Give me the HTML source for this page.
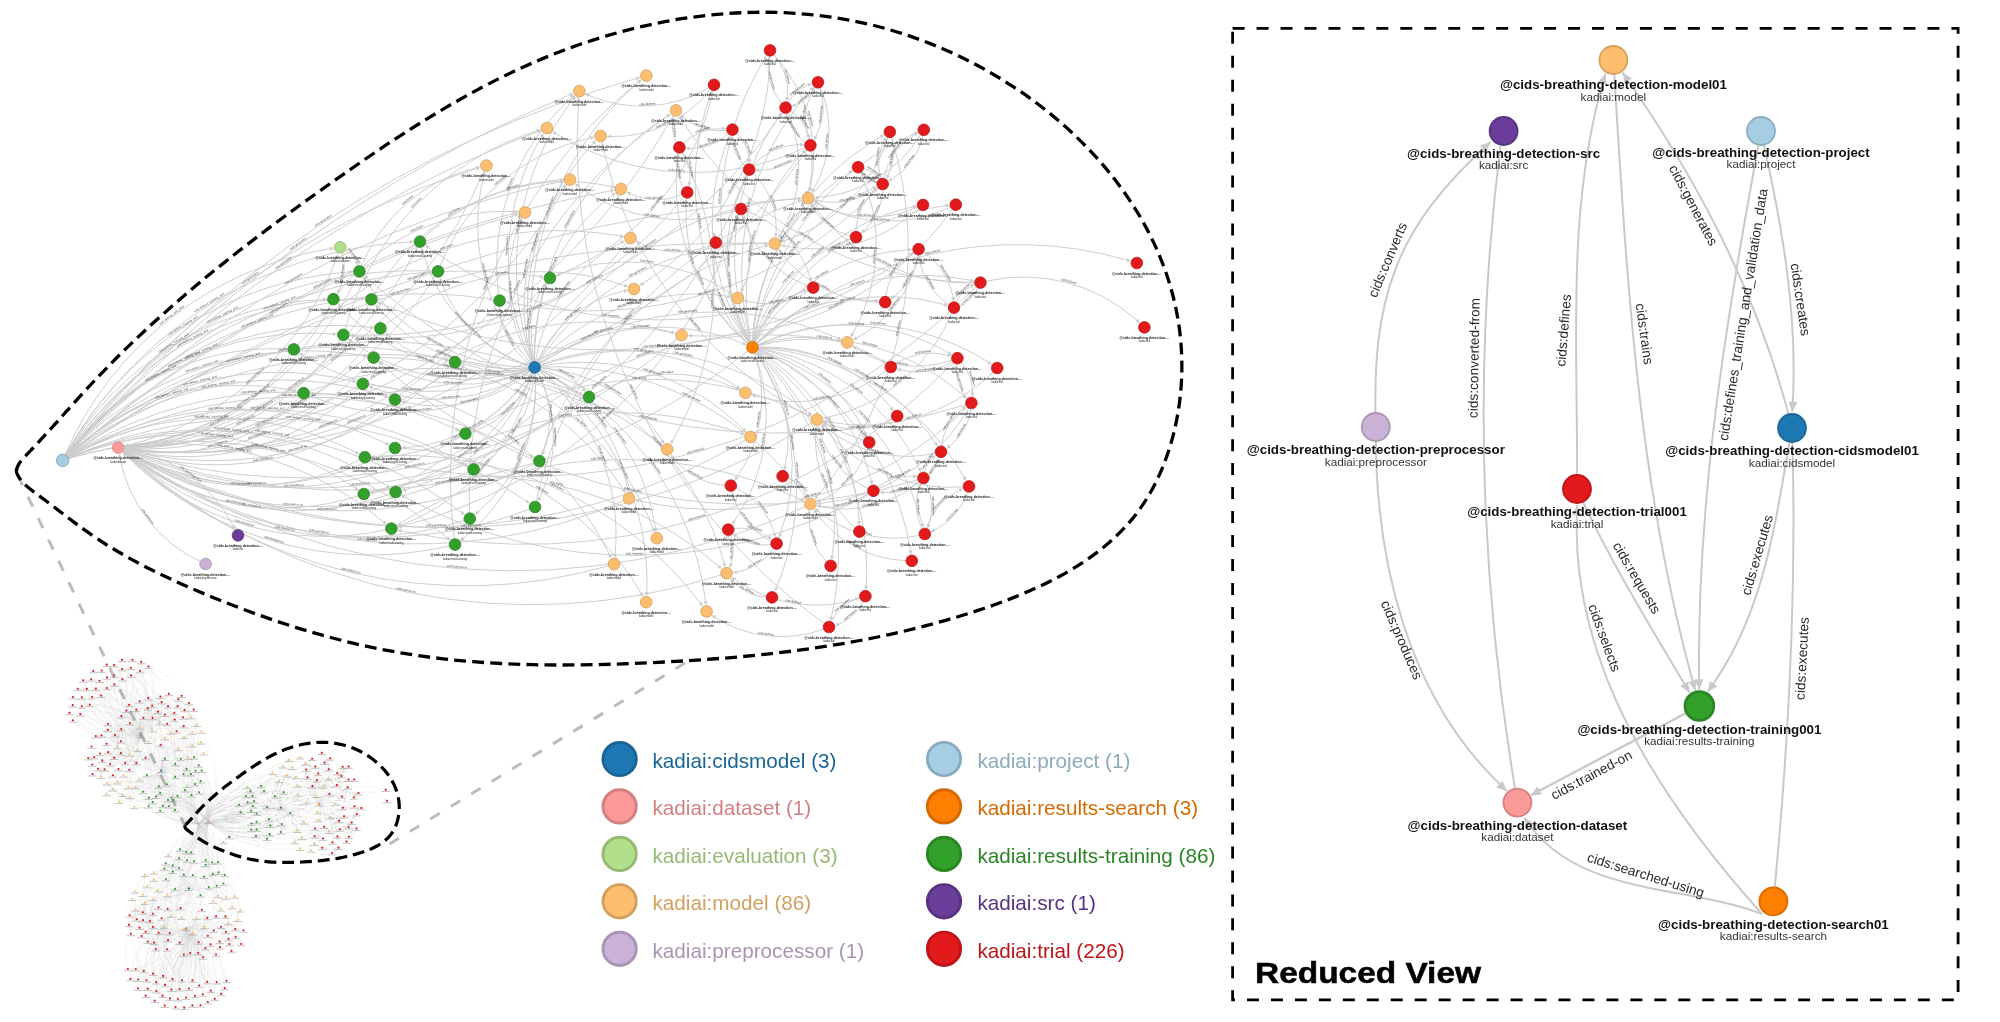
<!DOCTYPE html><html><head><meta charset="utf-8"><title>Graph</title><style>html,body{margin:0;padding:0;background:#fff;overflow:hidden}svg{display:block;will-change:transform}text{font-family:"Liberation Sans",sans-serif}</style></head><body>
<svg width="2000" height="1022" viewBox="0 0 2000 1022">
<rect width="2000" height="1022" fill="#fff"/>
<defs>
<g id="nJ"><circle r="6.2" fill="#a6cee3" stroke="#84a4b5" stroke-width="0.9"/></g>
<g id="nC"><circle r="5.85" fill="#1f78b4" stroke="#186090" stroke-width="0.7"/><text y="11.7" font-size="3.6" font-weight="bold" fill="#1a1a1a">@cids-breathing-detection-...</text><text y="15.1" font-size="2.55" fill="#222">kadiai:cidsmodel</text></g>
<g id="nD"><circle r="5.85" fill="#fb9a99" stroke="#c87b7a" stroke-width="0.7"/><text y="11.7" font-size="3.6" font-weight="bold" fill="#1a1a1a">@cids-breathing-detection-...</text><text y="15.1" font-size="2.55" fill="#222">kadiai:dataset</text></g>
<g id="nE"><circle r="5.85" fill="#b2df8a" stroke="#8eb26e" stroke-width="0.7"/><text y="11.7" font-size="3.6" font-weight="bold" fill="#1a1a1a">@cids-breathing-detection-...</text><text y="15.1" font-size="2.55" fill="#222">kadiai:evaluation</text></g>
<g id="nM"><circle r="5.85" fill="#fdbf6f" stroke="#ca9858" stroke-width="0.7"/><text y="11.7" font-size="3.6" font-weight="bold" fill="#1a1a1a">@cids-breathing-detection-...</text><text y="15.1" font-size="2.55" fill="#222">kadiai:model</text></g>
<g id="nP"><circle r="5.85" fill="#cab2d6" stroke="#a18eab" stroke-width="0.7"/><text y="11.7" font-size="3.6" font-weight="bold" fill="#1a1a1a">@cids-breathing-detection-...</text><text y="15.1" font-size="2.55" fill="#222">kadiai:preprocessor</text></g>
<g id="nS"><circle r="5.85" fill="#ff7f00" stroke="#cc6500" stroke-width="0.7"/><text y="11.7" font-size="3.6" font-weight="bold" fill="#1a1a1a">@cids-breathing-detection-...</text><text y="15.1" font-size="2.55" fill="#222">kadiai:results-search</text></g>
<g id="nT"><circle r="5.85" fill="#33a02c" stroke="#288023" stroke-width="0.7"/><text y="11.7" font-size="3.6" font-weight="bold" fill="#1a1a1a">@cids-breathing-detection-...</text><text y="15.1" font-size="2.55" fill="#222">kadiai:results-training</text></g>
<g id="nR"><circle r="5.85" fill="#6a3d9a" stroke="#54307b" stroke-width="0.7"/><text y="11.7" font-size="3.6" font-weight="bold" fill="#1a1a1a">@cids-breathing-detection-...</text><text y="15.1" font-size="2.55" fill="#222">kadiai:src</text></g>
<g id="nL"><circle r="5.85" fill="#e31a1c" stroke="#b51416" stroke-width="0.7"/><text y="11.7" font-size="3.6" font-weight="bold" fill="#1a1a1a">@cids-breathing-detection-...</text><text y="15.1" font-size="2.55" fill="#222">kadiai:trial</text></g>
</defs>
<g id="bg" font-family='"Liberation Sans", sans-serif' text-anchor="middle">
<path d="M65.1 455.6A351.9 351.9 0 0 1 349 272M357.2 276.3A298.7 298.7 0 0 1 128.5 446.3M529.2 367.4A199.8 199.8 0 0 1 365 280.1M65.3 455.7A315.1 315.1 0 0 1 323 299.5M331 304.1A261.4 261.4 0 0 1 128.5 446.6M529.3 368.4A212.4 212.4 0 0 1 340.4 306.8M65.5 455.9A348.3 348.3 0 0 1 361 299.1M368.7 304.1A293.4 293.4 0 0 1 128.6 447.4M529.2 368A176.8 176.8 0 0 1 378 307.5M65.9 456.1A344.1 344.1 0 0 1 370.1 327.2M377.2 332.8A288 288 0 0 1 128.6 448.4M529.4 368.8A159.1 159.1 0 0 1 388.1 335.4M65.8 456.1A307.6 307.6 0 0 1 333 333.9M340.4 339.3A251.9 251.9 0 0 1 128.6 448M529.5 369.2A194 194 0 0 1 351.6 341.2M65.7 456A256.5 256.5 0 0 1 283.4 348.8M291 354A201.2 201.2 0 0 1 128.6 447.5M529.7 369.7A241.5 241.5 0 0 1 302.5 355.1M66.2 456.4A327.5 327.5 0 0 1 363.4 355.7M370 361.7A270.8 270.8 0 0 1 128.5 449.3M529.7 369.7A161.3 161.3 0 0 1 382.5 363.1M66.5 456.7A309.8 309.8 0 0 1 352.7 381.2M358.9 387.6A252.8 252.8 0 0 1 128.3 450.2M530.2 370.5A172.6 172.6 0 0 1 372.4 387.8M66.4 456.6A250.2 250.2 0 0 1 293.5 390.8M299.8 397.1A193.2 193.2 0 0 1 128.4 449.8M530.2 370.6A232.4 232.4 0 0 1 313.2 397.2M66.7 456.9A337.9 337.9 0 0 1 385.2 396.3M390.8 403A280.9 280.9 0 0 1 128 451M530.6 371A143.3 143.3 0 0 1 405 402.3M65.2 455.7A419.1 419.1 0 0 1 409.6 242M417.6 246.4A365.4 365.4 0 0 1 128.6 446.7M529.5 365.7A170.2 170.2 0 0 1 422.5 251.7M65.6 455.9A420.3 420.3 0 0 1 427.6 270.9M435.2 276A365.1 365.1 0 0 1 128.6 447.7M529.4 365.9A136.2 136.2 0 0 1 441.1 281.3M66.1 456.3A520.4 520.4 0 0 1 539.7 276.4M546.6 282.2A463.9 463.9 0 0 1 128.5 449M532.9 362.3A90.7 90.7 0 0 1 543.8 286.4M66.1 456.3A465.3 465.3 0 0 1 489.3 298.9M496.2 304.8A408.7 408.7 0 0 1 128.5 449.1M530.1 364.3A75.4 75.4 0 0 1 499.9 311M66.5 456.7A404.5 404.5 0 0 1 445 359.5M451.1 365.9A347.5 347.5 0 0 1 128.2 450.3M529.7 369.6A79.8 79.8 0 0 1 464 367.4M66.9 457.2A530.2 530.2 0 0 1 579.4 393M584.6 400.2A473.5 473.5 0 0 1 127.8 451.7M540 367.5A61.9 61.9 0 0 1 582.9 388.6M67.2 457.6A332.6 332.6 0 0 1 385.7 443.3M390.3 450.6A276.8 276.8 0 0 1 127.3 452.6M531.8 372A161.2 161.2 0 0 1 405.4 447.7M67.3 457.7A302.2 302.2 0 0 1 355.7 452.3M360 459.7A246.8 246.8 0 0 1 127.1 453M531.7 371.9A192.1 192.1 0 0 1 375.2 457.3M67.6 458.3A303.1 303.1 0 0 1 355.3 488M358.7 495.7A249.9 249.9 0 0 1 126.2 454.2M532.4 372.3A212.6 212.6 0 0 1 374.1 492.6M67.5 458.2A334.5 334.5 0 0 1 387 486.1M390.5 493.9A280.9 280.9 0 0 1 126.4 454M532.8 372.5A186.7 186.7 0 0 1 405.7 489.6M67.7 458.7A335.8 335.8 0 0 1 383.5 521.8M386.1 529.8A285 285 0 0 1 125.5 455M533.4 372.7A215.6 215.6 0 0 1 401.2 525.1M67.1 457.4A403.7 403.7 0 0 1 456 429.1M460.8 436.5A347.5 347.5 0 0 1 127.5 452.3M532.9 372.5A95.8 95.8 0 0 1 475.3 430.6M67.3 457.7A476.8 476.8 0 0 1 530.3 455.9M534.6 463.5A421.4 421.4 0 0 1 127.1 453M537.4 372A93.7 93.7 0 0 1 543.6 451.5M67.4 457.8A411.1 411.1 0 0 1 464.6 464.1M468.7 471.8A356.1 356.1 0 0 1 127 453.2M534.4 372.8A118.8 118.8 0 0 1 482.5 463.9M67.5 458.2A474.7 474.7 0 0 1 526.5 501M530 509A421 421 0 0 1 126.5 453.9M537.2 372.1A139.6 139.6 0 0 1 539.8 497.8M67.6 458.4A411.3 411.3 0 0 1 461.5 512.3M464.7 520.3A358.7 358.7 0 0 1 126.1 454.4M535.2 372.8A164.5 164.5 0 0 1 477.9 512.1M67.7 458.8A401.3 401.3 0 0 1 447.2 537.7M449.7 545.9A350.5 350.5 0 0 1 125.5 455M535.1 372.8A194.3 194.3 0 0 1 463.3 538.3M64.7 455.4A350 350 0 0 1 329.9 248.7M338.5 252.3A299.1 299.1 0 0 1 128.3 445.2M345 249.6A30.9 30.9 0 0 1 356.2 261.6M342 252.3A52.4 52.4 0 0 1 338.9 290.4M66.7 456.9A481.1 481.1 0 0 1 524.7 364.1M539 364.3A218.7 218.7 0 0 1 742.9 343.3M748.2 350.8A642.1 642.1 0 0 1 127.9 451.3M532.7 362.3A280 280 0 0 1 573 99.2M66.1 456.3A1363.8 1363.8 0 0 1 569.8 94.9M533.8 362.1A312.5 312.5 0 0 1 638.4 82.3M66 456.2A1139.2 1139.2 0 0 1 636.4 78.4M534.5 362A293.3 293.3 0 0 1 667.2 115.9M673.4 115.1A651.8 651.8 0 0 1 128.6 447.3M532.2 362.6A239.7 239.7 0 0 1 541.5 136.8M66.2 456.4A1214.2 1214.2 0 0 1 537.3 131.7M533.3 362.1A240.6 240.6 0 0 1 593.3 143.4M530.9 363.4A207.5 207.5 0 0 1 483.7 175.6M65.9 456.1A831.3 831.3 0 0 1 476.5 168.7M484.3 170.6A463.8 463.8 0 0 1 128.5 446.1M532.9 362.3A191.1 191.1 0 0 1 563.4 187.7M66.3 456.5A947.1 947.1 0 0 1 559.8 181.7M567.3 184.3A525.3 525.3 0 0 1 128.6 447.4M534.3 362A198.2 198.2 0 0 1 612.6 195.1M66.6 456.8A1122.7 1122.7 0 0 1 610.8 190.8M537.2 362.7A321.7 321.7 0 0 1 797.7 198.5M67 457.3A1462 1462 0 0 1 797.7 198.7M531.7 362.8A155.3 155.3 0 0 1 520.7 221.9M66.7 456.8A1153.5 1153.5 0 0 1 515 215.1M535.3 362A161 161 0 0 1 621 242.4M627.1 242.3A553.4 553.4 0 0 1 128.5 448.9M537.6 362.9A270.2 270.2 0 0 1 764.4 243.3M67 457.3A1153.3 1153.3 0 0 1 764.4 243.3M536.7 362.4A126.6 126.6 0 0 1 623.8 290.9M538.2 363.4A214.5 214.5 0 0 1 727.4 296.2M538.7 363.8A150.5 150.5 0 0 1 671.6 332.4M677.5 338.7A574.5 574.5 0 0 1 128.1 450.8M539.6 365.3A212.3 212.3 0 0 1 736.9 386.8M539.1 364.4A313.6 313.6 0 0 1 837.7 338.1M539.9 366.3A226.9 226.9 0 0 1 743.4 429.5M746 439.8A632.5 632.5 0 0 1 127.3 452.6M540 367.7A155.9 155.9 0 0 1 662 440.4M539.5 369.7A161.5 161.5 0 0 1 627.6 488.1M624.1 500.6A513.3 513.3 0 0 1 126.7 453.6M539.5 369.7A210 210 0 0 1 655.5 527.9M538.8 370.8A212.2 212.2 0 0 1 615.2 553.9M608.8 565.7A509.3 509.3 0 0 1 125.8 454.6M539.7 369A281.5 281.5 0 0 1 724.1 563.1M721.5 574.9A621.2 621.2 0 0 1 126 454.4M539 370.5A260 260 0 0 1 646.8 591.8M539.5 369.7A298.6 298.6 0 0 1 705.5 601.2M539.7 365.6A287.2 287.2 0 0 1 809 413M812.4 422.5A699.4 699.4 0 0 1 127.4 452.4M540 367.1A307.8 307.8 0 0 1 804.5 495.4M805.5 506.3A694.5 694.5 0 0 1 126.8 453.4M361.3 266.4A165.3 165.3 0 0 1 476.2 167.7M336.6 294.9A210.3 210.3 0 0 1 514.6 211.6M374.1 294.7A231.9 231.9 0 0 1 559.6 180M384.6 325.1A256.6 256.6 0 0 1 624.2 285.4M344.8 329.6A290.2 290.2 0 0 1 537 130.9M297.4 345.4A354.6 354.6 0 0 1 620.2 236M379 357.5A291.6 291.6 0 0 1 623.5 489.6M368.2 384.4A309.3 309.3 0 0 1 609.6 554.8M308.6 391.3A367.9 367.9 0 0 1 659 443M399 396A293.7 293.7 0 0 1 671.6 332.3M423.9 237.9A207.8 207.8 0 0 1 610.9 186.5M439.9 266.4A211.6 211.6 0 0 1 590.4 138M555 275.9A188.7 188.7 0 0 1 729 292.1M498.8 295.3A224.3 224.3 0 0 1 571.5 97.8M460.3 363.3A267.8 267.8 0 0 1 653.2 528.4M593.7 394.3A156.5 156.5 0 0 1 736.1 388.2M400.4 448.2A294.8 294.8 0 0 1 641.1 593.1M370.2 456.7A375 375 0 0 1 700.4 603.1M369 492.4A371.3 371.3 0 0 1 718.8 566.3M399.8 488.6A359.2 359.2 0 0 1 740.9 433.4M395.9 525.7A419.7 419.7 0 0 1 801 499.5M470 430.8A351.9 351.9 0 0 1 807.7 414.9M541 455.9A320.4 320.4 0 0 1 764.7 246.1M477.2 465.4A394.6 394.6 0 0 1 837 340.5M536.1 501.7A412.4 412.4 0 0 1 798.3 201.4M469.5 513.2A457.3 457.3 0 0 1 667.4 116.2M454.3 539.2A506.6 506.6 0 0 1 638.2 82.1M750 342.6A297.5 297.5 0 0 1 764.4 59.2M773.7 54.3A152.4 152.4 0 0 1 810.5 187.9M770 55.8A274.6 274.6 0 0 1 642.9 283.6M773.7 54.4A59.3 59.3 0 0 1 787.4 97.4M781.9 103.6A59.3 59.3 0 0 1 768.2 60.6M749.1 343.1A265.4 265.4 0 0 1 710.3 94.5M710.8 89.1A124.4 124.4 0 0 1 611 136.6M709.4 87.6A134.7 134.7 0 0 1 588.8 95.4M713 90.1A253.4 253.4 0 0 1 559.7 274.3M750.4 342.4A242.1 242.1 0 0 1 779.4 115.9M787.8 112.5A136.4 136.4 0 0 1 780.4 234.8M782.6 112.1A497.2 497.2 0 0 1 353.8 335.2M790.3 110.3A45.1 45.1 0 0 1 808.6 135.1M805.7 142.6A45.1 45.1 0 0 1 787.4 117.8M749.3 343A218.7 218.7 0 0 1 728.3 139.1M727.1 130.4A59.6 59.6 0 0 1 683.5 117.6M736.5 133.1A43.4 43.4 0 0 1 749.3 159.2M745.1 166.1A43.4 43.4 0 0 1 732.3 140M748.3 343.9A212.9 212.9 0 0 1 677.9 157.7M676.6 142.8A37.2 37.2 0 0 1 673 120.3M681.9 152.2A302.2 302.2 0 0 1 672.6 440.5M683.2 143.5A55.9 55.9 0 0 1 722.1 128.5M728.6 133.5A55.9 55.9 0 0 1 689.7 148.5M749.7 342.7A177.8 177.8 0 0 1 744.4 178.8M753.2 173.3A78.3 78.3 0 0 1 776.1 233.3M747.3 174.7A503.8 503.8 0 0 1 374 492.1M752.7 165.5A65.8 65.8 0 0 1 800 144.6M806.9 149.4A65.8 65.8 0 0 1 759.6 170.3M748.2 344.1A168.2 168.2 0 0 1 686.2 202.8M682.3 194.7A66.3 66.3 0 0 1 630.1 193.9M683.9 196.7A372.1 372.1 0 0 1 353.7 336M684 188.1A45.7 45.7 0 0 1 677 157.5M682.6 151.7A45.7 45.7 0 0 1 689.6 182.3M749.4 342.9A138.9 138.9 0 0 1 736.9 218.6M743.4 213.8A89.1 89.1 0 0 1 742.6 288.9M735.9 210.8A173.5 173.5 0 0 1 578.2 186M739.3 214.1A473.7 473.7 0 0 1 401.5 526.2M751 342.2A273.1 273.1 0 0 1 810.9 89.9M820.2 87.2A116.1 116.1 0 0 1 813.7 189.2M815.7 87.2A41.1 41.1 0 0 1 795.6 104.9M787.9 102.7A41.1 41.1 0 0 1 808 85M751.2 342.1A210.3 210.3 0 0 1 803.1 152.7M811.2 150.6A104.5 104.5 0 0 1 782.4 236.5M805.5 147.6A264 264 0 0 1 555.8 133.6M807.4 149.8A564.2 564.2 0 0 1 314 393.8M808.5 140.2A63.5 63.5 0 0 1 812.5 91.1M819.9 87.4A63.5 63.5 0 0 1 815.9 136.5M752.7 342A255.6 255.6 0 0 1 880.7 136.9M888.2 137.1A160.3 160.3 0 0 1 784.8 240.7M891.4 137A380.5 380.5 0 0 1 817.3 496.2M891.6 137A52.6 52.6 0 0 1 888.2 175.2M880.9 178.9A52.6 52.6 0 0 1 884.3 140.7M753.2 342.1A277 277 0 0 1 914.2 133.8M921 134.4A134.3 134.3 0 0 1 818.5 197.5M922.9 135.1A68 68 0 0 1 891.9 179.2M883.6 178.7A68 68 0 0 1 914.6 134.6M752.5 342A208.9 208.9 0 0 1 849.2 172.6M860.4 172.1A175.5 175.5 0 0 1 852.7 333.6M863.4 168.1A29.8 29.8 0 0 1 876.7 175.6M877.4 183.1A29.8 29.8 0 0 1 864.1 175.6M753.3 342.1A209 209 0 0 1 873.1 188M878.5 187.4A75.9 75.9 0 0 1 818.1 200.8M879 187.9A400.5 400.5 0 0 1 509.8 302.8M754.3 342.4A222.3 222.3 0 0 1 912.8 206.9M918.1 207.2A115.1 115.1 0 0 1 817 203.3M919.1 208.6A153.2 153.2 0 0 1 784.9 246M754.7 342.5A248.5 248.5 0 0 1 945.5 205.8M951 207.1A147.9 147.9 0 0 1 817.1 203.3M952.7 209.1A303.7 303.7 0 0 1 692 335.8M748.4 343.8A111 111 0 0 1 714.3 252.9M710.9 244.9A85.5 85.5 0 0 1 639.4 243.1M753.7 342.2A151.4 151.4 0 0 1 846.2 240.3M850.7 235.9A61.8 61.8 0 0 1 812.6 207.4M855.9 231.6A59.3 59.3 0 0 1 874.5 190.4M882.8 189.4A59.3 59.3 0 0 1 864.2 230.6M755.1 342.7A193 193 0 0 1 908.2 249.6M917.8 254.5A117.4 117.4 0 0 1 856.6 338M914.2 252.3A549.5 549.5 0 0 1 380.9 303.7M756.2 343.6A237 237 0 0 1 970.3 280.3M975 282.9A191.9 191.9 0 0 1 814.1 206.5M975 282.6A349.7 349.7 0 0 1 681.4 119.3M976.6 286.5A639.9 639.9 0 0 1 374.9 459.7M978.5 287.6A36.4 36.4 0 0 1 963.6 303.8M955.9 302.6A36.4 36.4 0 0 1 970.8 286.4M754 342.2A85.3 85.3 0 0 1 803.3 290.8M808.8 290.8A76.3 76.3 0 0 1 747.5 301.3M808.2 289.7A395.9 395.9 0 0 1 428.4 247.7M808.1 285.9A106.7 106.7 0 0 1 743.8 219M746.1 210.7A106.7 106.7 0 0 1 810.4 277.6M756 343.4A140.3 140.3 0 0 1 874.9 300.6M879.8 302.3A125 125 0 0 1 780.7 252.2M885.6 296.8A62.6 62.6 0 0 1 909.8 254.8M918.2 254.6A62.6 62.6 0 0 1 894 296.6M756.5 343.9A205.5 205.5 0 0 1 944.1 304.5M952 312.6A177 177 0 0 1 827.2 417.6M949.4 304.8A68.3 68.3 0 0 1 919.6 259.5M923.2 252A68.3 68.3 0 0 1 953 297.3M757.2 345A205.3 205.3 0 0 1 948.5 352.8M952.3 360.1A111.3 111.3 0 0 1 855.7 348.4M953.7 362.1A591.1 591.1 0 0 1 401.5 530.9M961.2 362.1A46.9 46.9 0 0 1 972.5 392.7M967.6 399.1A46.9 46.9 0 0 1 956.3 368.5M757.3 345.2A245.7 245.7 0 0 1 988.5 362.2M993.4 371.8A187.4 187.4 0 0 1 827.2 421.8M757.4 345.5A139.8 139.8 0 0 1 882.4 360.9M886.6 370.4A147.7 147.7 0 0 1 755.3 396M895.2 363.9A67.2 67.2 0 0 1 947.5 355M953 361.3A67.2 67.2 0 0 1 900.7 370.2M757.6 346A225.9 225.9 0 0 1 963.8 395.9M968.8 407.7A190.1 190.1 0 0 1 820.8 503.3M967.6 406.8A355.4 355.4 0 0 1 639.1 500.8M966.3 404.6A626 626 0 0 1 367.2 278.3M971 408.4A57.5 57.5 0 0 1 949.7 446.1M941.4 446.4A57.5 57.5 0 0 1 962.7 408.7M756 351.4A132.3 132.3 0 0 1 785.2 466.1M787.7 478A39.3 39.3 0 0 1 806.4 494.4M754.2 352.5A139.9 139.9 0 0 1 737 477.3M725.4 485.4A73.2 73.2 0 0 1 673.1 458M735.7 487.8A73.9 73.9 0 0 1 774.4 533.4M771.7 541.4A73.9 73.9 0 0 1 733 495.8M754.4 352.4A183.8 183.8 0 0 1 734.3 521.2M730.4 534.5A43.6 43.6 0 0 1 731 563.8M733.5 528.6A50.4 50.4 0 0 1 768.7 536.9M771.3 544.6A50.4 50.4 0 0 1 736.1 536.3M755.6 351.8A197.7 197.7 0 0 1 780.4 533.9M773.7 548.2A58.1 58.1 0 0 1 736.9 572.2M755.4 351.9A250.8 250.8 0 0 1 776.3 587.9M766.6 597.3A51.4 51.4 0 0 1 733 581.4M757.8 347.1A160.2 160.2 0 0 1 891 407.6M892.6 418.8A80.3 80.3 0 0 1 826.5 423.8M757.7 348.4A150.6 150.6 0 0 1 865.2 432.8M867.8 447.6A85.2 85.2 0 0 1 820.2 500.5M864.1 440.6A407.5 407.5 0 0 1 602.8 146.2M757.8 347.4A215.6 215.6 0 0 1 935.4 443M935.8 453.1A128.1 128.1 0 0 1 824.7 426.6M940.2 457.1A31.6 31.6 0 0 1 931.8 472M924.2 472.7A31.6 31.6 0 0 1 932.6 457.8M757.7 348.2A215.2 215.2 0 0 1 919.2 468.5M919.4 481.6A116 116 0 0 1 820.5 506.6M918.2 479.6A562.8 562.8 0 0 1 381.4 364.5M757.8 347.7A257.4 257.4 0 0 1 964 477.3M963.6 486.9A166 166 0 0 1 823.4 427.8M967.6 491.6A65 65 0 0 1 934.5 530.2M926.2 528.8A65 65 0 0 1 959.3 490.2M757.5 349.3A187.6 187.6 0 0 1 871.3 480.6M868.4 488.7A90.8 90.8 0 0 1 819.1 429.8M869.2 494.2A64.4 64.4 0 0 1 820.5 506.4M868.7 493.5A477.8 477.8 0 0 1 404.7 497.1M877.5 487.2A51.6 51.6 0 0 1 913.2 476.2M919.3 481.6A51.6 51.6 0 0 1 883.6 492.6M757 350.1A213 213 0 0 1 859.1 521.2M855.3 528.1A119.8 119.8 0 0 1 815.8 429.9M757.5 349.1A254 254 0 0 1 922.3 523.9M919.6 535.3A118.3 118.3 0 0 1 818.1 511M922.2 529.3A56 56 0 0 1 919.3 487.5M926 482.7A56 56 0 0 1 928.9 524.5M757.3 349.6A266.4 266.4 0 0 1 910.4 550.5M906.4 560.7A116.2 116.2 0 0 1 816.1 512.7M756.5 350.9A232 232 0 0 1 832.2 555.5M826.7 562A65 65 0 0 1 809.1 514.3M756.8 350.6A273.3 273.3 0 0 1 866.2 585.8M860.3 598A140.7 140.7 0 0 1 734.9 579.5M863.3 601.2A47.7 47.7 0 0 1 839 624.1M831.1 622A47.7 47.7 0 0 1 855.4 599.1M756.2 351.2A289.9 289.9 0 0 1 831.5 616.9M824 629A123.4 123.4 0 0 1 715.1 617.4M824.6 623.9A591.3 591.3 0 0 1 578.6 101.4M756.4 343.8A393.6 393.6 0 0 1 1126.8 260M985.6 281.3A170 170 0 0 1 1136.9 320.2M123.6 448.3A148.5 148.5 0 0 1 233.5 526M200.7 561.8A145.6 145.6 0 0 1 119.8 457.9" fill="none" stroke="#cbcbcb" stroke-width="0.95"/>
<path d="M353.2 271.7L349.2 274L348.9 270ZM124.4 446.9L128.2 444.3L128.8 448.3ZM362.7 276.6L366.7 279L363.4 281.3ZM327.2 299.3L323.1 301.5L322.9 297.5ZM124.4 447L128.3 444.6L128.8 448.5ZM337.6 303.8L341.9 305.5L339 308.2ZM365.2 299.2L361 301.1L361 297.1ZM124.4 447.5L128.5 445.4L128.7 449.4ZM375.2 304.3L379.5 306.2L376.4 308.8ZM374.2 327.7L369.9 329.2L370.3 325.2ZM124.4 448.1L128.7 446.4L128.4 450.4ZM384.9 332.6L389.4 333.9L386.8 336.9ZM337.2 334.2L332.9 335.9L333.2 331.9ZM124.4 447.9L128.6 446L128.5 450ZM348.2 338.7L352.8 339.6L350.4 342.8ZM287.6 349L283.3 350.8L283.5 346.8ZM124.4 447.6L128.5 445.5L128.7 449.5ZM299 352.8L303.6 353.4L301.4 356.8ZM367.5 356.4L363 357.6L363.7 353.7ZM124.3 448.7L128.8 447.3L128.2 451.3ZM378.8 360.9L383.5 361.3L381.4 364.8ZM356.8 382.2L352.3 383.1L353.2 379.2ZM124.2 449.2L128.7 448.2L127.8 452.1ZM368.5 386.3L373.1 386L371.6 389.7ZM297.6 391.7L293 392.8L293.9 388.9ZM124.2 449L128.8 447.8L128 451.7ZM309.3 395.6L314 395.3L312.5 399ZM389.1 397.6L384.5 398.2L385.8 394.4ZM124 449.7L128.7 449.1L127.4 452.9ZM401 401.3L405.5 400.3L404.6 404.2ZM413.8 241.8L409.7 244L409.5 240ZM124.4 447.1L128.4 444.7L128.8 448.7ZM421.4 247.6L424.5 251.2L420.6 252.2ZM431.8 271.1L427.5 272.9L427.7 268.9ZM124.4 447.7L128.6 445.7L128.6 449.7ZM439.8 277.3L443 280.7L439.2 282ZM543.9 277L539.4 278.4L540 274.4ZM124.3 448.5L128.8 447L128.2 451ZM546.2 282.9L545.5 287.5L542.2 285.2ZM493.5 299.6L489 300.9L489.6 296.9ZM124.3 448.5L128.8 447.1L128.2 451.1ZM499.6 306.8L501.9 310.8L497.9 311.1ZM449 360.5L444.5 361.4L445.5 357.5ZM124.2 449.2L128.7 448.3L127.8 452.2ZM460.3 365.4L464.9 365.6L463.1 369.2ZM583.3 394.6L578.6 394.9L580.2 391.2ZM123.9 450.1L128.5 449.9L127 453.5ZM585.5 391.9L581.3 389.9L584.4 387.4ZM389.5 445.2L384.8 445.1L386.6 441.5ZM123.6 450.6L128.2 450.9L126.3 454.4ZM401.2 447.9L405.3 445.7L405.5 449.7ZM359.4 454.2L354.7 454L356.6 450.5ZM123.5 450.8L128.1 451.2L126.1 454.7ZM371 457.3L375.2 455.3L375.2 459.3ZM358.8 490.4L354.2 489.6L356.5 486.3ZM123 451.6L127.5 452.7L125 455.8ZM369.9 493.2L373.8 490.6L374.4 494.5ZM390.5 488.5L385.9 487.8L388.2 484.4ZM123.1 451.5L127.6 452.4L125.2 455.6ZM401.6 490.6L405.2 487.6L406.2 491.5ZM386.7 524.5L382.2 523.3L384.8 520.3ZM122.5 452.1L126.9 453.6L124.1 456.4ZM397.3 526.6L400.5 523.2L401.9 527ZM459.8 430.9L455.2 430.9L456.9 427.3ZM123.7 450.4L128.4 450.5L126.6 454.1ZM471.4 431.9L474.7 428.7L476 432.5ZM534 457.9L529.4 457.6L531.3 454.1ZM123.5 450.8L128.1 451.3L126.1 454.7ZM542 455.4L541.8 450.7L545.5 452.2ZM468.3 466.2L463.6 465.8L465.6 462.4ZM123.4 451L128 451.5L125.9 454.9ZM478.9 466.2L481.4 462.3L483.5 465.6ZM529.9 503.4L525.3 502.7L527.6 499.4ZM123.1 451.4L127.7 452.3L125.3 455.5ZM538 501.6L538 496.9L541.6 498.7ZM464.9 514.8L460.3 513.9L462.7 510.7ZM122.9 451.7L127.4 452.8L124.8 455.9ZM474.7 514.8L476.6 510.6L479.2 513.6ZM450.4 540.5L445.9 539.2L448.5 536.2ZM122.5 452L126.9 453.6L124.1 456.4ZM460 540.9L462 536.7L464.5 539.9ZM334.1 248.1L330.2 250.7L329.6 246.7ZM124.2 446.2L127.9 443.3L128.8 447.2ZM357.9 265.4L354.4 262.4L358 260.8ZM336.9 294.1L337.1 289.4L340.6 291.3ZM528.7 365.4L524.1 366L525.3 362.2ZM746.7 344.9L742.1 345.1L743.6 341.4ZM124 449.8L128.6 449.4L127.2 453.1ZM575.5 95.8L574.6 100.4L571.4 98ZM573.7 93.3L570.5 96.8L569 93.1ZM641.6 79.6L639.7 83.8L637.1 80.8ZM640.4 77.3L636.9 80.4L635.8 76.5ZM670.7 113.7L668.3 117.6L666.1 114.3ZM124.4 447.4L128.5 445.3L128.7 449.3ZM543.7 133.2L543.2 137.9L539.8 135.8ZM541.2 130.2L538 133.5L536.6 129.8ZM596.2 140.4L594.7 144.8L591.8 142ZM484.7 171.6L485.6 176.1L481.7 175.1ZM480.5 167.4L477.1 170.6L475.9 166.7ZM124.3 446.8L128.2 444.2L128.8 448.1ZM566 184.4L565 188.9L561.9 186.4ZM563.9 180.8L560.2 183.6L559.4 179.7ZM124.4 447.5L128.5 445.4L128.7 449.4ZM615.9 192.6L613.7 196.7L611.4 193.5ZM614.9 190.1L611.1 192.8L610.4 188.9ZM801.9 198.3L797.8 200.5L797.6 196.5ZM801.9 198.4L797.9 200.7L797.6 196.7ZM522.3 218L522.5 222.7L518.8 221.1ZM519 214L515.5 217.1L514.4 213.2ZM624.8 240.6L621.9 244.2L620.1 240.7ZM124.3 448.4L128.8 446.9L128.3 450.9ZM768.6 243.4L764.4 245.3L764.4 241.3ZM768.6 243.4L764.4 245.3L764.5 241.3ZM627.9 290L624.2 292.9L623.4 289ZM731.5 296.9L727 298.2L727.7 294.3ZM675.7 333.4L671.1 334.3L672.1 330.5ZM124.1 449.6L128.7 448.9L127.5 452.8ZM740.4 389.2L735.8 388.4L738.1 385.1ZM841.6 339.8L836.9 339.9L838.5 336.3ZM746.4 432.5L742 430.8L744.9 428.1ZM123.6 450.6L128.3 450.8L126.4 454.3ZM664.2 444L660.3 441.5L663.7 439.4ZM628.3 492.2L625.6 488.4L629.6 487.8ZM123.3 451.2L127.8 451.9L125.6 455.2ZM656.1 532L653.6 528.2L657.5 527.6ZM614.8 558L613.2 553.7L617.2 554.1ZM122.7 451.8L127.2 453.2L124.5 456.1ZM725.1 567.2L722.1 563.6L726 562.6ZM122.9 451.7L127.3 452.9L124.7 456ZM646.6 596L644.8 591.7L648.8 591.9ZM706 605.3L703.5 601.4L707.5 600.9ZM812.2 415.6L807.7 414.6L810.2 411.4ZM123.7 450.5L128.4 450.6L126.5 454.1ZM806.9 498.9L802.9 496.6L806.1 494.3ZM123.3 451.1L127.9 451.8L125.7 455.1ZM480.3 166.8L476.7 169.6L475.8 165.7ZM518.8 211.9L514.5 213.6L514.7 209.6ZM563.8 179.8L559.7 182L559.5 178ZM628.2 286.8L623.6 287.3L624.9 283.6ZM541 129.7L537.6 132.9L536.4 129ZM624.3 236.8L619.8 238L620.5 234.1ZM625.7 493.1L621.8 490.7L625.1 488.5ZM611.4 558.6L607.8 555.7L611.4 553.9ZM662.3 445.6L657.8 444.6L660.2 441.4ZM675.7 333.4L671.1 334.2L672.2 330.4ZM615 187.4L610.5 188.5L611.4 184.6ZM594.5 137.1L590.8 140L590 136.1ZM732.5 294.4L727.9 293.8L730.1 290.4ZM574.6 95L572.8 99.3L570.2 96.2ZM654.7 532.4L651.4 529.1L655.1 527.7ZM739.9 390L735.2 390L737 386.3ZM643.2 596.8L639.4 594.1L642.8 592.1ZM702.9 606.5L698.8 604.3L702 601.9ZM722 569.1L717.5 567.8L720.1 564.8ZM744.8 434.8L740.2 435.3L741.5 431.5ZM804.8 501.3L800.2 501.3L801.9 497.6ZM811.5 416.8L806.8 416.7L808.6 413.1ZM768.8 245L765.2 248L764.2 244.1ZM841.1 341.2L836.6 342.5L837.3 338.5ZM802.2 200L799 203.3L797.6 199.5ZM670.8 113.8L668.5 117.8L666.2 114.5ZM641.5 79.4L639.5 83.6L637 80.5ZM766.6 55.6L766.1 60.2L762.7 58.1ZM809.6 192L808.6 187.5L812.5 188.3ZM639.3 285.8L641.8 281.9L643.9 285.3ZM786.9 101.5L785.4 97.1L789.3 97.6ZM768.7 56.5L770.2 60.9L766.3 60.4ZM711.8 90.6L712.2 95.2L708.5 93.9ZM606.8 136.5L611 134.6L610.9 138.6ZM585 93.7L589.6 93.6L588 97.2ZM555.8 275.8L559 272.4L560.5 276.2ZM781.9 112.5L781 117.1L777.8 114.8ZM778.2 238.4L778.7 233.8L782.1 235.8ZM349.6 335.1L353.9 333.2L353.7 337.2ZM809.6 139.2L806.7 135.6L810.6 134.6ZM786.4 113.7L789.3 117.3L785.4 118.3ZM729.9 135.3L730.1 139.9L726.4 138.4ZM680.3 114.8L684.8 116.1L682.2 119.1ZM749.5 163.4L747.3 159.4L751.3 159.1ZM732.1 135.8L734.3 139.8L730.3 140.1ZM678.4 153.5L679.8 158L675.9 157.4ZM673.9 116.2L675 120.7L671.1 119.9ZM670.5 444.1L670.9 439.5L674.3 441.5ZM726.3 128.7L722 130.5L722.2 126.5ZM685.5 148.3L689.8 146.5L689.6 150.5ZM746.3 175.1L746.2 179.7L742.6 178ZM775.7 237.5L774.1 233.1L778.1 233.5ZM369.9 492.9L373.6 490.1L374.4 494ZM804.2 144.7L800 146.6L800.1 142.6ZM755.4 170.2L759.6 168.3L759.5 172.3ZM686.5 198.6L688.2 202.9L684.2 202.6ZM626.4 192.1L631 192.1L629.3 195.7ZM349.6 335.6L353.9 334L353.5 338ZM677.7 153.3L678.9 157.8L675 157.1ZM688.9 186.5L687.7 182L691.6 182.7ZM738.5 214.7L738.8 219.3L735.1 217.8ZM740.7 292.6L740.8 288L744.4 289.8ZM574.8 183.5L579.4 184.4L577 187.6ZM397.4 527.2L401.1 524.3L402 528.2ZM813.8 86.8L812.4 91.3L809.5 88.6ZM811.5 192.8L811.9 188.2L815.4 190.2ZM791.7 106.3L794.9 103L796.3 106.8ZM811.9 83.6L808.7 86.9L807.3 83.1ZM806 149.7L804.5 154.1L801.7 151.3ZM779.4 239.5L781 235.1L783.8 237.9ZM552.2 131.4L556.8 131.9L554.7 135.3ZM309.8 393.6L314.1 391.8L313.9 395.8ZM814.5 87.4L814.2 92.1L810.7 90.1ZM813.9 140.2L814.2 135.5L817.7 137.5ZM884.3 134.8L881.7 138.6L879.7 135.1ZM780.8 242L784.2 238.8L785.4 242.6ZM814.5 499.4L815.7 494.9L818.8 497.5ZM886.2 178.9L886.5 174.2L890 176.2ZM886.3 137L886 141.7L882.5 139.7ZM918.1 132.2L915 135.7L913.4 132ZM814.3 197.8L818.3 195.5L818.6 199.5ZM888.3 181.3L890.9 177.5L892.9 181ZM918.2 132.5L915.6 136.3L913.6 132.8ZM852.8 170.3L850.2 174.3L848.1 170.9ZM850.5 337.2L851 332.5L854.4 334.6ZM879.5 178.7L875.2 176.9L878.2 174.3ZM861.3 172.5L865.6 174.3L862.6 176.9ZM877 186.4L873.9 189.9L872.3 186.2ZM814 199.8L818.6 198.8L817.7 202.7ZM505.6 302L510.2 300.9L509.3 304.8ZM916.9 206L913.2 208.9L912.4 205ZM813.4 201.3L818 201.6L816 205.1ZM780.8 245.1L785.3 244.1L784.5 248ZM949.6 205.3L945.7 207.8L945.2 203.8ZM813.4 201.2L818 201.5L816.1 205ZM687.8 335.6L692.1 333.8L691.9 337.8ZM714.8 248.7L716.3 253.1L712.4 252.7ZM635.7 241.2L640.4 241.4L638.5 244.9ZM850.1 238.9L846.8 242.2L845.5 238.5ZM810.6 203.7L814.4 206.4L810.8 208.3ZM877.7 187.7L875.9 191.9L873.2 188.9ZM861 233.3L862.8 229.1L865.5 232.1ZM912.4 249.4L908.3 251.6L908.1 247.6ZM852.9 339.9L855.7 336.2L857.5 339.8ZM377 302L381.7 301.8L380.1 305.5ZM974.4 281.2L969.8 282.2L970.7 278.3ZM811.6 203.1L815.7 205.3L812.5 207.7ZM679.2 115.7L683.1 118.2L679.7 120.3ZM370.8 458.7L375.4 457.7L374.4 461.6ZM959.9 305.7L962.7 302L964.5 305.6ZM974.5 284.5L971.7 288.2L969.9 284.6ZM807.3 289.4L804 292.7L802.6 288.9ZM743.4 300.1L748 299.3L746.9 303.2ZM425 245.3L429.6 246.1L427.3 249.3ZM742.5 215L745.7 218.4L741.8 219.6ZM811.7 281.6L808.5 278.2L812.4 277ZM879.1 301.1L874.7 302.5L875.2 298.6ZM778.2 248.8L782.3 251L779.1 253.3ZM913.3 252.4L911 256.4L908.7 253.2ZM890.5 299L892.8 295L895.1 298.2ZM948.1 305.7L943.5 306.4L944.6 302.6ZM823.1 418.5L826.8 415.7L827.6 419.6ZM919 255.4L921.6 259.3L917.6 259.8ZM953.6 301.4L951 297.5L955 297ZM952.2 354.9L947.5 354.5L949.6 351ZM852.2 346.1L856.8 346.8L854.6 350.1ZM397.4 530L402 528.9L401.1 532.8ZM972.4 396.9L970.5 392.6L974.5 392.8ZM956.4 364.3L958.3 368.6L954.3 368.4ZM992.1 364.5L987.5 363.9L989.6 360.6ZM823 421L827.6 419.9L826.8 423.8ZM885.8 363.3L881.2 362.5L883.5 359.3ZM751.3 394.8L755.9 394.1L754.7 397.9ZM951.6 356.1L947 356.9L948.1 353.1ZM896.6 369.1L901.2 368.3L900.1 372.1ZM966.9 398.7L962.4 397.4L965.1 394.4ZM816.6 503.7L820.6 501.3L820.9 505.3ZM635 499.9L639.6 498.9L638.7 502.8ZM364 275.5L368.5 276.8L365.8 279.8ZM946.3 448.6L948.5 444.5L950.9 447.7ZM966.1 406.2L963.9 410.3L961.5 407.1ZM784.3 470.2L783.3 465.7L787.2 466.6ZM808.3 498.2L804.6 495.3L808.2 493.5ZM734.6 480.7L735.4 476.1L738.7 478.4ZM670.6 454.6L674.7 456.8L671.5 459.2ZM775.4 537.5L772.4 534L776.3 532.9ZM732 491.7L735 495.2L731.1 496.3ZM731.9 524.6L732.7 520L735.9 522.3ZM729.5 567.7L729.2 563.1L732.9 564.5ZM772 539.4L767.5 538.5L769.9 535.3ZM732.8 533.8L737.3 534.7L734.9 537.9ZM778.9 537.9L778.5 533.2L782.3 534.6ZM732.8 572.8L736.6 570.2L737.2 574.1ZM774.6 591.8L774.5 587.1L778.1 588.7ZM730.2 578.3L734.5 580.1L731.4 582.7ZM893.6 411L889.4 408.9L892.6 406.4ZM822.6 422.2L827.2 421.9L825.8 425.6ZM866.9 436.7L863.3 433.6L867 432ZM816.3 502L819.4 498.6L820.9 502.3ZM601.9 142.1L604.7 145.7L600.8 146.6ZM937.7 446.5L933.8 444.1L937.1 441.9ZM821.5 423.8L826 425.1L823.4 428.1ZM928.7 474.7L930.5 470.5L933.1 473.5ZM935.7 455.1L933.9 459.3L931.3 456.3ZM920.9 472.3L917.4 469.3L921 467.7ZM816.4 505.7L820.9 504.6L820 508.5ZM378.2 361.8L382.7 363L380 366ZM966.1 480.9L962.3 478.2L965.8 476.3ZM820.8 424.5L825 426.5L821.9 429ZM930.6 531.9L933.6 528.3L935.3 532ZM963.2 488.5L960.2 492.1L958.5 488.4ZM872.2 484.7L869.3 481.1L873.2 480.2ZM818.1 425.7L821 429.3L817.2 430.3ZM816.4 505.6L820.9 504.5L820.1 508.4ZM401 495.1L405.6 495.3L403.7 498.8ZM917.3 476.7L912.9 478.2L913.4 474.2ZM879.5 492.1L883.9 490.6L883.4 494.6ZM859.3 525.4L857.1 521.3L861.1 521.1ZM816.2 425.7L817.8 430.1L813.8 429.7ZM923.4 528L920.4 524.4L924.2 523.4ZM814.9 508.2L819.4 509.5L816.8 512.5ZM920.7 483.6L921.2 488.2L917.4 486.9ZM927.5 528.4L927 523.8L930.8 525.1ZM911 554.7L908.4 550.8L912.4 550.2ZM813.7 509.2L817.8 511.5L814.5 513.8ZM831.6 559.7L830.3 555.2L834.2 555.8ZM809.4 510.1L811.1 514.5L807.1 514.1ZM865.9 590L864.2 585.7L868.2 586ZM731.5 577L736 577.9L733.7 581.1ZM835 625.5L838.3 622.2L839.6 625.9ZM859.4 597.7L856.1 601L854.8 597.3ZM830.5 621L829.5 616.4L833.4 617.3ZM711.6 615.1L716.2 615.8L714 619.1ZM578.9 97.2L580.6 101.5L576.6 101.2ZM1130.9 261.2L1126.3 261.9L1127.4 258.1ZM1140 323.1L1135.5 321.7L1138.2 318.8ZM235.4 529.8L231.7 526.9L235.3 525.1ZM119.1 453.7L121.8 457.5L117.8 458.2Z" fill="#cbcbcb"/>
<g font-size="3.05" fill="#444"><text transform="translate(185.7 326.1) rotate(-32.5)" y="-0.9">cids:defines_training_and_...</text><text transform="translate(262.4 391.8) rotate(-36.1)" y="-0.9">cids:trained-on</text><text transform="translate(434.1 342.9) rotate(28.7)" y="-0.9">cids:executes</text><text transform="translate(176.4 343.5) rotate(-30.8)" y="-0.9">cids:defines_training_and_...</text><text transform="translate(245.7 402.2) rotate(-34.6)" y="-0.9">cids:trained-on</text><text transform="translate(424.9 360.3) rotate(18.7)" y="-0.9">cids:executes</text><text transform="translate(195.4 338.5) rotate(-27.5)" y="-0.9">cids:defines_training_and_...</text><text transform="translate(264.7 407.4) rotate(-30.3)" y="-0.9">cids:trained-on</text><text transform="translate(443.9 355.3) rotate(22.6)" y="-0.9">cids:executes</text><text transform="translate(203.8 351.8) rotate(-22.6)" y="-0.9">cids:defines_training_and_...</text><text transform="translate(265.3 423.1) rotate(-24.4)" y="-0.9">cids:trained-on</text><text transform="translate(452.3 368.6) rotate(14.2)" y="-0.9">cids:executes</text><text transform="translate(186.2 360) rotate(-24.1)" y="-0.9">cids:defines_training_and_...</text><text transform="translate(245.9 421.4) rotate(-26.6)" y="-0.9">cids:trained-on</text><text transform="translate(434.6 376.7) rotate(9.7)" y="-0.9">cids:executes</text><text transform="translate(163.3 373.9) rotate(-25.6)" y="-0.9">cids:defines_training_and_...</text><text transform="translate(219.2 422) rotate(-29.2)" y="-0.9">cids:trained-on</text><text transform="translate(411.8 390.7) rotate(4.3)" y="-0.9">cids:executes</text><text transform="translate(204.3 367.3) rotate(-18.3)" y="-0.9">cids:defines_training_and_...</text><text transform="translate(258 436.8) rotate(-19.4)" y="-0.9">cids:trained-on</text><text transform="translate(452.8 384.1) rotate(3.5)" y="-0.9">cids:executes</text><text transform="translate(202.4 381.9) rotate(-14.3)" y="-0.9">cids:defines_training_and_...</text><text transform="translate(249 448.5) rotate(-14.6)" y="-0.9">cids:trained-on</text><text transform="translate(450.9 398.6) rotate(-5.5)" y="-0.9">cids:executes</text><text transform="translate(174.1 394.5) rotate(-15.6)" y="-0.9">cids:defines_training_and_...</text><text transform="translate(218.2 445.2) rotate(-16.4)" y="-0.9">cids:trained-on</text><text transform="translate(422.6 411.2) rotate(-6.4)" y="-0.9">cids:executes</text><text transform="translate(220.7 385.5) rotate(-10.4)" y="-0.9">cids:defines_training_and_...</text><text transform="translate(263 460.7) rotate(-9.8)" y="-0.9">cids:trained-on</text><text transform="translate(469.1 402.2) rotate(-13)" y="-0.9">cids:executes</text><text transform="translate(212 303.1) rotate(-31.5)" y="-0.9">cids:defines_training_and_...</text><text transform="translate(296.7 385) rotate(-34.3)" y="-0.9">cids:trained-on</text><text transform="translate(460.4 319.9) rotate(47.7)" y="-0.9">cids:executes</text><text transform="translate(225 315.6) rotate(-26.7)" y="-0.9">cids:defines_training_and_...</text><text transform="translate(301.7 402.3) rotate(-28.9)" y="-0.9">cids:trained-on</text><text transform="translate(473.4 332.3) rotate(44.8)" y="-0.9">cids:executes</text><text transform="translate(281.9 303.9) rotate(-20.5)" y="-0.9">cids:defines_training_and_...</text><text transform="translate(356.8 420.7) rotate(-21.4)" y="-0.9">cids:trained-on</text><text transform="translate(530.3 320.6) rotate(-80.2)" y="-0.9">cids:executes</text><text transform="translate(259.7 322) rotate(-20.1)" y="-0.9">cids:defines_training_and_...</text><text transform="translate(328.6 425.2) rotate(-21.1)" y="-0.9">cids:trained-on</text><text transform="translate(508.2 338.7) rotate(62.3)" y="-0.9">cids:executes</text><text transform="translate(245.6 358.7) rotate(-14)" y="-0.9">cids:defines_training_and_...</text><text transform="translate(298 450) rotate(-14.2)" y="-0.9">cids:trained-on</text><text transform="translate(494.1 375.5) rotate(3.7)" y="-0.9">cids:executes</text><text transform="translate(317.3 358.2) rotate(-6.9)" y="-0.9">cids:defines_training_and_...</text><text transform="translate(360.4 485.4) rotate(-6.1)" y="-0.9">cids:trained-on</text><text transform="translate(565.8 374.9) rotate(28.6)" y="-0.9">cids:executes</text><text transform="translate(227.1 409.7) rotate(-2.1)" y="-0.9">cids:defines_training_and_...</text><text transform="translate(256.5 484.9) rotate(0.1)" y="-0.9">cids:trained-on</text><text transform="translate(475.6 426.4) rotate(-30)" y="-0.9">cids:executes</text><text transform="translate(213.3 418.3) rotate(-0.6)" y="-0.9">cids:defines_training_and_...</text><text transform="translate(240.2 485.4) rotate(2.2)" y="-0.9">cids:trained-on</text><text transform="translate(461.7 435) rotate(-27.9)" y="-0.9">cids:executes</text><text transform="translate(217.7 436.8) rotate(6.4)" y="-0.9">cids:defines_training_and_...</text><text transform="translate(234.8 503.7) rotate(10.7)" y="-0.9">cids:trained-on</text><text transform="translate(466.2 453.6) rotate(-36.5)" y="-0.9">cids:executes</text><text transform="translate(233.3 431.6) rotate(5.4)" y="-0.9">cids:defines_training_and_...</text><text transform="translate(251 507) rotate(9.1)" y="-0.9">cids:trained-on</text><text transform="translate(481.8 448.3) rotate(-41.9)" y="-0.9">cids:executes</text><text transform="translate(236.1 450.4) rotate(11.7)" y="-0.9">cids:defines_training_and_...</text><text transform="translate(243.9 524.7) rotate(16.5)" y="-0.9">cids:trained-on</text><text transform="translate(484.6 467.2) rotate(-48.4)" y="-0.9">cids:executes</text><text transform="translate(260.4 393) rotate(-3.8)" y="-0.9">cids:defines_training_and_...</text><text transform="translate(293.7 487.1) rotate(-2.3)" y="-0.9">cids:trained-on</text><text transform="translate(508.9 409.8) rotate(-43.7)" y="-0.9">cids:executes</text><text transform="translate(301.1 396.8) rotate(0.1)" y="-0.9">cids:defines_training_and_...</text><text transform="translate(327 510.7) rotate(1.8)" y="-0.9">cids:trained-on</text><text transform="translate(549.5 413.6) rotate(87.1)" y="-0.9">cids:executes</text><text transform="translate(269.3 409.8) rotate(1.3)" y="-0.9">cids:defines_training_and_...</text><text transform="translate(293 506.1) rotate(3.5)" y="-0.9">cids:trained-on</text><text transform="translate(517.8 426.6) rotate(-59.1)" y="-0.9">cids:executes</text><text transform="translate(305 420.4) rotate(5.6)" y="-0.9">cids:defines_training_and_...</text><text transform="translate(318.6 533.1) rotate(8.1)" y="-0.9">cids:trained-on</text><text transform="translate(553.5 437.1) rotate(89.8)" y="-0.9">cids:executes</text><text transform="translate(274 434.9) rotate(8.1)" y="-0.9">cids:defines_training_and_...</text><text transform="translate(284.5 530.2) rotate(11.4)" y="-0.9">cids:trained-on</text><text transform="translate(522.5 451.7) rotate(-66.8)" y="-0.9">cids:executes</text><text transform="translate(270.1 449.9) rotate(12.1)" y="-0.9">cids:defines_training_and_...</text><text transform="translate(273.6 541.2) rotate(16.1)" y="-0.9">cids:trained-on</text><text transform="translate(518.5 466.7) rotate(-65.8)" y="-0.9">cids:executes</text><text transform="translate(172.8 316.6) rotate(-37.5)" y="-0.9">cids:defines_test_data</text><text transform="translate(256 377.1) rotate(-42.1)" y="-0.9">cids:evaluated-on</text><text transform="translate(353 256.7) rotate(51.6)" y="-0.9">cids:evaluates</text><text transform="translate(343.8 274.1) rotate(-82.5)" y="-0.9">cids:evaluates</text><text transform="translate(286.1 350.7) rotate(-11.1)" y="-0.9">cids:creates</text><text transform="translate(640.8 328.2) rotate(-5.2)" y="-0.9">cids:executes</text><text transform="translate(448.7 482.5) rotate(-9)" y="-0.9">cids:searched-using</text><text transform="translate(520 223.2) rotate(-80.8)" y="-0.9">cids:generates</text><text transform="translate(299.2 245.2) rotate(-35.6)" y="-0.9">cids:generates</text><text transform="translate(551.4 206.5) rotate(-69)" y="-0.9">cids:generates</text><text transform="translate(324.2 222.1) rotate(-33.4)" y="-0.9">cids:generates</text><text transform="translate(570.9 220) rotate(-61.2)" y="-0.9">cids:generates</text><text transform="translate(442.3 353.7) rotate(-31.2)" y="-0.9">cids:trained-on</text><text transform="translate(508.7 246) rotate(-87)" y="-0.9">cids:generates</text><text transform="translate(284.4 264.5) rotate(-34.5)" y="-0.9">cids:generates</text><text transform="translate(536.6 242.9) rotate(-74.1)" y="-0.9">cids:generates</text><text transform="translate(483.5 273) rotate(76.6)" y="-0.9">cids:generates</text><text transform="translate(251 279.3) rotate(-34.8)" y="-0.9">cids:generates</text><text transform="translate(340.1 355.9) rotate(-37.4)" y="-0.9">cids:trained-on</text><text transform="translate(527.1 268.8) rotate(-79.3)" y="-0.9">cids:generates</text><text transform="translate(294.3 280.2) rotate(-29)" y="-0.9">cids:generates</text><text transform="translate(380 374.1) rotate(-30.7)" y="-0.9">cids:trained-on</text><text transform="translate(553.9 266.6) rotate(-64.2)" y="-0.9">cids:generates</text><text transform="translate(322.7 285.3) rotate(-25.9)" y="-0.9">cids:generates</text><text transform="translate(648.7 246.1) rotate(-31.8)" y="-0.9">cids:generates</text><text transform="translate(417.3 277.9) rotate(-19.4)" y="-0.9">cids:generates</text><text transform="translate(509 291.2) rotate(86.5)" y="-0.9">cids:generates</text><text transform="translate(279.5 309.8) rotate(-28.2)" y="-0.9">cids:generates</text><text transform="translate(565.2 289.9) rotate(-53.5)" y="-0.9">cids:generates</text><text transform="translate(402.4 411.4) rotate(-22.3)" y="-0.9">cids:trained-on</text><text transform="translate(638.1 273.3) rotate(-27.3)" y="-0.9">cids:generates</text><text transform="translate(400.7 293) rotate(-16.9)" y="-0.9">cids:generates</text><text transform="translate(573.8 314.9) rotate(-38.3)" y="-0.9">cids:generates</text><text transform="translate(626.8 305.5) rotate(-18.9)" y="-0.9">cids:generates</text><text transform="translate(603.8 331.6) rotate(-12.4)" y="-0.9">cids:generates</text><text transform="translate(415 466.9) rotate(-11.3)" y="-0.9">cids:trained-on</text><text transform="translate(643.4 351.9) rotate(6.9)" y="-0.9">cids:generates</text><text transform="translate(687.6 313) rotate(-4.6)" y="-0.9">cids:generates</text><text transform="translate(651.9 373.3) rotate(17.9)" y="-0.9">cids:generates</text><text transform="translate(435.8 527) rotate(-1)" y="-0.9">cids:trained-on</text><text transform="translate(611.9 390.6) rotate(31.7)" y="-0.9">cids:generates</text><text transform="translate(599.4 420.3) rotate(54.2)" y="-0.9">cids:generates</text><text transform="translate(366.8 541.4) rotate(5.7)" y="-0.9">cids:trained-on</text><text transform="translate(618.6 436.4) rotate(54.4)" y="-0.9">cids:generates</text><text transform="translate(600.7 455.2) rotate(68)" y="-0.9">cids:generates</text><text transform="translate(350.5 572.3) rotate(13.2)" y="-0.9">cids:trained-on</text><text transform="translate(658.2 444.6) rotate(47)" y="-0.9">cids:generates</text><text transform="translate(405.6 591.9) rotate(11.7)" y="-0.9">cids:trained-on</text><text transform="translate(621.9 469.8) rotate(64.6)" y="-0.9">cids:generates</text><text transform="translate(653.3 466.4) rotate(54.8)" y="-0.9">cids:generates</text><text transform="translate(682.8 355.7) rotate(10.5)" y="-0.9">cids:generates</text><text transform="translate(471.4 527.2) rotate(-2.3)" y="-0.9">cids:trained-on</text><text transform="translate(690.8 398.7) rotate(26.3)" y="-0.9">cids:generates</text><text transform="translate(456.7 568.5) rotate(4.7)" y="-0.9">cids:trained-on</text><text transform="translate(408.7 201.5) rotate(-39.8)" y="-0.9">cids:trains</text><text transform="translate(417.6 230.1) rotate(-24.4)" y="-0.9">cids:trains</text><text transform="translate(454.6 212.9) rotate(-31.1)" y="-0.9">cids:trains</text><text transform="translate(501.9 274.7) rotate(-8.8)" y="-0.9">cids:trains</text><text transform="translate(417.5 204.1) rotate(-45.4)" y="-0.9">cids:trains</text><text transform="translate(447.2 248.6) rotate(-18.3)" y="-0.9">cids:trains</text><text transform="translate(520.2 393.8) rotate(28.9)" y="-0.9">cids:trains</text><text transform="translate(512.6 440.3) rotate(35.7)" y="-0.9">cids:trains</text><text transform="translate(492.9 372.6) rotate(8.8)" y="-0.9">cids:trains</text><text transform="translate(529.7 329) rotate(-12.7)" y="-0.9">cids:trains</text><text transform="translate(513.5 188.4) rotate(-14.7)" y="-0.9">cids:trains</text><text transform="translate(501.2 181.9) rotate(-39.8)" y="-0.9">cids:trains</text><text transform="translate(646.5 262.9) rotate(6.1)" y="-0.9">cids:trains</text><text transform="translate(511.4 185.1) rotate(-69.2)" y="-0.9">cids:trains</text><text transform="translate(579.5 423.2) rotate(41.1)" y="-0.9">cids:trains</text><text transform="translate(666.6 373.9) rotate(-1.5)" y="-0.9">cids:trains</text><text transform="translate(541.3 491.4) rotate(31.5)" y="-0.9">cids:trains</text><text transform="translate(556.4 488.6) rotate(24.3)" y="-0.9">cids:trains</text><text transform="translate(555.8 485) rotate(12.3)" y="-0.9">cids:trains</text><text transform="translate(565.7 416.9) rotate(-8.8)" y="-0.9">cids:trains</text><text transform="translate(597.6 460.2) rotate(-3.4)" y="-0.9">cids:trains</text><text transform="translate(639.3 379.5) rotate(-2.3)" y="-0.9">cids:trains</text><text transform="translate(628 320.8) rotate(-42.7)" y="-0.9">cids:trains</text><text transform="translate(643.4 355.8) rotate(-18.8)" y="-0.9">cids:trains</text><text transform="translate(630.2 315.9) rotate(-48.5)" y="-0.9">cids:trains</text><text transform="translate(518.2 286.9) rotate(-63.2)" y="-0.9">cids:trains</text><text transform="translate(487.9 284.5) rotate(-67.8)" y="-0.9">cids:trains</text><text transform="translate(721.4 196.5) rotate(-86.6)" y="-0.9">cids:selects</text><text transform="translate(808.8 119.1) rotate(75.5)" y="-0.9">cids:defines</text><text transform="translate(734 187.9) rotate(-60.3)" y="-0.9">cids:defines</text><text transform="translate(785.5 76.9) rotate(74.7)" y="-0.9">cids:follows</text><text transform="translate(770.1 81.1) rotate(74.7)" y="-0.9">cids:precedes</text><text transform="translate(698 221.2) rotate(81.7)" y="-0.9">cids:selects</text><text transform="translate(664.2 125.6) rotate(-24.3)" y="-0.9">cids:defines</text><text transform="translate(647.5 105.9) rotate(-2.6)" y="-0.9">cids:defines</text><text transform="translate(657.9 203.4) rotate(-49.7)" y="-0.9">cids:requests</text><text transform="translate(736.9 223.1) rotate(-82.1)" y="-0.9">cids:selects</text><text transform="translate(798.4 177) rotate(-85.5)" y="-0.9">cids:defines</text><text transform="translate(594.9 280.4) rotate(-27.2)" y="-0.9">cids:requests</text><text transform="translate(803.1 123.1) rotate(56.7)" y="-0.9">cids:follows</text><text transform="translate(792.9 129.8) rotate(56.7)" y="-0.9">cids:precedes</text><text transform="translate(713.2 241.2) rotate(84.8)" y="-0.9">cids:selects</text><text transform="translate(701.6 127.6) rotate(18.8)" y="-0.9">cids:defines</text><text transform="translate(746.2 147.3) rotate(67.2)" y="-0.9">cids:follows</text><text transform="translate(735.4 151.9) rotate(67.2)" y="-0.9">cids:precedes</text><text transform="translate(689.1 257.2) rotate(69.9)" y="-0.9">cids:selects</text><text transform="translate(672.7 129.4) rotate(84.7)" y="-0.9">cids:defines</text><text transform="translate(713.8 300) rotate(-87.7)" y="-0.9">cids:defines</text><text transform="translate(703.5 131.4) rotate(-18.6)" y="-0.9">cids:follows</text><text transform="translate(708.3 145.6) rotate(-18.6)" y="-0.9">cids:precedes</text><text transform="translate(727 258.9) rotate(89)" y="-0.9">cids:selects</text><text transform="translate(771.9 203.2) rotate(70.9)" y="-0.9">cids:defines</text><text transform="translate(600 383.4) rotate(-40.1)" y="-0.9">cids:requests</text><text transform="translate(776.5 149.3) rotate(-21.7)" y="-0.9">cids:follows</text><text transform="translate(783.1 165.6) rotate(-21.7)" y="-0.9">cids:precedes</text><text transform="translate(699 278.6) rotate(67.2)" y="-0.9">cids:selects</text><text transform="translate(653.6 199.6) rotate(2.9)" y="-0.9">cids:defines</text><text transform="translate(534.4 309.7) rotate(-22.5)" y="-0.9">cids:requests</text><text transform="translate(677.3 170.9) rotate(80.2)" y="-0.9">cids:follows</text><text transform="translate(689.3 168.9) rotate(80.2)" y="-0.9">cids:precedes</text><text transform="translate(728.2 279.7) rotate(85.3)" y="-0.9">cids:selects</text><text transform="translate(751.2 254) rotate(-87.8)" y="-0.9">cids:defines</text><text transform="translate(651.6 217.2) rotate(9.8)" y="-0.9">cids:defines</text><text transform="translate(609 415.6) rotate(-42.4)" y="-0.9">cids:requests</text><text transform="translate(749.7 206.1) rotate(-76.1)" y="-0.9">cids:selects</text><text transform="translate(828.6 141.5) rotate(-85.1)" y="-0.9">cids:defines</text><text transform="translate(805.2 99.3) rotate(-38)" y="-0.9">cids:follows</text><text transform="translate(798.4 90.6) rotate(-38)" y="-0.9">cids:precedes</text><text transform="translate(754.3 238.6) rotate(-74)" y="-0.9">cids:selects</text><text transform="translate(805.8 199.2) rotate(-70.1)" y="-0.9">cids:defines</text><text transform="translate(676.4 171.9) rotate(3.8)" y="-0.9">cids:defines</text><text transform="translate(590.2 337.1) rotate(-26.1)" y="-0.9">cids:requests</text><text transform="translate(805.8 112.8) rotate(-83.1)" y="-0.9">cids:follows</text><text transform="translate(822.6 114.8) rotate(-83.1)" y="-0.9">cids:precedes</text><text transform="translate(792.2 221.2) rotate(-57.5)" y="-0.9">cids:selects</text><text transform="translate(847.3 203.2) rotate(-44.2)" y="-0.9">cids:defines</text><text transform="translate(900 328.6) rotate(-78)" y="-0.9">cids:defines</text><text transform="translate(893.2 158.9) rotate(-82.2)" y="-0.9">cids:follows</text><text transform="translate(879.3 157) rotate(-82.2)" y="-0.9">cids:precedes</text><text transform="translate(808.9 215.6) rotate(-51.8)" y="-0.9">cids:selects</text><text transform="translate(875.1 179.4) rotate(-30.5)" y="-0.9">cids:defines</text><text transform="translate(910.5 162.4) rotate(-52.8)" y="-0.9">cids:follows</text><text transform="translate(896 151.4) rotate(-52.8)" y="-0.9">cids:precedes</text><text transform="translate(781.1 243.1) rotate(-59.6)" y="-0.9">cids:selects</text><text transform="translate(876.1 256.3) rotate(-86.4)" y="-0.9">cids:defines</text><text transform="translate(872.7 172.3) rotate(34.3)" y="-0.9">cids:follows</text><text transform="translate(868.1 178.9) rotate(34.3)" y="-0.9">cids:precedes</text><text transform="translate(795.7 248.2) rotate(-51.4)" y="-0.9">cids:selects</text><text transform="translate(847.3 201) rotate(-10.6)" y="-0.9">cids:defines</text><text transform="translate(706.8 293.6) rotate(-16.9)" y="-0.9">cids:requests</text><text transform="translate(818.6 253.3) rotate(-39.9)" y="-0.9">cids:selects</text><text transform="translate(864.6 216.8) rotate(3.4)" y="-0.9">cids:defines</text><text transform="translate(854.1 244.1) rotate(-14.6)" y="-0.9">cids:defines</text><text transform="translate(835 248.8) rotate(-35.1)" y="-0.9">cids:selects</text><text transform="translate(881.1 221.1) rotate(2.6)" y="-0.9">cids:defines</text><text transform="translate(836.2 306.7) rotate(-25.5)" y="-0.9">cids:defines</text><text transform="translate(720.1 299.9) rotate(70.7)" y="-0.9">cids:selects</text><text transform="translate(672.5 251.7) rotate(3.1)" y="-0.9">cids:defines</text><text transform="translate(789.4 278.3) rotate(-46.8)" y="-0.9">cids:selects</text><text transform="translate(826.8 223.9) rotate(39.2)" y="-0.9">cids:defines</text><text transform="translate(862.2 206.9) rotate(-63.3)" y="-0.9">cids:follows</text><text transform="translate(876.5 214.1) rotate(-63.3)" y="-0.9">cids:precedes</text><text transform="translate(822.3 276) rotate(-30.6)" y="-0.9">cids:selects</text><text transform="translate(895.4 305.4) rotate(-52.5)" y="-0.9">cids:defines</text><text transform="translate(651.7 347.6) rotate(-5.2)" y="-0.9">cids:requests</text><text transform="translate(857.7 284.5) rotate(-15.9)" y="-0.9">cids:selects</text><text transform="translate(882.9 263.4) rotate(26.2)" y="-0.9">cids:defines</text><text transform="translate(805.1 237.3) rotate(29.5)" y="-0.9">cids:defines</text><text transform="translate(696 452.4) rotate(-15.8)" y="-0.9">cids:requests</text><text transform="translate(970.5 298.6) rotate(-43.4)" y="-0.9">cids:follows</text><text transform="translate(963.9 291.6) rotate(-43.4)" y="-0.9">cids:precedes</text><text transform="translate(774.8 309.4) rotate(-44.5)" y="-0.9">cids:selects</text><text transform="translate(776.8 302.9) rotate(-7.8)" y="-0.9">cids:defines</text><text transform="translate(610.4 317.3) rotate(6.7)" y="-0.9">cids:requests</text><text transform="translate(766.6 258) rotate(47.4)" y="-0.9">cids:follows</text><text transform="translate(787.6 238.6) rotate(47.4)" y="-0.9">cids:precedes</text><text transform="translate(812.7 307) rotate(-18.8)" y="-0.9">cids:selects</text><text transform="translate(822.1 287.7) rotate(28)" y="-0.9">cids:defines</text><text transform="translate(894.8 271.2) rotate(-57.8)" y="-0.9">cids:follows</text><text transform="translate(909 280.2) rotate(-57.8)" y="-0.9">cids:precedes</text><text transform="translate(847.9 300.5) rotate(-11.2)" y="-0.9">cids:selects</text><text transform="translate(900.5 382) rotate(-39.3)" y="-0.9">cids:defines</text><text transform="translate(928.5 283.1) rotate(58.8)" y="-0.9">cids:follows</text><text transform="translate(944.1 273.7) rotate(58.8)" y="-0.9">cids:precedes</text><text transform="translate(856.3 325.3) rotate(3)" y="-0.9">cids:selects</text><text transform="translate(900.2 365.1) rotate(8.2)" y="-0.9">cids:defines</text><text transform="translate(697.2 519.2) rotate(-16.8)" y="-0.9">cids:requests</text><text transform="translate(970.4 378.7) rotate(72.6)" y="-0.9">cids:follows</text><text transform="translate(958.4 382.5) rotate(72.6)" y="-0.9">cids:precedes</text><text transform="translate(877.6 324.9) rotate(4.8)" y="-0.9">cids:selects</text><text transform="translate(914 417.9) rotate(-16)" y="-0.9">cids:defines</text><text transform="translate(824.2 338.7) rotate(8.1)" y="-0.9">cids:selects</text><text transform="translate(821.6 399.4) rotate(-10.1)" y="-0.9">cids:defines</text><text transform="translate(922.9 353.7) rotate(-7.5)" y="-0.9">cids:follows</text><text transform="translate(925.3 371.5) rotate(-7.5)" y="-0.9">cids:precedes</text><text transform="translate(869.3 345.9) rotate(14.2)" y="-0.9">cids:selects</text><text transform="translate(904.4 475.1) rotate(-32.1)" y="-0.9">cids:defines</text><text transform="translate(813 496.6) rotate(-15.6)" y="-0.9">cids:defines</text><text transform="translate(647.8 419.2) rotate(12.1)" y="-0.9">cids:requests</text><text transform="translate(962.7 431.5) rotate(-58.1)" y="-0.9">cids:follows</text><text transform="translate(949.7 423.3) rotate(-58.1)" y="-0.9">cids:precedes</text><text transform="translate(784.8 407.8) rotate(76.8)" y="-0.9">cids:selects</text><text transform="translate(800.2 486.4) rotate(45)" y="-0.9">cids:defines</text><text transform="translate(760.1 419.4) rotate(-81.1)" y="-0.9">cids:selects</text><text transform="translate(694.2 476) rotate(29.6)" y="-0.9">cids:defines</text><text transform="translate(761.5 508.5) rotate(51.7)" y="-0.9">cids:follows</text><text transform="translate(745.9 520.7) rotate(51.7)" y="-0.9">cids:precedes</text><text transform="translate(764.7 441.7) rotate(-82.4)" y="-0.9">cids:selects</text><text transform="translate(733.2 551.6) rotate(-87.9)" y="-0.9">cids:defines</text><text transform="translate(754.3 530.1) rotate(16.1)" y="-0.9">cids:follows</text><text transform="translate(750.5 543.1) rotate(16.1)" y="-0.9">cids:precedes</text><text transform="translate(790.8 442.3) rotate(83)" y="-0.9">cids:selects</text><text transform="translate(755.6 565.1) rotate(-30.6)" y="-0.9">cids:defines</text><text transform="translate(795.7 469.8) rotate(85.5)" y="-0.9">cids:selects</text><text transform="translate(746.1 591.4) rotate(28.1)" y="-0.9">cids:defines</text><text transform="translate(834 362.3) rotate(25.3)" y="-0.9">cids:selects</text><text transform="translate(857.6 428.5) rotate(-2.6)" y="-0.9">cids:defines</text><text transform="translate(823.5 379.3) rotate(39.1)" y="-0.9">cids:selects</text><text transform="translate(848.1 481.1) rotate(-46.3)" y="-0.9">cids:defines</text><text transform="translate(693.9 325.2) rotate(48.8)" y="-0.9">cids:defines</text><text transform="translate(860.7 374.3) rotate(29)" y="-0.9">cids:selects</text><text transform="translate(874.7 452.3) rotate(14.6)" y="-0.9">cids:defines</text><text transform="translate(935.7 467.3) rotate(-56.1)" y="-0.9">cids:follows</text><text transform="translate(928.7 462.5) rotate(-56.1)" y="-0.9">cids:precedes</text><text transform="translate(855.4 389.8) rotate(37.4)" y="-0.9">cids:selects</text><text transform="translate(870.4 506.1) rotate(-13)" y="-0.9">cids:defines</text><text transform="translate(632.4 491.5) rotate(12.4)" y="-0.9">cids:requests</text><text transform="translate(879.3 387.9) rotate(32.7)" y="-0.9">cids:selects</text><text transform="translate(884.1 473.4) rotate(23.7)" y="-0.9">cids:defines</text><text transform="translate(953.3 516.1) rotate(-47.1)" y="-0.9">cids:follows</text><text transform="translate(940.5 504.3) rotate(-47.1)" y="-0.9">cids:precedes</text><text transform="translate(832.1 402.9) rotate(49.8)" y="-0.9">cids:selects</text><text transform="translate(835.7 462.8) rotate(51.6)" y="-0.9">cids:defines</text><text transform="translate(843.7 505.8) rotate(-11.8)" y="-0.9">cids:defines</text><text transform="translate(634.7 555.4) rotate(-0.1)" y="-0.9">cids:requests</text><text transform="translate(896.7 477.7) rotate(-14.4)" y="-0.9">cids:follows</text><text transform="translate(900.1 491.1) rotate(-14.4)" y="-0.9">cids:precedes</text><text transform="translate(830.6 425.2) rotate(59.8)" y="-0.9">cids:selects</text><text transform="translate(823.2 481.3) rotate(69.3)" y="-0.9">cids:defines</text><text transform="translate(863.6 417.6) rotate(47.3)" y="-0.9">cids:selects</text><text transform="translate(863.6 534.3) rotate(14.7)" y="-0.9">cids:defines</text><text transform="translate(916.6 506.2) rotate(88.6)" y="-0.9">cids:follows</text><text transform="translate(931.6 505.8) rotate(88.6)" y="-0.9">cids:precedes</text><text transform="translate(860.7 432.7) rotate(53.2)" y="-0.9">cids:selects</text><text transform="translate(853.5 546) rotate(29.3)" y="-0.9">cids:defines</text><text transform="translate(820.8 446.1) rotate(70.3)" y="-0.9">cids:selects</text><text transform="translate(812.2 537.6) rotate(71.9)" y="-0.9">cids:defines</text><text transform="translate(842.2 456.7) rotate(65.6)" y="-0.9">cids:selects</text><text transform="translate(792.9 603.3) rotate(9.4)" y="-0.9">cids:defines</text><text transform="translate(851.3 616.5) rotate(-40.2)" y="-0.9">cids:follows</text><text transform="translate(843.1 606.7) rotate(-40.2)" y="-0.9">cids:precedes</text><text transform="translate(828.2 476.9) rotate(74.7)" y="-0.9">cids:selects</text><text transform="translate(765.7 635.6) rotate(7.2)" y="-0.9">cids:defines</text><text transform="translate(632.4 392.4) rotate(65)" y="-0.9">cids:defines</text><text transform="translate(933.3 253.7) rotate(-12.4)" y="-0.9">cids:selects</text><text transform="translate(1068.4 283) rotate(15.3)" y="-0.9">cids:follows</text><text transform="translate(189.9 475.4) rotate(36.2)" y="-0.9">cids:converted-from</text><text transform="translate(146.3 517.5) rotate(53.1)" y="-0.9">cids:produces</text></g>
<use href="#nJ" x="62.6" y="460.4"/>
<use href="#nD" x="118.2" y="447.6"/>
<use href="#nC" x="534.6" y="367.4"/>
<use href="#nS" x="752.4" y="347.4"/>
<use href="#nT" x="359.4" y="271.4"/>
<use href="#nT" x="333.4" y="299.2"/>
<use href="#nT" x="371.4" y="299.4"/>
<use href="#nT" x="380.4" y="328.4"/>
<use href="#nT" x="343.4" y="334.8"/>
<use href="#nT" x="293.8" y="349.4"/>
<use href="#nT" x="373.6" y="357.6"/>
<use href="#nT" x="362.8" y="383.8"/>
<use href="#nT" x="303.6" y="393.2"/>
<use href="#nT" x="395" y="399.6"/>
<use href="#nT" x="420" y="241.6"/>
<use href="#nT" x="438" y="271.4"/>
<use href="#nT" x="550" y="278"/>
<use href="#nT" x="499.6" y="300.6"/>
<use href="#nT" x="455" y="362.2"/>
<use href="#nT" x="589" y="397"/>
<use href="#nT" x="395" y="448"/>
<use href="#nT" x="364.8" y="457.2"/>
<use href="#nT" x="363.8" y="494"/>
<use href="#nT" x="395.6" y="492"/>
<use href="#nT" x="391.4" y="528.6"/>
<use href="#nT" x="465.4" y="433.6"/>
<use href="#nT" x="539.4" y="461"/>
<use href="#nT" x="473.6" y="469.4"/>
<use href="#nT" x="535" y="507"/>
<use href="#nT" x="469.8" y="518.6"/>
<use href="#nT" x="455" y="544.6"/>
<use href="#nE" x="340.2" y="247.2"/>
<use href="#nM" x="579.4" y="91"/>
<use href="#nM" x="646.4" y="75.6"/>
<use href="#nM" x="676" y="110.4"/>
<use href="#nM" x="547" y="128"/>
<use href="#nM" x="600.6" y="136"/>
<use href="#nM" x="486.4" y="165.6"/>
<use href="#nM" x="570" y="179.6"/>
<use href="#nM" x="621" y="189"/>
<use href="#nM" x="808.1" y="198"/>
<use href="#nM" x="525" y="212.4"/>
<use href="#nM" x="630.4" y="238"/>
<use href="#nM" x="774.8" y="243.6"/>
<use href="#nM" x="634" y="289"/>
<use href="#nM" x="737.6" y="298"/>
<use href="#nM" x="681.6" y="335.2"/>
<use href="#nM" x="745.4" y="392.8"/>
<use href="#nM" x="847.2" y="342.4"/>
<use href="#nM" x="750.6" y="437"/>
<use href="#nM" x="667.2" y="449.4"/>
<use href="#nM" x="629" y="498.4"/>
<use href="#nM" x="656.8" y="538.2"/>
<use href="#nM" x="614" y="564.2"/>
<use href="#nM" x="726.6" y="573.2"/>
<use href="#nM" x="646.2" y="602.2"/>
<use href="#nM" x="706.6" y="611.5"/>
<use href="#nM" x="817" y="419.6"/>
<use href="#nM" x="810.4" y="504"/>
<use href="#nL" x="770" y="50.4"/>
<use href="#nL" x="714" y="84.8"/>
<use href="#nL" x="785.6" y="107.6"/>
<use href="#nL" x="732.4" y="129.6"/>
<use href="#nL" x="679.4" y="147.4"/>
<use href="#nL" x="749.2" y="169.6"/>
<use href="#nL" x="687.2" y="192.4"/>
<use href="#nL" x="741" y="209"/>
<use href="#nL" x="818" y="82.3"/>
<use href="#nL" x="810.4" y="145.3"/>
<use href="#nL" x="889.8" y="131.9"/>
<use href="#nL" x="923.8" y="129.8"/>
<use href="#nL" x="858.1" y="167.2"/>
<use href="#nL" x="882.7" y="184"/>
<use href="#nL" x="923" y="204.9"/>
<use href="#nL" x="955.8" y="204.7"/>
<use href="#nL" x="715.8" y="242.6"/>
<use href="#nL" x="856" y="237"/>
<use href="#nL" x="918.6" y="249.2"/>
<use href="#nL" x="1136.8" y="263"/>
<use href="#nL" x="980.4" y="282.6"/>
<use href="#nL" x="813.2" y="287.6"/>
<use href="#nL" x="885.2" y="302.2"/>
<use href="#nL" x="954" y="307.6"/>
<use href="#nL" x="1144.4" y="327.4"/>
<use href="#nL" x="957.4" y="358.2"/>
<use href="#nL" x="997.2" y="368"/>
<use href="#nL" x="890.8" y="367"/>
<use href="#nL" x="971.4" y="403"/>
<use href="#nL" x="782.6" y="476.2"/>
<use href="#nL" x="730.8" y="485.6"/>
<use href="#nL" x="728.2" y="529.6"/>
<use href="#nL" x="776.6" y="543.6"/>
<use href="#nL" x="772" y="597.4"/>
<use href="#nL" x="897.2" y="416"/>
<use href="#nL" x="869.2" y="442.4"/>
<use href="#nL" x="941" y="451.8"/>
<use href="#nL" x="923.4" y="478"/>
<use href="#nL" x="969" y="486.4"/>
<use href="#nL" x="873.4" y="490.8"/>
<use href="#nL" x="859.4" y="531.6"/>
<use href="#nL" x="924.8" y="534"/>
<use href="#nL" x="911.8" y="560.8"/>
<use href="#nL" x="830.6" y="565.8"/>
<use href="#nL" x="865.4" y="596.2"/>
<use href="#nL" x="829" y="627"/>
<use href="#nR" x="238" y="535.4"/>
<use href="#nP" x="205.6" y="564"/>
</g>
<g transform="translate(187.9 743.9) scale(0.174)">
<path d="M62.6 460.4A423.1 423.1 0 0 1 -132.1 84.7M-132.1 84.7A440.8 440.8 0 0 1 118.2 447.6M-153.5 153.3A71.9 71.9 0 0 1 -132.1 84.7M62.6 460.4A388.6 388.6 0 0 1 -40.9 85.8M-40.9 85.8A395.2 395.2 0 0 1 118.2 447.6M-153.5 153.3A131.2 131.2 0 0 1 -40.9 85.8M62.6 460.4A384.5 384.5 0 0 1 35.6 76.8M35.6 76.8A379.9 379.9 0 0 1 118.2 447.6M-153.5 153.3A203.9 203.9 0 0 1 35.6 76.8M62.6 460.4A370.8 370.8 0 0 1 -72.5 115.1M-72.5 115.1A383.3 383.3 0 0 1 118.2 447.6M-153.5 153.3A89.6 89.6 0 0 1 -72.5 115.1M62.6 460.4A337.4 337.4 0 0 1 61.4 123M61.4 123A329.6 329.6 0 0 1 118.2 447.6M-153.5 153.3A217 217 0 0 1 61.4 123M62.6 460.4A324.8 324.8 0 0 1 -7.2 143.2M-7.2 143.2A329.2 329.2 0 0 1 118.2 447.6M-153.5 153.3A146.6 146.6 0 0 1 -7.2 143.2M62.6 460.4A306.5 306.5 0 0 1 44.6 154.5M44.6 154.5A302.3 302.3 0 0 1 118.2 447.6M-153.5 153.3A198 198 0 0 1 44.6 154.5M62.6 460.4A307.5 307.5 0 0 1 79.4 153.3M79.4 153.3A296.8 296.8 0 0 1 118.2 447.6M-153.5 153.3A232.9 232.9 0 0 1 79.4 153.3M62.6 460.4A300 300 0 0 1 -25.2 173.6M-25.2 173.6A309.3 309.3 0 0 1 118.2 447.6M-153.5 153.3A129.9 129.9 0 0 1 -25.2 173.6M62.6 460.4A290.3 290.3 0 0 1 17.6 173.6M17.6 173.6A291.9 291.9 0 0 1 118.2 447.6M-153.5 153.3A172.2 172.2 0 0 1 17.6 173.6M62.6 460.4A409.9 409.9 0 0 1 -235.6 179.2M-235.6 179.2A444.1 444.1 0 0 1 118.2 447.6M-153.5 153.3A86.1 86.1 0 0 1 -235.6 179.2M62.6 460.4A303.3 303.3 0 0 1 -73.6 189.3M-73.6 189.3A321.7 321.7 0 0 1 118.2 447.6M-153.5 153.3A87.6 87.6 0 0 1 -73.6 189.3M62.6 460.4A246.6 246.6 0 0 1 73.8 214.1M73.8 214.1A237.7 237.7 0 0 1 118.2 447.6M-153.5 153.3A235.3 235.3 0 0 1 73.8 214.1M62.6 460.4A230.4 230.4 0 0 1 41.2 231M41.2 231A229.9 229.9 0 0 1 118.2 447.6M-153.5 153.3A209.6 209.6 0 0 1 41.2 231M62.6 460.4A292.9 292.9 0 0 1 -120.8 232.1M-120.8 232.1A321.8 321.8 0 0 1 118.2 447.6M-153.5 153.3A85.2 85.2 0 0 1 -120.8 232.1M62.6 460.4A315.9 315.9 0 0 1 -167 243.3M-167 243.3A350.8 350.8 0 0 1 118.2 447.6M-153.5 153.3A91 91 0 0 1 -167 243.3M62.6 460.4A209.9 209.9 0 0 1 -16.2 265.8M-16.2 265.8A226 226 0 0 1 118.2 447.6M-153.5 153.3A177.5 177.5 0 0 1 -16.2 265.8M62.6 460.4A370.5 370.5 0 0 1 -258.1 274.8M-258.1 274.8A414.1 414.1 0 0 1 118.2 447.6M-153.5 153.3A160.4 160.4 0 0 1 -258.1 274.8M62.6 460.4A284.1 284.1 0 0 1 -159.1 282.7M-159.1 282.7A322.6 322.6 0 0 1 118.2 447.6M-153.5 153.3A129.5 129.5 0 0 1 -159.1 282.7M62.6 460.4A182.2 182.2 0 0 1 63.7 278.2M63.7 278.2A177.9 177.9 0 0 1 118.2 447.6M-153.5 153.3A250.5 250.5 0 0 1 63.7 278.2M62.6 460.4A171.6 171.6 0 0 1 20.9 294M20.9 294A181.8 181.8 0 0 1 118.2 447.6M-153.5 153.3A224 224 0 0 1 20.9 294M62.6 460.4A203.1 203.1 0 0 1 -60.1 298.5M-60.1 298.5A232.4 232.4 0 0 1 118.2 447.6M-153.5 153.3A172.6 172.6 0 0 1 -60.1 298.5M62.6 460.4A292.4 292.4 0 0 1 -183.8 303M-183.8 303A334.9 334.9 0 0 1 118.2 447.6M-153.5 153.3A152.7 152.7 0 0 1 -183.8 303M62.6 460.4A324.6 324.6 0 0 1 -224.3 308.6M-224.3 308.6A369.7 369.7 0 0 1 118.2 447.6M-153.5 153.3A170.7 170.7 0 0 1 -224.3 308.6M62.6 460.4A224.4 224.4 0 0 1 -114.1 322.1M-114.1 322.1A264 264 0 0 1 118.2 447.6M-153.5 153.3A173.3 173.3 0 0 1 -114.1 322.1M62.6 460.4A199.7 199.7 0 0 1 -82.6 323.2M-82.6 323.2A236.2 236.2 0 0 1 118.2 447.6M-153.5 153.3A184.1 184.1 0 0 1 -82.6 323.2M62.6 460.4A292.9 292.9 0 0 1 -201.8 334.5M-201.8 334.5A339.4 339.4 0 0 1 118.2 447.6M-153.5 153.3A187.5 187.5 0 0 1 -201.8 334.5M62.6 460.4A231 231 0 0 1 -143.3 355.9M-143.3 355.9A277.2 277.2 0 0 1 118.2 447.6M-153.5 153.3A202.8 202.8 0 0 1 -143.3 355.9M62.6 460.4A200.3 200.3 0 0 1 -109.6 358.1M-109.6 358.1A244.7 244.7 0 0 1 118.2 447.6M-153.5 153.3A209.4 209.4 0 0 1 -109.6 358.1M62.6 460.4A306.1 306.1 0 0 1 -225.5 357M-225.5 357A355.4 355.4 0 0 1 118.2 447.6M-153.5 153.3A216 216 0 0 1 -225.5 357M62.6 460.4A159.4 159.4 0 0 1 -74.7 379.5M-74.7 379.5A204.6 204.6 0 0 1 118.2 447.6M-153.5 153.3A239.5 239.5 0 0 1 -74.7 379.5M62.6 460.4A234.5 234.5 0 0 1 -159.1 384M-159.1 384A284.5 284.5 0 0 1 118.2 447.6M-153.5 153.3A230.7 230.7 0 0 1 -159.1 384M62.6 460.4A230.6 230.6 0 0 1 -4.9 240M-4.9 240A241.4 241.4 0 0 1 118.2 447.6M-4.9 240A28.2 28.2 0 0 1 -16.2 265.8M-4.9 240A47 47 0 0 1 41.2 231M62.6 460.4A375.5 375.5 0 0 1 -153.5 153.3M-153.5 153.3A232.1 232.1 0 0 1 -272.7 -45.8M-272.7 -45.8A629.5 629.5 0 0 1 118.2 447.6M-153.5 153.3A273.6 273.6 0 0 1 -162.5 -120.1M-153.5 153.3A352.5 352.5 0 0 1 17.6 -155M62.6 460.4A1108.5 1108.5 0 0 1 17.6 -155M-153.5 153.3A335.8 335.8 0 0 1 53.6 -111.1M62.6 460.4A1035.2 1035.2 0 0 1 53.6 -111.1M53.6 -111.1A562.4 562.4 0 0 1 118.2 447.6M-153.5 153.3A277.8 277.8 0 0 1 -277.2 -95.3M62.6 460.4A1016.2 1016.2 0 0 1 -277.2 -95.3M-153.5 153.3A238.8 238.8 0 0 1 -206.3 -79.6M62.6 460.4A1214.9 1214.9 0 0 1 -206.3 -79.6M-206.3 -79.6A619.1 619.1 0 0 1 118.2 447.6M-153.5 153.3A323.8 323.8 0 0 1 79.4 -71.7M-153.5 153.3A225.9 225.9 0 0 1 -99.5 -66.1M62.6 460.4A1200.6 1200.6 0 0 1 -99.5 -66.1M-99.5 -66.1A557.9 557.9 0 0 1 118.2 447.6M-153.5 153.3A283.1 283.1 0 0 1 25.4 -66.1M62.6 460.4A1003 1003 0 0 1 25.4 -66.1M-153.5 153.3A235 235 0 0 1 -21.8 -41.3M62.6 460.4A932 932 0 0 1 -21.8 -41.3M-153.5 153.3A189 189 0 0 1 -133.2 -34.6M62.6 460.4A1037.8 1037.8 0 0 1 -133.2 -34.6M-133.2 -34.6A543.8 543.8 0 0 1 118.2 447.6M-153.5 153.3A182.8 182.8 0 0 1 -228.8 -13.2M62.6 460.4A1151.7 1151.7 0 0 1 -228.8 -13.2M-228.8 -13.2A576.9 576.9 0 0 1 118.2 447.6M-153.5 153.3A280.7 280.7 0 0 1 74.9 -9.8M62.6 460.4A718.4 718.4 0 0 1 74.9 -9.8M74.9 -9.8A459.5 459.5 0 0 1 118.2 447.6M-153.5 153.3A231.1 231.1 0 0 1 25.4 7.1M-153.5 153.3A287.4 287.4 0 0 1 -406.6 17.2M62.6 460.4A1098.5 1098.5 0 0 1 -406.6 17.2M-406.6 17.2A678.7 678.7 0 0 1 118.2 447.6M-153.5 153.3A158.7 158.7 0 0 1 -55.6 28.4M-153.5 153.3A180.9 180.9 0 0 1 -288.5 32.9M62.6 460.4A1133.2 1133.2 0 0 1 -288.5 32.9M-153.5 153.3A204.8 204.8 0 0 1 -335.7 59.9M62.6 460.4A1062.9 1062.9 0 0 1 -335.7 59.9M-153.5 153.3A263.9 263.9 0 0 1 90.7 53.2M-153.5 153.3A172.6 172.6 0 0 1 1.8 77.9M62.6 460.4A387.3 387.3 0 0 1 1.8 77.9M-153.5 153.3A218.8 218.8 0 0 1 -370.6 180.3M62.6 460.4A782.2 782.2 0 0 1 -370.6 180.3M-153.5 153.3A348.3 348.3 0 0 1 -500 188.2M-153.5 153.3A134.3 134.3 0 0 1 -278.3 202.8M-153.5 153.3A261.7 261.7 0 0 1 -406.6 219.7M-406.6 219.7A572.2 572.2 0 0 1 118.2 447.6M-153.5 153.3A319.9 319.9 0 0 1 -465.1 225.3M62.6 460.4A944.7 944.7 0 0 1 -465.1 225.3M-465.1 225.3A624.2 624.2 0 0 1 118.2 447.6M-153.5 153.3A211.3 211.3 0 0 1 -342.5 247.8M-342.5 247.8A502.1 502.1 0 0 1 118.2 447.6M-153.5 153.3A176 176 0 0 1 -302 247.8M-153.5 153.3A298.8 298.8 0 0 1 -432.5 260.2M62.6 460.4A998.8 998.8 0 0 1 -432.5 260.2M-432.5 260.2A581.7 581.7 0 0 1 118.2 447.6M-153.5 153.3A341.7 341.7 0 0 1 -467.4 288.3M-153.5 153.3A262.3 262.3 0 0 1 -376.2 291.7M-153.5 153.3A234.8 234.8 0 0 1 -333.5 304.1M-153.5 153.3A300.9 300.9 0 0 1 -395.4 332.2M-153.5 153.3A259.7 259.7 0 0 1 -308.7 361.5M-132.1 84.7A95 95 0 0 1 -55.6 28.4M-40.9 85.8A43.5 43.5 0 0 1 1.8 77.9M35.6 76.8A60 60 0 0 1 90.7 53.2M-72.5 115.1A145.8 145.8 0 0 1 25.4 7.1M61.4 123A133.4 133.4 0 0 1 74.9 -9.8M-7.2 143.2A185.1 185.1 0 0 1 -21.8 -41.3M44.6 154.5A221.4 221.4 0 0 1 25.4 -66.1M79.4 153.3A225 225 0 0 1 79.4 -71.7M-25.2 173.6A234.5 234.5 0 0 1 -133.2 -34.6M17.6 173.6A266.7 266.7 0 0 1 -99.5 -66.1M-235.6 179.2A48.8 48.8 0 0 1 -278.3 202.8M-73.6 189.3A235.8 235.8 0 0 1 -302 247.8M73.8 214.1A325.8 325.8 0 0 1 53.6 -111.1M41.2 231A364 364 0 0 1 -228.8 -13.2M-120.8 232.1A222.2 222.2 0 0 1 -342.5 247.8M-167 243.3A177.3 177.3 0 0 1 -333.5 304.1M-16.2 265.8A307.8 307.8 0 0 1 -308.7 361.5M-258.1 274.8A119.3 119.3 0 0 1 -376.2 291.7M-159.1 282.7A235 235 0 0 1 -370.6 180.3M63.7 278.2A429.2 429.2 0 0 1 -288.5 32.9M20.9 294A418 418 0 0 1 -395.4 332.2M-60.1 298.5A355.4 355.4 0 0 1 -406.6 219.7M-183.8 303A252.3 252.3 0 0 1 -432.5 260.2M-224.3 308.6A243.9 243.9 0 0 1 -467.4 288.3M-114.1 322.1A343.3 343.3 0 0 1 -335.7 59.9M-82.6 323.2A394.9 394.9 0 0 1 -465.1 225.3M-201.8 334.5A332.1 332.1 0 0 1 -500 188.2M-143.3 355.9A429 429 0 0 1 -406.6 17.2M-109.6 358.1A448.2 448.2 0 0 1 -206.3 -79.6M-225.5 357A455.3 455.3 0 0 1 -277.2 -95.3M-74.7 379.5A507.2 507.2 0 0 1 -162.5 -120.1M-159.1 384A567.1 567.1 0 0 1 17.6 -155M-272.7 -45.8A450.3 450.3 0 0 1 -378.5 -483.5M-378.5 -483.5A439.1 439.1 0 0 1 -206.3 -79.6M-378.5 -483.5A757 757 0 0 1 -167 243.3M-378.5 -483.5A54.3 54.3 0 0 1 -423.5 -453.1M-423.5 -453.1A54.3 54.3 0 0 1 -378.5 -483.5M-272.7 -45.8A440.1 440.1 0 0 1 -318.9 -483.5M-318.9 -483.5A395.6 395.6 0 0 1 -162.5 -120.1M-318.9 -483.5A390.4 390.4 0 0 1 -277.2 -95.3M-318.9 -483.5A59.6 59.6 0 0 1 -378.5 -483.5M-378.5 -483.5A59.6 59.6 0 0 1 -318.9 -483.5M-272.7 -45.8A425.3 425.3 0 0 1 -268.2 -471.1M-268.2 -471.1A366.6 366.6 0 0 1 -162.5 -120.1M-268.2 -471.1A785.1 785.1 0 0 1 -467.4 288.3M-268.2 -471.1A667.5 667.5 0 0 1 -7.2 143.2M-268.2 -471.1A52.2 52.2 0 0 1 -275 -419.4M-275 -419.4A52.2 52.2 0 0 1 -268.2 -471.1M-272.7 -45.8A453 453 0 0 1 -466.2 -455.4M-466.2 -455.4A456.9 456.9 0 0 1 -206.3 -79.6M-466.2 -455.4A790.8 790.8 0 0 1 -395.4 332.2M-272.7 -45.8A434.3 434.3 0 0 1 -423.5 -453.1M-423.5 -453.1A423.1 423.1 0 0 1 -162.5 -120.1M-423.5 -453.1A705.6 705.6 0 0 1 -342.5 247.8M-423.5 -453.1A766.3 766.3 0 0 1 17.6 173.6M-272.7 -45.8A402.1 402.1 0 0 1 -226.6 -445.2M-226.6 -445.2A353.6 353.6 0 0 1 -277.2 -95.3M-226.6 -445.2A379.3 379.3 0 0 1 17.6 -155M-226.6 -445.2A811.8 811.8 0 0 1 -109.6 358.1M-272.7 -45.8A399.1 399.1 0 0 1 -378.5 -430.6M-378.5 -430.6A350.2 350.2 0 0 1 -277.2 -95.3M-378.5 -430.6A690.9 690.9 0 0 1 -73.6 189.3M-378.5 -430.6A51.1 51.1 0 0 1 -327.9 -437.4M-327.9 -437.4A51.1 51.1 0 0 1 -378.5 -430.6M-272.7 -45.8A395.4 395.4 0 0 1 -327.9 -437.4M-327.9 -437.4A357.8 357.8 0 0 1 -162.5 -120.1M-327.9 -437.4A608.6 608.6 0 0 1 -72.5 115.1M-272.7 -45.8A373.5 373.5 0 0 1 -275 -419.4M-275 -419.4A324 324 0 0 1 -277.2 -95.3M-275 -419.4A394.3 394.3 0 0 1 17.6 -155M-272.7 -45.8A461.6 461.6 0 0 1 -543.9 -419.4M-543.9 -419.4A457.6 457.6 0 0 1 -406.6 17.2M-272.7 -45.8A436.9 436.9 0 0 1 -495.5 -421.6M-495.5 -421.6A447.7 447.7 0 0 1 -406.6 17.2M-495.5 -421.6A48.4 48.4 0 0 1 -543.9 -419.4M-543.9 -419.4A48.4 48.4 0 0 1 -495.5 -421.6M-272.7 -45.8A380 380 0 0 1 -423.5 -394.6M-423.5 -394.6A382.6 382.6 0 0 1 -206.3 -79.6M-423.5 -394.6A52.3 52.3 0 0 1 -376.2 -372.1M-376.2 -372.1A52.3 52.3 0 0 1 -423.5 -394.6M-272.7 -45.8A351.8 351.8 0 0 1 -326.7 -393.5M-326.7 -393.5A336.2 336.2 0 0 1 -206.3 -79.6M-326.7 -393.5A418.4 418.4 0 0 1 -406.6 17.2M-272.7 -45.8A387.5 387.5 0 0 1 -465.1 -382.2M-465.1 -382.2A343 343 0 0 1 -277.2 -95.3M-465.1 -382.2A777.1 777.1 0 0 1 -225.5 357M-272.7 -45.8A342.3 342.3 0 0 1 -376.2 -372.1M-376.2 -372.1A330.5 330.5 0 0 1 -162.5 -120.1M-272.7 -45.8A459.1 459.1 0 0 1 -602.4 -365.4M-602.4 -365.4A429.7 429.7 0 0 1 -406.6 17.2M-602.4 -365.4A912.8 912.8 0 0 1 -74.7 379.5M-602.4 -365.4A46.5 46.5 0 0 1 -556.3 -371M-556.3 -371A46.5 46.5 0 0 1 -602.4 -365.4M-272.7 -45.8A431.4 431.4 0 0 1 -556.3 -371M-556.3 -371A416 416 0 0 1 -406.6 17.2M-556.3 -371A540.5 540.5 0 0 1 -133.2 -34.6M-272.7 -45.8A394.9 394.9 0 0 1 -507.9 -363.1M-507.9 -363.1A353.4 353.4 0 0 1 -277.2 -95.3M-272.7 -45.8A331.6 331.6 0 0 1 -422.4 -341.7M-422.4 -341.7A339.7 339.7 0 0 1 -206.3 -79.6M-272.7 -45.8A450.7 450.7 0 0 1 -632.8 -317M-632.8 -317A479.9 479.9 0 0 1 -335.7 59.9M-632.8 -317A704.4 704.4 0 0 1 25.4 -66.1M-632.8 -317A51.8 51.8 0 0 1 -581 -315.8M-581 -315.8A51.8 51.8 0 0 1 -632.8 -317M-272.7 -45.8A409.8 409.8 0 0 1 -581 -315.8M-581 -315.8A375.4 375.4 0 0 1 -277.2 -95.3M-581 -315.8A732.3 732.3 0 0 1 -159.1 282.7M-581 -315.8A53.9 53.9 0 0 1 -602.4 -365.4M-602.4 -365.4A53.9 53.9 0 0 1 -581 -315.8M-272.7 -45.8A374.1 374.1 0 0 1 -529.3 -318.1M-529.3 -318.1A357 357 0 0 1 -406.6 17.2M-272.7 -45.8A336.8 336.8 0 0 1 -466.2 -321.5M-466.2 -321.5A355.1 355.1 0 0 1 -206.3 -79.6M-466.2 -321.5A588.9 588.9 0 0 1 -40.9 85.8M-466.2 -321.5A48.3 48.3 0 0 1 -422.4 -341.7M-422.4 -341.7A48.3 48.3 0 0 1 -466.2 -321.5M-272.7 -45.8A448.1 448.1 0 0 1 -660.9 -269.7M-660.9 -269.7A383.4 383.4 0 0 1 -406.6 17.2M-660.9 -269.7A811.9 811.9 0 0 1 -143.3 355.9M-272.7 -45.8A402.9 402.9 0 0 1 -609.1 -267.5M-609.1 -267.5A426.6 426.6 0 0 1 -335.7 59.9M-609.1 -267.5A573.6 573.6 0 0 1 -467.4 288.3M-609.1 -267.5A51.8 51.8 0 0 1 -610.3 -215.7M-610.3 -215.7A51.8 51.8 0 0 1 -609.1 -267.5M-272.7 -45.8A356.9 356.9 0 0 1 -550.6 -269.7M-550.6 -269.7A393.3 393.3 0 0 1 -206.3 -79.6M-550.6 -269.7A52.9 52.9 0 0 1 -529.3 -318.1M-529.3 -318.1A52.9 52.9 0 0 1 -550.6 -269.7M-272.7 -45.8A323.8 323.8 0 0 1 -498.9 -277.6M-498.9 -277.6A353.3 353.3 0 0 1 -206.3 -79.6M-498.9 -277.6A548.2 548.2 0 0 1 -342.5 247.8M-498.9 -277.6A50.6 50.6 0 0 1 -529.3 -318.1M-529.3 -318.1A50.6 50.6 0 0 1 -498.9 -277.6M-272.7 -45.8A427.5 427.5 0 0 1 -662 -222.5M-662 -222.5A405.3 405.3 0 0 1 -277.2 -95.3M-662 -222.5A350.2 350.2 0 0 1 -406.6 17.2M-662 -222.5A47.3 47.3 0 0 1 -660.9 -269.7M-660.9 -269.7A47.3 47.3 0 0 1 -662 -222.5M-272.7 -45.8A377.9 377.9 0 0 1 -610.3 -215.7M-610.3 -215.7A354.1 354.1 0 0 1 -277.2 -95.3M-610.3 -215.7A811.3 811.3 0 0 1 20.9 294M-272.7 -45.8A342.5 342.5 0 0 1 -564.1 -225.8M-564.1 -225.8A315.2 315.2 0 0 1 -277.2 -95.3M-564.1 -225.8A45.9 45.9 0 0 1 -550.6 -269.7M-550.6 -269.7A45.9 45.9 0 0 1 -564.1 -225.8M-272.7 -45.8A429.5 429.5 0 0 1 -681.1 -178.6M-681.1 -178.6A409.1 409.1 0 0 1 -500 188.2M-681.1 -178.6A729.5 729.5 0 0 1 1.8 77.9M-681.1 -178.6A47.9 47.9 0 0 1 -662 -222.5M-662 -222.5A47.9 47.9 0 0 1 -681.1 -178.6M-272.7 -45.8A367.3 367.3 0 0 1 -618.1 -170.7M-618.1 -170.7A364.6 364.6 0 0 1 -335.7 59.9M-618.1 -170.7A709 709 0 0 1 -143.3 355.9M-272.7 -45.8A398.5 398.5 0 0 1 -660.9 -135.8M-660.9 -135.8A296.8 296.8 0 0 1 -406.6 17.2M-272.7 -45.8A291.8 291.8 0 0 1 -109.6 -287.7M-109.6 -287.7A183.8 183.8 0 0 1 17.6 -155M-109.6 -287.7A63 63 0 0 1 -151.2 -240.5M-151.2 -240.5A63 63 0 0 1 -109.6 -287.7M-272.7 -45.8A253.6 253.6 0 0 1 -158 -272M-158 -272A198.4 198.4 0 0 1 -206.3 -79.6M-158 -272A265.8 265.8 0 0 1 53.6 -111.1M-158 -272A70.1 70.1 0 0 1 -205.2 -220.2M-205.2 -220.2A70.1 70.1 0 0 1 -158 -272M-272.7 -45.8A331 331 0 0 1 -35.3 -276.5M-35.3 -276.5A201.6 201.6 0 0 1 -162.5 -120.1M-35.3 -276.5A28.6 28.6 0 0 1 -55.6 -256.2M-55.6 -256.2A28.6 28.6 0 0 1 -35.3 -276.5M-272.7 -45.8A222.9 222.9 0 0 1 -227.7 -264.1M-227.7 -264.1A158.1 158.1 0 0 1 -162.5 -120.1M-227.7 -264.1A621.1 621.1 0 0 1 -225.5 357M-227.7 -264.1A49.3 49.3 0 0 1 -205.2 -220.2M-205.2 -220.2A49.3 49.3 0 0 1 -227.7 -264.1M-272.7 -45.8A302.4 302.4 0 0 1 -55.6 -256.2M-55.6 -256.2A124.9 124.9 0 0 1 17.6 -155M-272.7 -45.8A199.2 199.2 0 0 1 -277.2 -245M-277.2 -245A169.6 169.6 0 0 1 -162.5 -120.1M-277.2 -245A308.2 308.2 0 0 1 17.6 -155M-272.7 -45.8A229.5 229.5 0 0 1 -151.2 -240.5M-151.2 -240.5A181.9 181.9 0 0 1 -99.5 -66.1M-272.7 -45.8A337 337 0 0 1 6.3 -234.8M6.3 -234.8A132.5 132.5 0 0 1 53.6 -111.1M6.3 -234.8A312.8 312.8 0 0 1 1.8 77.9M-272.7 -45.8A190.4 190.4 0 0 1 -338 -224.7M-338 -224.7A204.3 204.3 0 0 1 -162.5 -120.1M-338 -224.7A362.3 362.3 0 0 1 17.6 -155M-338 -224.7A533.9 533.9 0 0 1 17.6 173.6M-338 -224.7A37.2 37.2 0 0 1 -353.7 -191M-353.7 -191A37.2 37.2 0 0 1 -338 -224.7M-272.7 -45.8A187 187 0 0 1 -205.2 -220.2M-205.2 -220.2A144.2 144.2 0 0 1 -277.2 -95.3M-205.2 -220.2A48.5 48.5 0 0 1 -171.5 -185.3M-171.5 -185.3A48.5 48.5 0 0 1 -205.2 -220.2M-272.7 -45.8A233.3 233.3 0 0 1 -114.1 -216.8M-114.1 -216.8A108.2 108.2 0 0 1 -162.5 -120.1M-272.7 -45.8A273.8 273.8 0 0 1 -58.9 -216.8M-58.9 -216.8A98.4 98.4 0 0 1 17.6 -155M-272.7 -45.8A165.1 165.1 0 0 1 -231.1 -205.6M-231.1 -205.6A128.4 128.4 0 0 1 -206.3 -79.6M-231.1 -205.6A507.5 507.5 0 0 1 -432.5 260.2M-272.7 -45.8A152.6 152.6 0 0 1 -296.3 -196.6M-296.3 -196.6A103.1 103.1 0 0 1 -277.2 -95.3M-272.7 -45.8A294.1 294.1 0 0 1 -19.6 -195.5M-19.6 -195.5A137 137 0 0 1 25.4 -66.1M-19.6 -195.5A430.7 430.7 0 0 1 41.2 231M-19.6 -195.5A47.1 47.1 0 0 1 6.3 -234.8M6.3 -234.8A47.1 47.1 0 0 1 -19.6 -195.5M-272.7 -45.8A341.7 341.7 0 0 1 33.3 -197.7M33.3 -197.7A131.9 131.9 0 0 1 25.4 -66.1M33.3 -197.7A327.3 327.3 0 0 1 -132.1 84.7M-272.7 -45.8A166.2 166.2 0 0 1 -353.7 -191M-353.7 -191A184.7 184.7 0 0 1 -206.3 -79.6M-272.7 -45.8A172.4 172.4 0 0 1 -171.5 -185.3M-171.5 -185.3A65.9 65.9 0 0 1 -162.5 -120.1M-171.5 -185.3A272.9 272.9 0 0 1 -132.1 84.7M-272.7 -45.8A235 235 0 0 1 -78.1 -177.5M-78.1 -177.5A113.4 113.4 0 0 1 -99.5 -66.1M-78.1 -177.5A43.8 43.8 0 0 1 -58.9 -216.8M-58.9 -216.8A43.8 43.8 0 0 1 -78.1 -177.5M-272.7 -45.8A186.6 186.6 0 0 1 -132.1 -168.5M-132.1 -168.5A57.1 57.1 0 0 1 -162.5 -120.1M-132.1 -168.5A297.1 297.1 0 0 1 35.6 76.8M-272.7 -45.8A157.6 157.6 0 0 1 -381.9 -159.5M-381.9 -159.5A122.7 122.7 0 0 1 -277.2 -95.3M-381.9 -159.5A417.9 417.9 0 0 1 25.4 -66.1M-381.9 -159.5A488 488 0 0 1 -25.2 173.6M-272.7 -45.8A106 106 0 0 1 -255.8 -150.5M-255.8 -150.5A98.2 98.2 0 0 1 -162.5 -120.1M-255.8 -150.5A61.4 61.4 0 0 1 -296.3 -196.6M-296.3 -196.6A61.4 61.4 0 0 1 -255.8 -150.5M-272.7 -45.8A124.8 124.8 0 0 1 -203 -149.3M-203 -149.3A50 50 0 0 1 -162.5 -120.1M-203 -149.3A62.9 62.9 0 0 1 -231.1 -205.6M-231.1 -205.6A62.9 62.9 0 0 1 -203 -149.3M-272.7 -45.8A267.6 267.6 0 0 1 -27.4 -152.7M-27.4 -152.7A101.5 101.5 0 0 1 25.4 -66.1M-272.7 -45.8A218.4 218.4 0 0 1 -75.8 -140.3M-75.8 -140.3A89 89 0 0 1 -162.5 -120.1M-75.8 -140.3A318 318 0 0 1 -25.2 173.6M-75.8 -140.3A49.9 49.9 0 0 1 -27.4 -152.7M-27.4 -152.7A49.9 49.9 0 0 1 -75.8 -140.3M-272.7 -45.8A95.9 95.9 0 0 1 -333.5 -120.1M-333.5 -120.1A133.4 133.4 0 0 1 -206.3 -79.6M-333.5 -120.1A368 368 0 0 1 -342.5 247.8M-272.7 -45.8A168.2 168.2 0 0 1 -119.7 -115.6M-119.7 -115.6A43 43 0 0 1 -162.5 -120.1M-119.7 -115.6A472 472 0 0 1 -143.3 355.9M-119.7 -115.6A50.4 50.4 0 0 1 -75.8 -140.3M-75.8 -140.3A50.4 50.4 0 0 1 -119.7 -115.6M-272.7 -45.8A254.9 254.9 0 0 1 -24.1 -102.1M-24.1 -102.1A67.3 67.3 0 0 1 17.6 -155M-24.1 -102.1A188.6 188.6 0 0 1 35.6 76.8M-272.7 -45.8A209.9 209.9 0 0 1 -64.6 -72.8M-64.6 -72.8A35.5 35.5 0 0 1 -99.5 -66.1M-64.6 -72.8A69.8 69.8 0 0 1 -119.7 -115.6M-119.7 -115.6A69.8 69.8 0 0 1 -64.6 -72.8M-272.7 -45.8A126.9 126.9 0 0 1 -156.8 5.9M-156.8 5.9A74.5 74.5 0 0 1 -228.8 -13.2M-156.8 5.9A114.1 114.1 0 0 1 -243.5 80.2M-243.5 80.2A114.1 114.1 0 0 1 -156.8 5.9M-272.7 -45.8A199.4 199.4 0 0 1 -459.5 -115.6M-459.5 -115.6A142.9 142.9 0 0 1 -406.6 17.2M-459.5 -115.6A608.9 608.9 0 0 1 41.2 231M-459.5 -115.6A76.8 76.8 0 0 1 -419 -50.3M-419 -50.3A76.8 76.8 0 0 1 -459.5 -115.6M-272.7 -45.8A191.1 191.1 0 0 1 -460.6 -80.7M-460.6 -80.7A184 184 0 0 1 -277.2 -95.3M-460.6 -80.7A369.1 369.1 0 0 1 -467.4 288.3M-272.7 -45.8A117.1 117.1 0 0 1 -383 -85.2M-383 -85.2A105.1 105.1 0 0 1 -406.6 17.2M-383 -85.2A69.8 69.8 0 0 1 -385.2 -15.4M-385.2 -15.4A69.8 69.8 0 0 1 -383 -85.2M-272.7 -45.8A256.5 256.5 0 0 1 -529.3 -44.7M-529.3 -44.7A137.4 137.4 0 0 1 -406.6 17.2M-529.3 -44.7A324.8 324.8 0 0 1 -206.3 -79.6M-529.3 -44.7A581.3 581.3 0 0 1 -60.1 298.5M-272.7 -45.8A223.9 223.9 0 0 1 -496.6 -49.2M-496.6 -49.2A111.8 111.8 0 0 1 -406.6 17.2M-272.7 -45.8A146.3 146.3 0 0 1 -419 -50.3M-419 -50.3A138.2 138.2 0 0 1 -335.7 59.9M-272.7 -45.8A116.5 116.5 0 0 1 -385.2 -15.4M-385.2 -15.4A39 39 0 0 1 -406.6 17.2M-385.2 -15.4A316.9 316.9 0 0 1 -258.1 274.8M-272.7 -45.8A199.8 199.8 0 0 1 -467.4 -0.8M-467.4 -0.8A182.1 182.1 0 0 1 -288.5 32.9M-272.7 -45.8A287.8 287.8 0 0 1 -554 14.9M-554 14.9A222.9 222.9 0 0 1 -335.7 59.9M-272.7 -45.8A207.8 207.8 0 0 1 -458.4 47.6M-458.4 47.6A123.3 123.3 0 0 1 -335.7 59.9M-272.7 -45.8A252.9 252.9 0 0 1 -504.5 55.4M-504.5 55.4A132.8 132.8 0 0 1 -500 188.2M-272.7 -45.8A149.9 149.9 0 0 1 -385.2 53.2M-385.2 53.2A50 50 0 0 1 -335.7 59.9M-385.2 53.2A183.6 183.6 0 0 1 -277.2 -95.3M-272.7 -45.8A326.2 326.2 0 0 1 -573.1 81.3M-573.1 81.3A129.5 129.5 0 0 1 -500 188.2M-573.1 81.3A616.4 616.4 0 0 1 25.4 -66.1M-573.1 81.3A476.8 476.8 0 0 1 -120.8 232.1M-272.7 -45.8A292 292 0 0 1 -538.3 75.7M-538.3 75.7A144.1 144.1 0 0 1 -406.6 17.2M-538.3 75.7A35.3 35.3 0 0 1 -573.1 81.3M-573.1 81.3A35.3 35.3 0 0 1 -538.3 75.7M-272.7 -45.8A260.6 260.6 0 0 1 -492.1 94.8M-492.1 94.8A133.3 133.3 0 0 1 -465.1 225.3M-492.1 94.8A578.4 578.4 0 0 1 73.8 214.1M-272.7 -45.8A195.8 195.8 0 0 1 -423.5 79.1M-423.5 79.1A114.2 114.2 0 0 1 -370.6 180.3M-423.5 79.1A311.7 311.7 0 0 1 -133.2 -34.6M-423.5 79.1A47 47 0 0 1 -458.4 47.6M-458.4 47.6A47 47 0 0 1 -423.5 79.1M-272.7 -45.8A129.4 129.4 0 0 1 -243.5 80.2M-243.5 80.2A94.5 94.5 0 0 1 -335.7 59.9M-243.5 80.2A194.9 194.9 0 0 1 -55.6 28.4M-272.7 -45.8A321.9 321.9 0 0 1 -549.5 118.5M-549.5 118.5A85.5 85.5 0 0 1 -500 188.2M-272.7 -45.8A238 238 0 0 1 -447.1 116.2M-447.1 116.2A107 107 0 0 1 -406.6 17.2M-447.1 116.2A271.3 271.3 0 0 1 -277.2 -95.3M-447.1 116.2A380.6 380.6 0 0 1 -73.6 189.3M-447.1 116.2A44 44 0 0 1 -423.5 79.1M-423.5 79.1A44 44 0 0 1 -447.1 116.2M-272.7 -45.8A178.4 178.4 0 0 1 -360.5 109.5M-360.5 109.5A71.6 71.6 0 0 1 -370.6 180.3M-360.5 109.5A61.5 61.5 0 0 1 -385.2 53.2M-385.2 53.2A61.5 61.5 0 0 1 -360.5 109.5M-272.7 -45.8A157.1 157.1 0 0 1 -296.3 109.5M-296.3 109.5A76.9 76.9 0 0 1 -288.5 32.9M-296.3 109.5A198.2 198.2 0 0 1 -333.5 304.1M-272.7 -45.8A307.9 307.9 0 0 1 -515.7 143.2M-515.7 143.2A47.7 47.7 0 0 1 -500 188.2M-272.7 -45.8A281.8 281.8 0 0 1 -478.6 146.6M-478.6 146.6A102.6 102.6 0 0 1 -406.6 219.7M-478.6 146.6A53.5 53.5 0 0 1 -492.1 94.8M-492.1 94.8A53.5 53.5 0 0 1 -478.6 146.6M-272.7 -45.8A228.1 228.1 0 0 1 -398.7 144.3M-398.7 144.3A45.7 45.7 0 0 1 -370.6 180.3M-272.7 -45.8A204.9 204.9 0 0 1 -336.9 148.8M-336.9 148.8A88.9 88.9 0 0 1 -335.7 59.9M-336.9 148.8A469 469 0 0 1 53.6 -111.1M-336.9 148.8A214.6 214.6 0 0 1 -132.1 84.7M-272.7 -45.8A352.3 352.3 0 0 1 -548.4 173.6M-548.4 173.6A140.5 140.5 0 0 1 -467.4 288.3M-548.4 173.6A565.9 565.9 0 0 1 17.6 173.6M-272.7 -45.8A276.2 276.2 0 0 1 -431.4 180.3M-431.4 180.3A46.5 46.5 0 0 1 -406.6 219.7M-431.4 180.3A506.3 506.3 0 0 1 73.8 214.1M-431.4 180.3A58.1 58.1 0 0 1 -478.6 146.6M-478.6 146.6A58.1 58.1 0 0 1 -431.4 180.3" fill="none" stroke="#c8c8c8" stroke-width="0.85"/>
<path d="M-177.5 164h48M-296.7 -35.1h48M-156.1 95.4h48M-64.9 96.5h48M11.6 87.5h48M-96.5 125.8h48M37.4 133.7h48M-31.2 153.9h48M20.6 165.2h48M55.4 164h48M-49.2 184.3h48M-6.4 184.3h48M-259.6 189.9h48M-97.6 200h48M49.8 224.8h48M17.2 241.7h48M-144.8 242.8h48M-191 254h48M-40.2 276.5h48M-282.1 285.5h48M-183.1 293.4h48M39.7 288.9h48M-3.1 304.7h48M-84.1 309.2h48M-207.8 313.7h48M-248.3 319.3h48M-138.1 332.8h48M-106.6 333.9h48M-225.8 345.2h48M-167.3 366.6h48M-133.6 368.8h48M-249.5 367.7h48M-98.7 390.2h48M-183.1 394.7h48M-28.9 250.7h48M-186.5 -109.4h48M-6.4 -144.3h48M29.6 -100.4h48M-301.2 -84.6h48M-230.3 -68.9h48M55.4 -61h48M-123.5 -55.4h48M1.4 -55.4h48M-45.8 -30.6h48M-157.2 -23.9h48M-252.8 -2.5h48M50.9 0.9h48M1.4 17.8h48M-430.6 27.9h48M-79.6 39.1h48M-312.5 43.6h48M-359.7 70.6h48M66.7 63.9h48M-22.2 88.6h48M-394.6 191h48M-524 198.9h48M-302.3 213.5h48M-430.6 230.4h48M-489.1 236h48M-366.5 258.5h48M-326 258.5h48M-456.5 270.9h48M-491.4 299h48M-400.2 302.4h48M-357.5 314.8h48M-419.4 342.9h48M-332.7 372.2h48M-402.5 -472.8h48M-342.9 -472.8h48M-292.2 -460.4h48M-490.2 -444.7h48M-447.5 -442.4h48M-250.6 -434.5h48M-402.5 -419.9h48M-351.9 -426.7h48M-299 -408.7h48M-567.9 -408.7h48M-519.5 -410.9h48M-447.5 -383.9h48M-350.7 -382.8h48M-489.1 -371.5h48M-400.2 -361.4h48M-626.4 -354.7h48M-580.3 -360.3h48M-531.9 -352.4h48M-446.4 -331h48M-656.8 -306.3h48M-605 -305.1h48M-553.3 -307.4h48M-490.2 -310.8h48M-684.9 -259h48M-633.1 -256.8h48M-574.6 -259h48M-522.9 -266.9h48M-686 -211.8h48M-634.3 -205h48M-588.1 -215.1h48M-705.1 -167.9h48M-642.1 -160h48M-684.9 -125.1h48M-133.6 -277h48M-182 -261.3h48M-59.3 -265.8h48M-251.7 -253.4h48M-79.6 -245.5h48M-301.2 -234.3h48M-175.2 -229.8h48M-17.7 -224.1h48M-362 -214h48M-229.2 -209.5h48M-138.1 -206.1h48M-82.9 -206.1h48M-255.1 -194.9h48M-320.3 -185.9h48M-43.6 -184.8h48M9.3 -187h48M-377.7 -180.3h48M-195.5 -174.6h48M-102.1 -166.8h48M-156.1 -157.8h48M-405.9 -148.8h48M-279.8 -139.8h48M-227 -138.6h48M-51.4 -142h48M-99.8 -129.6h48M-357.5 -109.4h48M-143.7 -104.9h48M-48.1 -91.4h48M-88.6 -62.1h48M-180.8 16.6h48M-483.5 -104.9h48M-484.6 -70h48M-407 -74.5h48M-553.3 -34h48M-520.6 -38.5h48M-443 -39.6h48M-409.2 -4.7h48M-491.4 9.9h48M-578 25.6h48M-482.4 58.3h48M-528.5 66.1h48M-409.2 63.9h48M-597.1 92h48M-562.3 86.4h48M-516.1 105.5h48M-447.5 89.8h48M-267.5 90.9h48M-573.5 129.2h48M-471.1 126.9h48M-384.5 120.2h48M-320.3 120.2h48M-539.7 153.9h48M-502.6 157.3h48M-422.7 155h48M-360.9 159.5h48M-572.4 184.3h48M-455.4 191h48" stroke="#8e8e8e" stroke-width="3" fill="none"/>
<path d="M-153.5 153.3h0" stroke="#1f78b4" stroke-width="12.4" stroke-linecap="round" fill="none"/>
<path d="M-272.7 -45.8h0" stroke="#ff7f00" stroke-width="12.4" stroke-linecap="round" fill="none"/>
<path d="M-132.1 84.7h0M-40.9 85.8h0M35.6 76.8h0M-72.5 115.1h0M61.4 123h0M-7.2 143.2h0M44.6 154.5h0M79.4 153.3h0M-25.2 173.6h0M17.6 173.6h0M-235.6 179.2h0M-73.6 189.3h0M73.8 214.1h0M41.2 231h0M-120.8 232.1h0M-167 243.3h0M-16.2 265.8h0M-258.1 274.8h0M-159.1 282.7h0M63.7 278.2h0M20.9 294h0M-60.1 298.5h0M-183.8 303h0M-224.3 308.6h0M-114.1 322.1h0M-82.6 323.2h0M-201.8 334.5h0M-143.3 355.9h0M-109.6 358.1h0M-225.5 357h0M-74.7 379.5h0M-159.1 384h0" stroke="#33a02c" stroke-width="12.4" stroke-linecap="round" fill="none"/>
<path d="M-4.9 240h0" stroke="#b2df8a" stroke-width="12.4" stroke-linecap="round" fill="none"/>
<path d="M-162.5 -120.1h0M17.6 -155h0M53.6 -111.1h0M-277.2 -95.3h0M-206.3 -79.6h0M79.4 -71.7h0M-99.5 -66.1h0M25.4 -66.1h0M-21.8 -41.3h0M-133.2 -34.6h0M-228.8 -13.2h0M74.9 -9.8h0M25.4 7.1h0M-406.6 17.2h0M-55.6 28.4h0M-288.5 32.9h0M-335.7 59.9h0M90.7 53.2h0M1.8 77.9h0M-370.6 180.3h0M-500 188.2h0M-278.3 202.8h0M-406.6 219.7h0M-465.1 225.3h0M-342.5 247.8h0M-302 247.8h0M-432.5 260.2h0M-467.4 288.3h0M-376.2 291.7h0M-333.5 304.1h0M-395.4 332.2h0M-308.7 361.5h0" stroke="#fdbf6f" stroke-width="12.4" stroke-linecap="round" fill="none"/>
<path d="M-378.5 -483.5h0M-318.9 -483.5h0M-268.2 -471.1h0M-466.2 -455.4h0M-423.5 -453.1h0M-226.6 -445.2h0M-378.5 -430.6h0M-327.9 -437.4h0M-275 -419.4h0M-543.9 -419.4h0M-495.5 -421.6h0M-423.5 -394.6h0M-326.7 -393.5h0M-465.1 -382.2h0M-376.2 -372.1h0M-602.4 -365.4h0M-556.3 -371h0M-507.9 -363.1h0M-422.4 -341.7h0M-632.8 -317h0M-581 -315.8h0M-529.3 -318.1h0M-466.2 -321.5h0M-660.9 -269.7h0M-609.1 -267.5h0M-550.6 -269.7h0M-498.9 -277.6h0M-662 -222.5h0M-610.3 -215.7h0M-564.1 -225.8h0M-681.1 -178.6h0M-618.1 -170.7h0M-660.9 -135.8h0M-109.6 -287.7h0M-158 -272h0M-35.3 -276.5h0M-227.7 -264.1h0M-55.6 -256.2h0M-277.2 -245h0M-151.2 -240.5h0M6.3 -234.8h0M-338 -224.7h0M-205.2 -220.2h0M-114.1 -216.8h0M-58.9 -216.8h0M-231.1 -205.6h0M-296.3 -196.6h0M-19.6 -195.5h0M33.3 -197.7h0M-353.7 -191h0M-171.5 -185.3h0M-78.1 -177.5h0M-132.1 -168.5h0M-381.9 -159.5h0M-255.8 -150.5h0M-203 -149.3h0M-27.4 -152.7h0M-75.8 -140.3h0M-333.5 -120.1h0M-119.7 -115.6h0M-24.1 -102.1h0M-64.6 -72.8h0M-156.8 5.9h0M-459.5 -115.6h0M-460.6 -80.7h0M-383 -85.2h0M-529.3 -44.7h0M-496.6 -49.2h0M-419 -50.3h0M-385.2 -15.4h0M-467.4 -0.8h0M-554 14.9h0M-458.4 47.6h0M-504.5 55.4h0M-385.2 53.2h0M-573.1 81.3h0M-538.3 75.7h0M-492.1 94.8h0M-423.5 79.1h0M-243.5 80.2h0M-549.5 118.5h0M-447.1 116.2h0M-360.5 109.5h0M-296.3 109.5h0M-515.7 143.2h0M-478.6 146.6h0M-398.7 144.3h0M-336.9 148.8h0M-548.4 173.6h0M-431.4 180.3h0" stroke="#e31a1c" stroke-width="12.4" stroke-linecap="round" fill="none"/>
<path d="M62.6 460.4A181.1 181.1 0 0 1 -45.1 606M-45.1 606A227.5 227.5 0 0 1 118.2 447.6M5.6 831.6A231.2 231.2 0 0 1 -45.1 606M62.6 460.4A175.6 175.6 0 0 1 -10.6 620M-10.6 620A215.2 215.2 0 0 1 118.2 447.6M5.6 831.6A212.2 212.2 0 0 1 -10.6 620M62.6 460.4A168.7 168.7 0 0 1 18.5 623.3M18.5 623.3A202 202 0 0 1 118.2 447.6M5.6 831.6A208.7 208.7 0 0 1 18.5 623.3M62.6 460.4A225.6 225.6 0 0 1 -50.5 655.6M-50.5 655.6A267.9 267.9 0 0 1 118.2 447.6M5.6 831.6A184.7 184.7 0 0 1 -50.5 655.6M62.6 460.4A219 219 0 0 1 -5.2 668.6M-5.2 668.6A253.1 253.1 0 0 1 118.2 447.6M5.6 831.6A163.3 163.3 0 0 1 -5.2 668.6M62.6 460.4A216.5 216.5 0 0 1 34.7 675.1M34.7 675.1A242.3 242.3 0 0 1 118.2 447.6M5.6 831.6A159.2 159.2 0 0 1 34.7 675.1M62.6 460.4A211 211 0 0 1 102.7 667.5M102.7 667.5A220.5 220.5 0 0 1 118.2 447.6M5.6 831.6A190.6 190.6 0 0 1 102.7 667.5M62.6 460.4A233.1 233.1 0 0 1 139.4 680.5M139.4 680.5A233.8 233.8 0 0 1 118.2 447.6M5.6 831.6A201.8 201.8 0 0 1 139.4 680.5M62.6 460.4A245.2 245.2 0 0 1 172.9 679.4M172.9 679.4A238.1 238.1 0 0 1 118.2 447.6M5.6 831.6A226.1 226.1 0 0 1 172.9 679.4M62.6 460.4A294.7 294.7 0 0 1 -127.2 685.9M-127.2 685.9A342 342 0 0 1 118.2 447.6M5.6 831.6A197.1 197.1 0 0 1 -127.2 685.9M62.6 460.4A280.7 280.7 0 0 1 -87.2 697.7M-87.2 697.7A323.7 323.7 0 0 1 118.2 447.6M5.6 831.6A162.9 162.9 0 0 1 -87.2 697.7M62.6 460.4A237.3 237.3 0 0 1 101.6 694.5M101.6 694.5A247.4 247.4 0 0 1 118.2 447.6M5.6 831.6A167.4 167.4 0 0 1 101.6 694.5M62.6 460.4A323 323 0 0 1 -134.7 716.1M-134.7 716.1A368.8 368.8 0 0 1 118.2 447.6M5.6 831.6A181.7 181.7 0 0 1 -134.7 716.1M62.6 460.4A277.6 277.6 0 0 1 -50.5 713.9M-50.5 713.9A315.3 315.3 0 0 1 118.2 447.6M5.6 831.6A130.3 130.3 0 0 1 -50.5 713.9M62.6 460.4A312.3 312.3 0 0 1 -87.2 734.4M-87.2 734.4A352.8 352.8 0 0 1 118.2 447.6M5.6 831.6A134.4 134.4 0 0 1 -87.2 734.4M62.6 460.4A303.8 303.8 0 0 1 -23.5 751.7M-23.5 751.7A335.5 335.5 0 0 1 118.2 447.6M5.6 831.6A85 85 0 0 1 -23.5 751.7M62.6 460.4A295.5 295.5 0 0 1 28.3 753.9M28.3 753.9A319.2 319.2 0 0 1 118.2 447.6M5.6 831.6A80.9 80.9 0 0 1 28.3 753.9M62.6 460.4A304.7 304.7 0 0 1 93 763.6M93 763.6A317 317 0 0 1 118.2 447.6M5.6 831.6A110.8 110.8 0 0 1 93 763.6M62.6 460.4A297.9 297.9 0 0 1 142.7 747.4M142.7 747.4A300.8 300.8 0 0 1 118.2 447.6M5.6 831.6A160.9 160.9 0 0 1 142.7 747.4M62.6 460.4A300.6 300.6 0 0 1 176.1 738.7M176.1 738.7A296.8 296.8 0 0 1 118.2 447.6M5.6 831.6A194.1 194.1 0 0 1 176.1 738.7M62.6 460.4A328.2 328.2 0 0 1 211.7 752.8M211.7 752.8A319.2 319.2 0 0 1 118.2 447.6M5.6 831.6A220.7 220.7 0 0 1 211.7 752.8M62.6 460.4A368.1 368.1 0 0 1 -126.1 776.5M-126.1 776.5A409.7 409.7 0 0 1 118.2 447.6M5.6 831.6A142.7 142.7 0 0 1 -126.1 776.5M62.6 460.4A370.2 370.2 0 0 1 204.2 802.4M204.2 802.4A365.1 365.1 0 0 1 118.2 447.6M5.6 831.6A200.7 200.7 0 0 1 204.2 802.4M62.6 460.4A369.8 369.8 0 0 1 166.4 815.4M166.4 815.4A370.9 370.9 0 0 1 118.2 447.6M5.6 831.6A161.6 161.6 0 0 1 166.4 815.4M62.6 460.4A367.2 367.2 0 0 1 121.1 822.9M121.1 822.9A375.3 375.3 0 0 1 118.2 447.6M5.6 831.6A115.8 115.8 0 0 1 121.1 822.9M62.6 460.4A397.6 397.6 0 0 1 -74.3 833.7M-74.3 833.7A431.4 431.4 0 0 1 118.2 447.6M5.6 831.6A79.9 79.9 0 0 1 -74.3 833.7M62.6 460.4A409.1 409.1 0 0 1 72.5 869.3M72.5 869.3A424.2 424.2 0 0 1 118.2 447.6M5.6 831.6A76.8 76.8 0 0 1 72.5 869.3M62.6 460.4A250.1 250.1 0 0 1 -113.1 638.4M-113.1 638.4A299.8 299.8 0 0 1 118.2 447.6M-113.1 638.4A49.5 49.5 0 0 1 -127.2 685.9M-113.1 638.4A64.8 64.8 0 0 1 -87.2 697.7M62.6 460.4A375.5 375.5 0 0 1 5.6 831.6M5.6 831.6A229.5 229.5 0 0 1 -11.7 1060.4M-11.7 1060.4A626.4 626.4 0 0 1 118.2 447.6M5.6 831.6A265.9 265.9 0 0 1 -248 751.7M5.6 831.6A222.6 222.6 0 0 1 -196.2 737.7M62.6 460.4A379.3 379.3 0 0 1 -196.2 737.7M5.6 831.6A209.7 209.7 0 0 1 -197.3 778.7M62.6 460.4A410.9 410.9 0 0 1 -197.3 778.7M5.6 831.6A240.1 240.1 0 0 1 -234 816.5M62.6 460.4A463.4 463.4 0 0 1 -234 816.5M5.6 831.6A312.3 312.3 0 0 1 -306.3 846.7M5.6 831.6A179.4 179.4 0 0 1 -173.6 840.2M5.6 831.6A268.8 268.8 0 0 1 -261 866.1M5.6 831.6A130.5 130.5 0 0 1 -119.6 868.3M-119.6 868.3A483.2 483.2 0 0 1 118.2 447.6M5.6 831.6A332.2 332.2 0 0 1 -321.4 889.8M5.6 831.6A214.2 214.2 0 0 1 -200.5 889.8M5.6 831.6A264.9 264.9 0 0 1 -247 911.4M5.6 831.6A328.7 328.7 0 0 1 -300.9 950.3M5.6 831.6A184.7 184.7 0 0 1 -95.9 985.9M-95.9 985.9A579.3 579.3 0 0 1 118.2 447.6M5.6 831.6A170.9 170.9 0 0 1 -34.3 997.8M-34.3 997.8A570.9 570.9 0 0 1 118.2 447.6M5.6 831.6A172.8 172.8 0 0 1 48.8 998.8M48.8 998.8A555.6 555.6 0 0 1 118.2 447.6M5.6 831.6A259.5 259.5 0 0 1 -136.9 1048.5M5.6 831.6A237.7 237.7 0 0 1 95.2 1051.7M5.6 831.6A256.8 256.8 0 0 1 28.3 1087.3M28.3 1087.3A646 646 0 0 1 118.2 447.6M5.6 831.6A156 156 0 0 1 142.7 906M5.6 831.6A171.5 171.5 0 0 1 171.8 873.7M5.6 831.6A220.7 220.7 0 0 1 220.4 882.3M220.4 882.3A446.5 446.5 0 0 1 118.2 447.6M5.6 831.6A266 266 0 0 1 267.9 875.8M5.6 831.6A270.8 270.8 0 0 1 254.9 937.3M5.6 831.6A219.4 219.4 0 0 1 190.1 950.3M190.1 950.3A507.8 507.8 0 0 1 118.2 447.6M5.6 831.6A320.7 320.7 0 0 1 301.3 955.7M5.6 831.6A335.7 335.7 0 0 1 289.4 1010.7M289.4 1010.7A588.6 588.6 0 0 1 118.2 447.6M5.6 831.6A301.4 301.4 0 0 1 233.3 1029.1M-45.1 606A200.4 200.4 0 0 1 -196.2 737.7M-10.6 620A245 245 0 0 1 -197.3 778.7M18.5 623.3A281.3 281.3 0 0 1 -119.6 868.3M-50.5 655.6A219.6 219.6 0 0 1 -248 751.7M-5.2 668.6A240.4 240.4 0 0 1 -173.6 840.2M34.7 675.1A241.3 241.3 0 0 1 171.8 873.7M102.7 667.5A241.8 241.8 0 0 1 142.7 906M139.4 680.5A217.5 217.5 0 0 1 220.4 882.3M172.9 679.4A218.2 218.2 0 0 1 267.9 875.8M-127.2 685.9A168.7 168.7 0 0 1 -234 816.5M-87.2 697.7A223 223 0 0 1 -200.5 889.8M101.6 694.5A270.7 270.7 0 0 1 190.1 950.3M-134.7 716.1A196.1 196.1 0 0 1 -261 866.1M-50.5 713.9A275.7 275.7 0 0 1 -95.9 985.9M-87.2 734.4A238.4 238.4 0 0 1 -247 911.4M-23.5 751.7A246.3 246.3 0 0 1 -34.3 997.8M28.3 753.9A245.9 245.9 0 0 1 48.8 998.8M93 763.6A237.5 237.5 0 0 1 254.9 937.3M142.7 747.4A261.8 261.8 0 0 1 301.3 955.7M176.1 738.7A294.6 294.6 0 0 1 289.4 1010.7M211.7 752.8A277.1 277.1 0 0 1 233.3 1029.1M-126.1 776.5A193.4 193.4 0 0 1 -306.3 846.7M204.2 802.4A272.1 272.1 0 0 1 95.2 1051.7M166.4 815.4A305.1 305.1 0 0 1 28.3 1087.3M121.1 822.9A342.7 342.7 0 0 1 -136.9 1048.5M-74.3 833.7A253.4 253.4 0 0 1 -321.4 889.8M72.5 869.3A382.1 382.1 0 0 1 -300.9 950.3M-11.7 1060.4A198.6 198.6 0 0 1 -169.2 939.5M-169.2 939.5A58.7 58.7 0 0 1 -200.5 889.8M-169.2 939.5A424.3 424.3 0 0 1 211.7 752.8M-169.2 939.5A53.6 53.6 0 0 1 -116.4 948.1M-116.4 948.1A53.6 53.6 0 0 1 -169.2 939.5M-11.7 1060.4A153.5 153.5 0 0 1 -116.4 948.1M-116.4 948.1A95.9 95.9 0 0 1 -34.3 997.8M-116.4 948.1A356 356 0 0 1 102.7 667.5M-11.7 1060.4A120.4 120.4 0 0 1 -41.9 943.8M-41.9 943.8A68.4 68.4 0 0 1 -95.9 985.9M-41.9 943.8A259.1 259.1 0 0 1 -300.9 950.3M-41.9 943.8A74.6 74.6 0 0 1 -116.4 948.1M-116.4 948.1A74.6 74.6 0 0 1 -41.9 943.8M-11.7 1060.4A140.8 140.8 0 0 1 80.1 953.5M80.1 953.5A99.4 99.4 0 0 1 95.2 1051.7M-11.7 1060.4A264 264 0 0 1 -258.8 967.5M-258.8 967.5A45.5 45.5 0 0 1 -300.9 950.3M-258.8 967.5A289.5 289.5 0 0 1 -87.2 734.4M-11.7 1060.4A207.8 207.8 0 0 1 -201.6 976.2M-201.6 976.2A86.3 86.3 0 0 1 -200.5 889.8M-201.6 976.2A48.9 48.9 0 0 1 -169.2 939.5M-169.2 939.5A48.9 48.9 0 0 1 -201.6 976.2M-11.7 1060.4A332.5 332.5 0 0 1 -335.5 984.8M-335.5 984.8A115 115 0 0 1 -247 911.4M-335.5 984.8A78.5 78.5 0 0 1 -258.8 967.5M-258.8 967.5A78.5 78.5 0 0 1 -335.5 984.8M-11.7 1060.4A286.6 286.6 0 0 1 -293.4 1007.5M-293.4 1007.5A106.7 106.7 0 0 1 -247 911.4M-293.4 1007.5A47.8 47.8 0 0 1 -335.5 984.8M-335.5 984.8A47.8 47.8 0 0 1 -293.4 1007.5M-11.7 1060.4A250.6 250.6 0 0 1 -257.7 1012.9M-257.7 1012.9A102 102 0 0 1 -247 911.4M-257.7 1012.9A452.3 452.3 0 0 1 190.1 950.3M-11.7 1060.4A211.7 211.7 0 0 1 -218.9 1017.2M-218.9 1017.2A109.4 109.4 0 0 1 -247 911.4M-11.7 1060.4A150.9 150.9 0 0 1 -150.9 1002.1M-150.9 1002.1A48.5 48.5 0 0 1 -136.9 1048.5M-11.7 1060.4A137.1 137.1 0 0 1 111.4 999.9M111.4 999.9A62.6 62.6 0 0 1 48.8 998.8M111.4 999.9A207.7 207.7 0 0 1 -95.9 985.9M111.4 999.9A81.6 81.6 0 0 1 149.1 1072.2M149.1 1072.2A81.6 81.6 0 0 1 111.4 999.9M-11.7 1060.4A187 187 0 0 1 162.1 991.3M162.1 991.3A49.7 49.7 0 0 1 190.1 950.3M162.1 991.3A475 475 0 0 1 -248 751.7M-11.7 1060.4A238 238 0 0 1 216.1 991.3M216.1 991.3A41.5 41.5 0 0 1 233.3 1029.1M216.1 991.3A88.6 88.6 0 0 1 219.3 1079.8M219.3 1079.8A88.6 88.6 0 0 1 216.1 991.3M-11.7 1060.4A327.7 327.7 0 0 1 -338.7 1039.9M-338.7 1039.9A97.2 97.2 0 0 1 -300.9 950.3M-338.7 1039.9A445.2 445.2 0 0 1 72.5 869.3M-338.7 1039.9A52.9 52.9 0 0 1 -327.9 1091.7M-327.9 1091.7A52.9 52.9 0 0 1 -338.7 1039.9M-11.7 1060.4A266.6 266.6 0 0 1 -278.3 1056M-278.3 1056A108.2 108.2 0 0 1 -300.9 950.3M-278.3 1056A305.9 305.9 0 0 1 -248 751.7M-11.7 1060.4A189.1 189.1 0 0 1 -200.5 1051.7M-200.5 1051.7A63.8 63.8 0 0 1 -136.9 1048.5M-200.5 1051.7A147.8 147.8 0 0 1 -247 911.4M-200.5 1051.7A39.1 39.1 0 0 1 -218.9 1017.2M-218.9 1017.2A39.1 39.1 0 0 1 -200.5 1051.7M-11.7 1060.4A202.1 202.1 0 0 1 190.1 1050.7M190.1 1050.7A48.3 48.3 0 0 1 233.3 1029.1M190.1 1050.7A95 95 0 0 1 95.2 1051.7M-11.7 1060.4A283.9 283.9 0 0 1 272.2 1063.6M272.2 1063.6A111.8 111.8 0 0 1 301.3 955.7M272.2 1063.6A55.3 55.3 0 0 1 219.3 1079.8M219.3 1079.8A55.3 55.3 0 0 1 272.2 1063.6M-11.7 1060.4A331.5 331.5 0 0 1 319.7 1071.2M319.7 1071.2A96.1 96.1 0 0 1 233.3 1029.1M-11.7 1060.4A317.8 317.8 0 0 1 -327.9 1091.7M-327.9 1091.7A197.6 197.6 0 0 1 -247 911.4M-11.7 1060.4A231.8 231.8 0 0 1 -242.6 1079.8M-242.6 1079.8A168.4 168.4 0 0 1 -247 911.4M-242.6 1079.8A241.7 241.7 0 0 1 -306.3 846.7M-242.6 1079.8A34.4 34.4 0 0 1 -266.4 1104.6M-266.4 1104.6A34.4 34.4 0 0 1 -242.6 1079.8M-11.7 1060.4A158.5 158.5 0 0 1 -168.2 1085.2M-168.2 1085.2A159.9 159.9 0 0 1 -34.3 997.8M-168.2 1085.2A401.4 401.4 0 0 1 -127.2 685.9M-11.7 1060.4A96.7 96.7 0 0 1 -104.5 1087.3M-104.5 1087.3A113.8 113.8 0 0 1 -34.3 997.8M-104.5 1087.3A63.7 63.7 0 0 1 -168.2 1085.2M-168.2 1085.2A63.7 63.7 0 0 1 -104.5 1087.3M-11.7 1060.4A161.2 161.2 0 0 1 149.1 1072.2M149.1 1072.2A94.6 94.6 0 0 1 233.3 1029.1M149.1 1072.2A459 459 0 0 1 -261 866.1M-11.7 1060.4A231.8 231.8 0 0 1 219.3 1079.8M219.3 1079.8A98.5 98.5 0 0 1 289.4 1010.7M219.3 1079.8A41.2 41.2 0 0 1 190.1 1050.7M190.1 1050.7A41.2 41.2 0 0 1 219.3 1079.8M-11.7 1060.4A258.5 258.5 0 0 1 -266.4 1104.6M-266.4 1104.6A141.1 141.1 0 0 1 -136.9 1048.5M-266.4 1104.6A572.1 572.1 0 0 1 102.7 667.5M-11.7 1060.4A133.1 133.1 0 0 1 114.6 1102.5M114.6 1102.5A54.3 54.3 0 0 1 95.2 1051.7M114.6 1102.5A485.1 485.1 0 0 1 -321.4 889.8M-11.7 1060.4A290.1 290.1 0 0 1 274.3 1108.9M274.3 1108.9A155.6 155.6 0 0 1 301.3 955.7M274.3 1108.9A45.4 45.4 0 0 1 272.2 1063.6M272.2 1063.6A45.4 45.4 0 0 1 274.3 1108.9M-11.7 1060.4A252.3 252.3 0 0 1 233.3 1120.8M233.3 1120.8A123.6 123.6 0 0 1 289.4 1010.7M233.3 1120.8A43.3 43.3 0 0 1 219.3 1079.8M219.3 1079.8A43.3 43.3 0 0 1 233.3 1120.8M-11.7 1060.4A231.8 231.8 0 0 1 -230.8 1135.9M-230.8 1135.9A201.8 201.8 0 0 1 -95.9 985.9M-230.8 1135.9A37.3 37.3 0 0 1 -194.1 1142.4M-194.1 1142.4A37.3 37.3 0 0 1 -230.8 1135.9M-11.7 1060.4A200 200 0 0 1 -194.1 1142.4M-194.1 1142.4A215.5 215.5 0 0 1 -34.3 997.8M-194.1 1142.4A363.7 363.7 0 0 1 -197.3 778.7M-194.1 1142.4A421.7 421.7 0 0 1 -87.2 734.4M-11.7 1060.4A122.4 122.4 0 0 1 -114.2 1127.3M-114.2 1127.3A142.6 142.6 0 0 1 -95.9 985.9M-114.2 1127.3A207.5 207.5 0 0 1 48.8 998.8M-114.2 1127.3A41.1 41.1 0 0 1 -104.5 1087.3M-104.5 1087.3A41.1 41.1 0 0 1 -114.2 1127.3M-11.7 1060.4A89.4 89.4 0 0 1 -47.3 1142.4M-47.3 1142.4A93.5 93.5 0 0 1 28.3 1087.3M-47.3 1142.4A439.3 439.3 0 0 1 -248 751.7M-11.7 1060.4A108.5 108.5 0 0 1 61.7 1140.2M61.7 1140.2A94.6 94.6 0 0 1 95.2 1051.7M61.7 1140.2A65 65 0 0 1 114.6 1102.5M114.6 1102.5A65 65 0 0 1 61.7 1140.2M-11.7 1060.4A208.4 208.4 0 0 1 182.6 1135.9M182.6 1135.9A121.4 121.4 0 0 1 95.2 1051.7M-11.7 1060.4A169.4 169.4 0 0 1 130.8 1152.1M130.8 1152.1A160.2 160.2 0 0 1 233.3 1029.1M130.8 1152.1A533.2 533.2 0 0 1 -306.3 846.7M-11.7 1060.4A265.9 265.9 0 0 1 238.7 1149.9M238.7 1149.9A173.9 173.9 0 0 1 95.2 1051.7M-11.7 1060.4A330.7 330.7 0 0 1 306.7 1149.9M306.7 1149.9A194.3 194.3 0 0 1 301.3 955.7M306.7 1149.9A679.9 679.9 0 0 1 -321.4 889.8M306.7 1149.9A52.3 52.3 0 0 1 274.3 1108.9M274.3 1108.9A52.3 52.3 0 0 1 306.7 1149.9M-11.7 1060.4A209.6 209.6 0 0 1 -184.4 1179.1M-184.4 1179.1A212.5 212.5 0 0 1 -95.9 985.9M-184.4 1179.1A569.1 569.1 0 0 1 176.1 738.7M-184.4 1179.1A38 38 0 0 1 -194.1 1142.4M-194.1 1142.4A38 38 0 0 1 -184.4 1179.1M-11.7 1060.4A161.2 161.2 0 0 1 -119.6 1180.2M-119.6 1180.2A132.8 132.8 0 0 1 -136.9 1048.5M-119.6 1180.2A451.2 451.2 0 0 1 28.3 753.9M-11.7 1060.4A159.5 159.5 0 0 1 100.6 1173.7M100.6 1173.7A122.1 122.1 0 0 1 95.2 1051.7M100.6 1173.7A112.6 112.6 0 0 1 28.3 1087.3M-11.7 1060.4A224.1 224.1 0 0 1 184.8 1168.3M184.8 1168.3A147.5 147.5 0 0 1 233.3 1029.1M-11.7 1060.4A292.5 292.5 0 0 1 250.6 1189.9M250.6 1189.9A183.3 183.3 0 0 1 289.4 1010.7M250.6 1189.9A457.2 457.2 0 0 1 176.1 738.7M-11.7 1060.4A150.5 150.5 0 0 1 -23.5 1210.4M-23.5 1210.4A133.5 133.5 0 0 1 28.3 1087.3M-23.5 1210.4A538.5 538.5 0 0 1 34.7 675.1M-11.7 1060.4A143.5 143.5 0 0 1 13.1 1201.8M13.1 1201.8A115.4 115.4 0 0 1 28.3 1087.3M13.1 1201.8A451.6 451.6 0 0 1 -23.5 751.7M-11.7 1060.4A157.8 157.8 0 0 1 58.5 1201.8M58.5 1201.8A203.1 203.1 0 0 1 48.8 998.8M58.5 1201.8A118.3 118.3 0 0 1 28.3 1087.3M58.5 1201.8A50.6 50.6 0 0 1 100.6 1173.7M100.6 1173.7A50.6 50.6 0 0 1 58.5 1201.8M-11.7 1060.4A193.6 193.6 0 0 1 87.6 1226.6M87.6 1226.6A231 231 0 0 1 48.8 998.8M87.6 1226.6A38.3 38.3 0 0 1 58.5 1201.8M58.5 1201.8A38.3 38.3 0 0 1 87.6 1226.6M-11.7 1060.4A229.6 229.6 0 0 1 162.1 1210.4M162.1 1210.4A181.8 181.8 0 0 1 28.3 1087.3M162.1 1210.4A604.4 604.4 0 0 1 18.5 623.3M162.1 1210.4A71.6 71.6 0 0 1 100.6 1173.7M100.6 1173.7A71.6 71.6 0 0 1 162.1 1210.4M-11.7 1060.4A406.9 406.9 0 0 1 -345.2 1293.5M-345.2 1293.5A394.5 394.5 0 0 1 -247 911.4M-11.7 1060.4A370.7 370.7 0 0 1 -299.8 1293.5M-299.8 1293.5A369.1 369.1 0 0 1 -95.9 985.9M-299.8 1293.5A47.6 47.6 0 0 1 -253.4 1304.3M-253.4 1304.3A47.6 47.6 0 0 1 -299.8 1293.5M-11.7 1060.4A343.4 343.4 0 0 1 -253.4 1304.3M-253.4 1304.3A355.5 355.5 0 0 1 28.3 1087.3M-11.7 1060.4A321.4 321.4 0 0 1 -200.5 1320.5M-200.5 1320.5A279.3 279.3 0 0 1 -136.9 1048.5M-200.5 1320.5A51.9 51.9 0 0 1 -182.2 1369M-182.2 1369A51.9 51.9 0 0 1 -200.5 1320.5M-11.7 1060.4A303.1 303.1 0 0 1 -143.3 1333.4M-143.3 1333.4A350.8 350.8 0 0 1 -95.9 985.9M-143.3 1333.4A675.1 675.1 0 0 1 176.1 738.7M-143.3 1333.4A58 58 0 0 1 -88.3 1351.8M-88.3 1351.8A58 58 0 0 1 -143.3 1333.4M-11.7 1060.4A430.9 430.9 0 0 1 -330.1 1350.7M-330.1 1350.7A358.7 358.7 0 0 1 -136.9 1048.5M-330.1 1350.7A838.8 838.8 0 0 1 172.9 679.4M-330.1 1350.7A64.7 64.7 0 0 1 -299.8 1293.5M-299.8 1293.5A64.7 64.7 0 0 1 -330.1 1350.7M-11.7 1060.4A401.7 401.7 0 0 1 -285.8 1353.9M-285.8 1353.9A412 412 0 0 1 28.3 1087.3M-11.7 1060.4A374.3 374.3 0 0 1 -238.3 1358.2M-238.3 1358.2A398.7 398.7 0 0 1 -95.9 985.9M-238.3 1358.2A541.8 541.8 0 0 1 -234 816.5M-238.3 1358.2A53.4 53.4 0 0 1 -200.5 1320.5M-200.5 1320.5A53.4 53.4 0 0 1 -238.3 1358.2M-11.7 1060.4A352.6 352.6 0 0 1 -182.2 1369M-182.2 1369A392.7 392.7 0 0 1 -95.9 985.9M-182.2 1369A775.3 775.3 0 0 1 -45.1 606M-182.2 1369A52.7 52.7 0 0 1 -143.3 1333.4M-143.3 1333.4A52.7 52.7 0 0 1 -182.2 1369M-11.7 1060.4A301.3 301.3 0 0 1 -88.3 1351.8M-88.3 1351.8A289 289 0 0 1 28.3 1087.3M-11.7 1060.4A298.7 298.7 0 0 1 -33.3 1358.2M-33.3 1358.2A326.6 326.6 0 0 1 -136.9 1048.5M-33.3 1358.2A702.8 702.8 0 0 1 -50.5 655.6M-11.7 1060.4A301.3 301.3 0 0 1 26.1 1359.3M26.1 1359.3A315.3 315.3 0 0 1 95.2 1051.7M26.1 1359.3A524.6 524.6 0 0 1 -247 911.4M-11.7 1060.4A331.3 331.3 0 0 1 111.4 1368M111.4 1368A292.7 292.7 0 0 1 28.3 1087.3M-11.7 1060.4A355.8 355.8 0 0 1 165.3 1369M165.3 1369A346.7 346.7 0 0 1 233.3 1029.1M-11.7 1060.4A381.5 381.5 0 0 1 222.5 1361.5M222.5 1361.5A332.6 332.6 0 0 1 233.3 1029.1M-11.7 1060.4A346.2 346.2 0 0 1 -131.5 1385.2M-131.5 1385.2A338 338 0 0 1 28.3 1087.3M-131.5 1385.2A53.1 53.1 0 0 1 -143.3 1333.4M-143.3 1333.4A53.1 53.1 0 0 1 -131.5 1385.2M-11.7 1060.4A336.9 336.9 0 0 1 65 1388.5M65 1388.5A390 390 0 0 1 48.8 998.8M65 1388.5A48.6 48.6 0 0 1 26.1 1359.3M26.1 1359.3A48.6 48.6 0 0 1 65 1388.5M-11.7 1060.4A441.6 441.6 0 0 1 -286.9 1405.7M-286.9 1405.7A387.5 387.5 0 0 1 -136.9 1048.5M-286.9 1405.7A56.1 56.1 0 0 1 -230.8 1406.8M-230.8 1406.8A56.1 56.1 0 0 1 -286.9 1405.7M-11.7 1060.4A409.9 409.9 0 0 1 -230.8 1406.8M-230.8 1406.8A370.4 370.4 0 0 1 -136.9 1048.5M-230.8 1406.8A51.6 51.6 0 0 1 -181.1 1420.8M-181.1 1420.8A51.6 51.6 0 0 1 -230.8 1406.8M-11.7 1060.4A398.3 398.3 0 0 1 -181.1 1420.8M-181.1 1420.8A393.8 393.8 0 0 1 28.3 1087.3M-181.1 1420.8A821.6 821.6 0 0 1 172.9 679.4M-181.1 1420.8A44 44 0 0 1 -145.5 1446.7M-145.5 1446.7A44 44 0 0 1 -181.1 1420.8M-11.7 1060.4A361.5 361.5 0 0 1 -94.8 1412.2M-94.8 1412.2A407.5 407.5 0 0 1 95.2 1051.7M-94.8 1412.2A426.3 426.3 0 0 1 -95.9 985.9M-94.8 1412.2A757.9 757.9 0 0 1 -50.5 655.6M-11.7 1060.4A350.4 350.4 0 0 1 -47.3 1409M-47.3 1409A384.6 384.6 0 0 1 95.2 1051.7M-47.3 1409A590.8 590.8 0 0 1 220.4 882.3M-47.3 1409A52.6 52.6 0 0 1 -33.3 1358.2M-33.3 1358.2A52.6 52.6 0 0 1 -47.3 1409M-11.7 1060.4A345.8 345.8 0 0 1 5.6 1405.7M5.6 1405.7A384.6 384.6 0 0 1 -136.9 1048.5M5.6 1405.7A54.3 54.3 0 0 1 -10.6 1457.5M-10.6 1457.5A54.3 54.3 0 0 1 5.6 1405.7M-11.7 1060.4A385 385 0 0 1 131.9 1417.6M131.9 1417.6A367.7 367.7 0 0 1 95.2 1051.7M131.9 1417.6A655.2 655.2 0 0 1 93 763.6M131.9 1417.6A51.2 51.2 0 0 1 85.5 1439.2M85.5 1439.2A51.2 51.2 0 0 1 131.9 1417.6M-11.7 1060.4A409.5 409.5 0 0 1 211.7 1403.6M211.7 1403.6A365.6 365.6 0 0 1 28.3 1087.3M211.7 1403.6A57.8 57.8 0 0 1 165.3 1369M165.3 1369A57.8 57.8 0 0 1 211.7 1403.6M-11.7 1060.4A450.1 450.1 0 0 1 -242.6 1446.7M-242.6 1446.7A412.1 412.1 0 0 1 -136.9 1048.5M-242.6 1446.7A59.4 59.4 0 0 1 -190.8 1475.9M-190.8 1475.9A59.4 59.4 0 0 1 -242.6 1446.7M-11.7 1060.4A408.9 408.9 0 0 1 -145.5 1446.7M-145.5 1446.7A398.3 398.3 0 0 1 -136.9 1048.5M-145.5 1446.7A584 584 0 0 1 -321.4 889.8M-145.5 1446.7A714.7 714.7 0 0 1 -87.2 734.4M-11.7 1060.4A412.9 412.9 0 0 1 -103.4 1462.9M-103.4 1462.9A456.6 456.6 0 0 1 95.2 1051.7M-103.4 1462.9A648.9 648.9 0 0 1 301.3 955.7M-103.4 1462.9A50.9 50.9 0 0 1 -133.6 1503.9M-133.6 1503.9A50.9 50.9 0 0 1 -103.4 1462.9M-11.7 1060.4A408.3 408.3 0 0 1 -57 1466.2M-57 1466.2A388.3 388.3 0 0 1 28.3 1087.3M-11.7 1060.4A397.2 397.2 0 0 1 -10.6 1457.5M-10.6 1457.5A372.2 372.2 0 0 1 28.3 1087.3M-11.7 1060.4A390.9 390.9 0 0 1 40.1 1447.8M40.1 1447.8A436.8 436.8 0 0 1 -136.9 1048.5M40.1 1447.8A601.2 601.2 0 0 1 -119.6 868.3M40.1 1447.8A755.8 755.8 0 0 1 101.6 694.5M-11.7 1060.4A391.1 391.1 0 0 1 85.5 1439.2M85.5 1439.2A436 436 0 0 1 233.3 1029.1M-11.7 1060.4A437.5 437.5 0 0 1 154.5 1465.1M154.5 1465.1A417.6 417.6 0 0 1 95.2 1051.7M154.5 1465.1A717.8 717.8 0 0 1 142.7 747.4M154.5 1465.1A52.6 52.6 0 0 1 131.9 1417.6M131.9 1417.6A52.6 52.6 0 0 1 154.5 1465.1M-11.7 1060.4A427.8 427.8 0 0 1 191.2 1437M191.2 1437A397.1 397.1 0 0 1 95.2 1051.7M191.2 1437A790 790 0 0 1 -87.2 697.7M191.2 1437A39.2 39.2 0 0 1 211.7 1403.6M211.7 1403.6A39.2 39.2 0 0 1 191.2 1437M-11.7 1060.4A452.5 452.5 0 0 1 -190.8 1475.9M-190.8 1475.9A446.1 446.1 0 0 1 28.3 1087.3M-190.8 1475.9A832.2 832.2 0 0 1 -50.5 655.6M-11.7 1060.4A441.5 441.5 0 0 1 114.6 1483.4M114.6 1483.4A432.1 432.1 0 0 1 95.2 1051.7M114.6 1483.4A43.9 43.9 0 0 1 154.5 1465.1M154.5 1465.1A43.9 43.9 0 0 1 114.6 1483.4M-11.7 1060.4A460 460 0 0 1 -133.6 1503.9M-133.6 1503.9A455.5 455.5 0 0 1 -136.9 1048.5M-133.6 1503.9A537 537 0 0 1 48.8 998.8M-133.6 1503.9A58.4 58.4 0 0 1 -145.5 1446.7M-145.5 1446.7A58.4 58.4 0 0 1 -133.6 1503.9M-11.7 1060.4A456.1 456.1 0 0 1 -71 1512.6M-71 1512.6A436.7 436.7 0 0 1 28.3 1087.3M-11.7 1060.4A455.6 455.6 0 0 1 -21.4 1515.8M-21.4 1515.8A431.3 431.3 0 0 1 28.3 1087.3M-21.4 1515.8A535.1 535.1 0 0 1 -95.9 985.9M-21.4 1515.8A49.2 49.2 0 0 1 26.1 1502.9M26.1 1502.9A49.2 49.2 0 0 1 -21.4 1515.8M-11.7 1060.4A444.1 444.1 0 0 1 26.1 1502.9M26.1 1502.9A415.5 415.5 0 0 1 28.3 1087.3M26.1 1502.9A799.6 799.6 0 0 1 -248 751.7M26.1 1502.9A827.8 827.8 0 0 1 34.7 675.1M26.1 1502.9A46.4 46.4 0 0 1 72.5 1501.8M72.5 1501.8A46.4 46.4 0 0 1 26.1 1502.9M-11.7 1060.4A449.4 449.4 0 0 1 72.5 1501.8M72.5 1501.8A416.8 416.8 0 0 1 28.3 1087.3M72.5 1501.8A815.7 815.7 0 0 1 -248 751.7M72.5 1501.8A62.9 62.9 0 0 1 40.1 1447.8M40.1 1447.8A62.9 62.9 0 0 1 72.5 1501.8" fill="none" stroke="#c8c8c8" stroke-width="0.85"/>
<path d="M-18.4 842.3h48M-35.7 1071.1h48M-69.1 616.7h48M-34.6 630.7h48M-5.5 634h48M-74.5 666.3h48M-29.2 679.3h48M10.7 685.8h48M78.7 678.2h48M115.4 691.2h48M148.9 690.1h48M-151.2 696.6h48M-111.2 708.4h48M77.6 705.2h48M-158.7 726.8h48M-74.5 724.6h48M-111.2 745.1h48M-47.5 762.4h48M4.3 764.6h48M69 774.3h48M118.7 758.1h48M152.1 749.4h48M187.7 763.5h48M-150.1 787.2h48M180.2 813.1h48M142.4 826.1h48M97.1 833.6h48M-98.3 844.4h48M48.5 880h48M-137.1 649.1h48M-272 762.4h48M-220.2 748.4h48M-221.3 789.4h48M-258 827.2h48M-330.3 857.4h48M-197.6 850.9h48M-285 876.8h48M-143.6 879h48M-345.4 900.5h48M-224.5 900.5h48M-271 922.1h48M-324.9 961h48M-119.9 996.6h48M-58.3 1008.5h48M24.8 1009.5h48M-160.9 1059.2h48M71.2 1062.4h48M4.3 1098h48M118.7 916.7h48M147.8 884.4h48M196.4 893h48M243.9 886.5h48M230.9 948h48M166.1 961h48M277.3 966.4h48M265.4 1021.4h48M209.3 1039.8h48M-193.2 950.2h48M-140.4 958.8h48M-65.9 954.5h48M56.1 964.2h48M-282.8 978.2h48M-225.6 986.9h48M-359.5 995.5h48M-317.4 1018.2h48M-281.7 1023.6h48M-242.9 1027.9h48M-174.9 1012.8h48M87.4 1010.6h48M138.1 1002h48M192.1 1002h48M-362.7 1050.6h48M-302.3 1066.7h48M-224.5 1062.4h48M166.1 1061.4h48M248.2 1074.3h48M295.7 1081.9h48M-351.9 1102.4h48M-266.6 1090.5h48M-192.2 1095.9h48M-128.5 1098h48M125.1 1082.9h48M195.3 1090.5h48M-290.4 1115.3h48M90.6 1113.2h48M250.3 1119.6h48M209.3 1131.5h48M-254.8 1146.6h48M-218.1 1153.1h48M-138.2 1138h48M-71.3 1153.1h48M37.7 1150.9h48M158.6 1146.6h48M106.8 1162.8h48M214.7 1160.6h48M282.7 1160.6h48M-208.4 1189.8h48M-143.6 1190.9h48M76.6 1184.4h48M160.8 1179h48M226.6 1200.6h48M-47.5 1221.1h48M-10.9 1212.5h48M34.5 1212.5h48M63.6 1237.3h48M138.1 1221.1h48M-369.2 1304.2h48M-323.8 1304.2h48M-277.4 1315h48M-224.5 1331.2h48M-167.3 1344.1h48M-354.1 1361.4h48M-309.8 1364.6h48M-262.3 1368.9h48M-206.2 1379.7h48M-112.3 1362.5h48M-57.3 1368.9h48M2.1 1370h48M87.4 1378.7h48M141.3 1379.7h48M198.5 1372.2h48M-155.5 1395.9h48M41 1399.2h48M-310.9 1416.4h48M-254.8 1417.5h48M-205.1 1431.5h48M-118.8 1422.9h48M-71.3 1419.7h48M-18.4 1416.4h48M107.9 1428.3h48M187.7 1414.3h48M-266.6 1457.4h48M-169.5 1457.4h48M-127.4 1473.6h48M-81 1476.9h48M-34.6 1468.2h48M16.1 1458.5h48M61.5 1449.9h48M130.5 1475.8h48M167.2 1447.7h48M-214.8 1486.6h48M90.6 1494.1h48M-157.6 1514.6h48M-95 1523.3h48M-45.4 1526.5h48M2.1 1513.6h48M48.5 1512.5h48" stroke="#8e8e8e" stroke-width="3" fill="none"/>
<path d="M5.6 831.6h0" stroke="#1f78b4" stroke-width="12.4" stroke-linecap="round" fill="none"/>
<path d="M-11.7 1060.4h0" stroke="#ff7f00" stroke-width="12.4" stroke-linecap="round" fill="none"/>
<path d="M-45.1 606h0M-10.6 620h0M18.5 623.3h0M-50.5 655.6h0M-5.2 668.6h0M34.7 675.1h0M102.7 667.5h0M139.4 680.5h0M172.9 679.4h0M-127.2 685.9h0M-87.2 697.7h0M101.6 694.5h0M-134.7 716.1h0M-50.5 713.9h0M-87.2 734.4h0M-23.5 751.7h0M28.3 753.9h0M93 763.6h0M142.7 747.4h0M176.1 738.7h0M211.7 752.8h0M-126.1 776.5h0M204.2 802.4h0M166.4 815.4h0M121.1 822.9h0M-74.3 833.7h0M72.5 869.3h0" stroke="#33a02c" stroke-width="12.4" stroke-linecap="round" fill="none"/>
<path d="M-113.1 638.4h0" stroke="#b2df8a" stroke-width="12.4" stroke-linecap="round" fill="none"/>
<path d="M-248 751.7h0M-196.2 737.7h0M-197.3 778.7h0M-234 816.5h0M-306.3 846.7h0M-173.6 840.2h0M-261 866.1h0M-119.6 868.3h0M-321.4 889.8h0M-200.5 889.8h0M-247 911.4h0M-300.9 950.3h0M-95.9 985.9h0M-34.3 997.8h0M48.8 998.8h0M-136.9 1048.5h0M95.2 1051.7h0M28.3 1087.3h0M142.7 906h0M171.8 873.7h0M220.4 882.3h0M267.9 875.8h0M254.9 937.3h0M190.1 950.3h0M301.3 955.7h0M289.4 1010.7h0M233.3 1029.1h0" stroke="#fdbf6f" stroke-width="12.4" stroke-linecap="round" fill="none"/>
<path d="M-169.2 939.5h0M-116.4 948.1h0M-41.9 943.8h0M80.1 953.5h0M-258.8 967.5h0M-201.6 976.2h0M-335.5 984.8h0M-293.4 1007.5h0M-257.7 1012.9h0M-218.9 1017.2h0M-150.9 1002.1h0M111.4 999.9h0M162.1 991.3h0M216.1 991.3h0M-338.7 1039.9h0M-278.3 1056h0M-200.5 1051.7h0M190.1 1050.7h0M272.2 1063.6h0M319.7 1071.2h0M-327.9 1091.7h0M-242.6 1079.8h0M-168.2 1085.2h0M-104.5 1087.3h0M149.1 1072.2h0M219.3 1079.8h0M-266.4 1104.6h0M114.6 1102.5h0M274.3 1108.9h0M233.3 1120.8h0M-230.8 1135.9h0M-194.1 1142.4h0M-114.2 1127.3h0M-47.3 1142.4h0M61.7 1140.2h0M182.6 1135.9h0M130.8 1152.1h0M238.7 1149.9h0M306.7 1149.9h0M-184.4 1179.1h0M-119.6 1180.2h0M100.6 1173.7h0M184.8 1168.3h0M250.6 1189.9h0M-23.5 1210.4h0M13.1 1201.8h0M58.5 1201.8h0M87.6 1226.6h0M162.1 1210.4h0M-345.2 1293.5h0M-299.8 1293.5h0M-253.4 1304.3h0M-200.5 1320.5h0M-143.3 1333.4h0M-330.1 1350.7h0M-285.8 1353.9h0M-238.3 1358.2h0M-182.2 1369h0M-88.3 1351.8h0M-33.3 1358.2h0M26.1 1359.3h0M111.4 1368h0M165.3 1369h0M222.5 1361.5h0M-131.5 1385.2h0M65 1388.5h0M-286.9 1405.7h0M-230.8 1406.8h0M-181.1 1420.8h0M-94.8 1412.2h0M-47.3 1409h0M5.6 1405.7h0M131.9 1417.6h0M211.7 1403.6h0M-242.6 1446.7h0M-145.5 1446.7h0M-103.4 1462.9h0M-57 1466.2h0M-10.6 1457.5h0M40.1 1447.8h0M85.5 1439.2h0M154.5 1465.1h0M191.2 1437h0M-190.8 1475.9h0M114.6 1483.4h0M-133.6 1503.9h0M-71 1512.6h0M-21.4 1515.8h0M26.1 1502.9h0M72.5 1501.8h0" stroke="#e31a1c" stroke-width="12.4" stroke-linecap="round" fill="none"/>
<use href="#bg"/>
<path d="M94.2 458.3h48M510.6 378.1h48M728.4 358.1h48M335.4 282.1h48M309.4 309.9h48M347.4 310.1h48M356.4 339.1h48M319.4 345.5h48M269.8 360.1h48M349.6 368.3h48M338.8 394.5h48M279.6 403.9h48M371 410.3h48M396 252.3h48M414 282.1h48M526 288.7h48M475.6 311.3h48M431 372.9h48M565 407.7h48M371 458.7h48M340.8 467.9h48M339.8 504.7h48M371.6 502.7h48M367.4 539.3h48M441.4 444.3h48M515.4 471.7h48M449.6 480.1h48M511 517.7h48M445.8 529.3h48M431 555.3h48M316.2 257.9h48M555.4 101.7h48M622.4 86.3h48M652 121.1h48M523 138.7h48M576.6 146.7h48M462.4 176.3h48M546 190.3h48M597 199.7h48M784.1 208.7h48M501 223.1h48M606.4 248.7h48M750.8 254.3h48M610 299.7h48M713.6 308.7h48M657.6 345.9h48M721.4 403.5h48M823.2 353.1h48M726.6 447.7h48M643.2 460.1h48M605 509.1h48M632.8 548.9h48M590 574.9h48M702.6 583.9h48M622.2 612.9h48M682.6 622.2h48M793 430.3h48M786.4 514.7h48M746 61.1h48M690 95.5h48M761.6 118.3h48M708.4 140.3h48M655.4 158.1h48M725.2 180.3h48M663.2 203.1h48M717 219.7h48M794 93h48M786.4 156h48M865.8 142.6h48M899.8 140.5h48M834.1 177.9h48M858.7 194.7h48M899 215.6h48M931.8 215.4h48M691.8 253.3h48M832 247.7h48M894.6 259.9h48M1112.8 273.7h48M956.4 293.3h48M789.2 298.3h48M861.2 312.9h48M930 318.3h48M1120.4 338.1h48M933.4 368.9h48M973.2 378.7h48M866.8 377.7h48M947.4 413.7h48M758.6 486.9h48M706.8 496.3h48M704.2 540.3h48M752.6 554.3h48M748 608.1h48M873.2 426.7h48M845.2 453.1h48M917 462.5h48M899.4 488.7h48M945 497.1h48M849.4 501.5h48M835.4 542.3h48M900.8 544.7h48M887.8 571.5h48M806.6 576.5h48M841.4 606.9h48M805 637.7h48M214 546.1h48M181.6 574.7h48" stroke="#8e8e8e" stroke-width="3" fill="none"/>
</g>
<g fill="none" stroke="#000" stroke-linecap="butt">
<path d="M16.4 471.4C16.3 468.9 17.7 466.1 19.1 463.7C20.4 461.3 22.8 459 24.7 456.8C26.7 454.6 28.7 452.6 30.6 450.6C32.5 448.5 34.5 446.5 36.4 444.4C38.3 442.3 40.3 440.3 42.2 438.2C44.1 436.1 46 434 48 431.9C49.9 429.8 51.8 427.7 53.7 425.5C55.7 423.4 57.6 421.3 59.5 419.1C61.4 417 63.3 414.9 65.3 412.7C67.2 410.6 66.7 411.1 71 406.3C75.4 401.5 84.5 391.3 91.4 384C98.2 376.7 105.2 369.4 112.2 362.3C119.2 355.2 126.4 348.2 133.6 341.3C140.8 334.4 148 327.7 155.4 321C162.8 314.3 170.2 307.7 177.7 301.2C185.2 294.7 192.8 288.2 200.4 281.9C208.1 275.5 215.8 269.3 223.6 263.1C231.3 256.9 239.1 250.7 247 244.7C254.9 238.6 262.8 232.6 270.8 226.6C278.8 220.7 286.8 214.7 294.9 208.9C302.9 203 311 197.2 319.2 191.4C327.3 185.6 335.5 179.8 343.7 174.1C351.9 168.3 360.1 162.6 368.4 157C376.7 151.3 385 145.7 393.4 140.2C401.8 134.8 410.2 129.3 418.7 124C427.2 118.7 435.8 113.5 444.4 108.4C453 103.3 461.7 98.4 470.4 93.6C479.2 88.8 488 84.1 496.9 79.6C505.9 75.2 514.9 70.8 524 66.7C533.1 62.6 542.2 58.7 551.5 55C560.8 51.3 570.2 47.8 579.6 44.5C589 41.3 598.5 38.2 608.1 35.4C617.7 32.6 627.3 30 637 27.7C646.7 25.4 656.4 23.3 666.2 21.4C675.9 19.6 685.8 18 695.6 16.8C705.4 15.5 715.3 14.4 725.1 13.7C735 13 744.9 12.5 754.8 12.3C764.7 12.2 774.6 12.3 784.5 12.7C794.3 13.2 804.2 13.9 814 15C823.9 16 833.7 17.4 843.5 19.1C853.3 20.8 863 22.8 872.8 25.2C882.5 27.6 892.1 30.3 901.7 33.4C911.3 36.5 920.9 39.9 930.3 43.6C939.7 47.3 949 51.4 958.2 55.8C967.4 60.1 976.5 64.8 985.4 69.8C994.2 74.7 1003 80 1011.5 85.6C1020.1 91.1 1028.4 96.9 1036.5 103C1044.7 109.1 1052.6 115.5 1060.2 122.1C1067.8 128.7 1075.2 135.6 1082.3 142.7C1089.4 149.8 1096.2 157.1 1102.7 164.7C1109.2 172.3 1115.4 180.1 1121.2 188.1C1127 196.1 1132.5 204.3 1137.6 212.7C1142.7 221.1 1147.4 229.7 1151.7 238.5C1156 247.3 1159.9 256.3 1163.3 265.4C1166.8 274.5 1169.8 283.8 1172.3 293.3C1174.8 302.7 1176.9 312.3 1178.4 322.1C1180 331.8 1181 341.7 1181.5 351.7C1182 361.7 1182 371.9 1181.4 382.1C1180.8 392.2 1179.7 402.5 1178 412.6C1176.3 422.7 1174 432.9 1171.2 442.6C1168.3 452.4 1164.9 462.1 1160.9 471.3C1157 480.5 1152.4 489.5 1147.2 497.9C1142.1 506.3 1136.3 514.2 1130 521.6C1123.7 529 1116.8 535.8 1109.5 542.3C1102.2 548.7 1094.3 554.6 1086.2 560.2C1078.1 565.8 1069.5 570.9 1060.7 575.7C1052 580.6 1042.8 585 1033.6 589.1C1024.4 593.3 1014.8 597.1 1005.3 600.8C995.8 604.4 986.1 607.7 976.4 610.9C966.8 614.1 957.1 617 947.4 619.8C937.7 622.6 928 625.2 918.3 627.7C908.5 630.2 898.8 632.4 889.1 634.6C879.3 636.7 869.6 638.7 859.8 640.5C850.1 642.4 840.3 644 830.5 645.6C820.7 647.2 810.9 648.6 801.1 649.9C791.3 651.3 781.5 652.4 771.6 653.6C761.8 654.7 751.9 655.6 742.1 656.6C732.2 657.5 722.3 658.3 712.4 659C702.5 659.7 692.6 660.4 682.7 661C672.7 661.6 662.8 662.1 652.8 662.6C642.9 663.1 632.9 663.5 622.9 663.8C612.9 664.2 602.9 664.5 592.9 664.7C582.9 664.9 572.8 665 562.8 665C552.8 665 542.8 664.9 532.8 664.7C522.8 664.4 512.8 664.1 502.8 663.6C492.8 663.1 482.8 662.5 472.9 661.7C462.9 660.9 453 660 443.1 658.8C433.2 657.7 423.3 656.4 413.4 654.9C403.6 653.4 393.8 651.7 384 649.8C374.2 647.9 364.5 645.8 354.8 643.6C345.1 641.3 335.4 638.8 325.8 636.2C316.2 633.5 306.6 630.7 297 627.8C287.5 624.8 278 621.7 268.5 618.4C259.1 615.1 249.7 611.7 240.3 608.2C231 604.6 221.7 601 212.4 597.2C203.2 593.4 193.9 589.5 184.8 585.4C175.7 581.4 166.6 577.2 157.6 572.8C148.7 568.5 139.8 563.9 131.1 559.1C122.4 554.3 113.8 549.3 105.4 544C97 538.7 86.1 530.9 80.8 527.2C75.6 523.6 76.2 523.8 73.9 522.1C71.6 520.4 69.3 518.7 67.1 516.9C64.8 515.2 62.5 513.5 60.2 511.7C57.9 510 55.7 508.2 53.4 506.5C51.1 504.7 48.8 503 46.5 501.3C44.2 499.5 41.9 497.8 39.5 496.1C37.2 494.4 34.8 492.7 32.6 490.9C30.3 489.2 28 487.4 25.9 485.4C23.8 483.4 21.6 481.4 20 479C18.5 476.7 16.6 474 16.4 471.4Z" stroke-width="3.3" stroke-dasharray="11.9 6.187"/>
<path d="M184.8 826.8C184.8 826.3 185 825.8 185.3 825.4C185.5 824.9 186 824.5 186.3 824.1C186.7 823.7 187 823.3 187.4 823C187.8 822.6 188.1 822.2 188.5 821.8C188.8 821.5 189.2 821.1 189.5 820.7C189.9 820.3 190.2 819.9 190.6 819.5C191 819.1 191.3 818.7 191.7 818.4C192 818 192.4 817.6 192.7 817.2C193.1 816.8 193.4 816.4 193.8 816C194.1 815.6 194 815.7 194.8 814.8C195.6 813.9 197.3 812.1 198.6 810.7C199.8 809.4 201.1 808 202.4 806.7C203.7 805.4 205 804.1 206.3 802.9C207.7 801.6 209 800.3 210.4 799.1C211.7 797.9 213.1 796.7 214.5 795.5C215.9 794.3 217.2 793.1 218.7 791.9C220.1 790.8 221.5 789.6 222.9 788.5C224.3 787.3 225.8 786.2 227.2 785.1C228.7 784 230.1 782.9 231.6 781.8C233.1 780.7 234.5 779.6 236 778.5C237.5 777.4 239 776.3 240.5 775.3C242 774.2 243.5 773.1 245 772.1C246.5 771 248 770 249.6 768.9C251.1 767.9 252.6 766.9 254.2 765.9C255.7 764.9 257.3 763.9 258.8 762.9C260.4 761.9 262 760.9 263.5 760C265.1 759.1 266.7 758.2 268.3 757.3C269.9 756.4 271.6 755.5 273.2 754.7C274.9 753.9 276.5 753.1 278.2 752.3C279.9 751.6 281.5 750.9 283.3 750.2C285 749.5 286.7 748.9 288.4 748.3C290.2 747.7 291.9 747.1 293.7 746.6C295.4 746.1 297.2 745.6 299 745.2C300.8 744.7 302.6 744.3 304.3 744C306.1 743.7 308 743.4 309.8 743.1C311.6 742.9 313.4 742.7 315.2 742.6C317 742.4 318.8 742.4 320.7 742.3C322.5 742.3 324.3 742.3 326.1 742.4C327.9 742.5 329.7 742.6 331.6 742.8C333.4 743 335.2 743.3 337 743.6C338.8 743.9 340.6 744.3 342.4 744.7C344.1 745.1 345.9 745.6 347.7 746.2C349.5 746.8 351.2 747.4 352.9 748.1C354.7 748.8 356.4 749.5 358.1 750.3C359.8 751.1 361.4 752 363.1 752.9C364.7 753.8 366.3 754.8 367.9 755.8C369.5 756.8 371 757.9 372.5 759C374 760.1 375.4 761.3 376.8 762.5C378.3 763.7 379.6 765 380.9 766.3C382.2 767.6 383.5 769 384.7 770.4C385.9 771.8 387 773.2 388.1 774.7C389.1 776.1 390.2 777.7 391.1 779.2C392 780.7 392.9 782.3 393.7 783.9C394.5 785.6 395.2 787.2 395.8 788.9C396.5 790.6 397 792.3 397.5 794C397.9 795.8 398.3 797.5 398.6 799.3C398.9 801.1 399.1 802.9 399.2 804.8C399.3 806.6 399.3 808.5 399.2 810.4C399 812.2 398.8 814.1 398.5 816C398.2 817.8 397.8 819.7 397.3 821.5C396.7 823.3 396.1 825.1 395.4 826.8C394.7 828.5 393.8 830.1 392.9 831.7C391.9 833.2 390.8 834.7 389.7 836C388.5 837.4 387.3 838.7 385.9 839.8C384.6 841 383.1 842.1 381.6 843.1C380.1 844.2 378.6 845.1 376.9 846C375.3 846.9 373.7 847.7 372 848.5C370.3 849.2 368.5 849.9 366.7 850.6C365 851.3 363.2 851.9 361.4 852.5C359.7 853 357.9 853.6 356.1 854.1C354.3 854.6 352.5 855.1 350.7 855.6C348.9 856 347.2 856.4 345.4 856.8C343.6 857.2 341.8 857.6 340 857.9C338.2 858.3 336.4 858.6 334.6 858.9C332.8 859.1 331 859.4 329.2 859.6C327.4 859.9 325.6 860.1 323.8 860.3C321.9 860.5 320.1 860.7 318.3 860.9C316.5 861 314.7 861.2 312.9 861.3C311 861.5 309.2 861.6 307.4 861.7C305.6 861.8 303.7 861.9 301.9 862C300.1 862.1 298.2 862.1 296.4 862.2C294.5 862.3 292.7 862.3 290.9 862.4C289 862.4 287.2 862.4 285.3 862.4C283.5 862.4 281.6 862.4 279.8 862.4C278 862.3 276.1 862.3 274.3 862.2C272.4 862.1 270.6 862 268.8 861.8C266.9 861.7 265.1 861.5 263.3 861.3C261.5 861.1 259.7 860.8 257.8 860.6C256 860.3 254.2 860 252.4 859.6C250.6 859.3 248.8 858.9 247 858.5C245.3 858.1 243.5 857.6 241.7 857.1C239.9 856.6 238.2 856.1 236.4 855.6C234.7 855 232.9 854.4 231.2 853.8C229.4 853.2 227.7 852.6 226 852C224.3 851.3 222.6 850.6 220.9 849.9C219.2 849.2 217.5 848.5 215.8 847.8C214.1 847 212.4 846.3 210.8 845.5C209.1 844.7 207.5 843.8 205.9 842.9C204.3 842.1 202.7 841.1 201.2 840.2C199.6 839.2 197.6 837.7 196.6 837.1C195.7 836.4 195.8 836.4 195.4 836.1C195 835.8 194.5 835.5 194.1 835.2C193.7 834.9 193.3 834.5 192.9 834.2C192.4 833.9 192 833.6 191.6 833.3C191.2 832.9 190.8 832.6 190.3 832.3C189.9 832 189.5 831.7 189 831.3C188.6 831 188.2 830.7 187.8 830.4C187.3 830.1 186.9 829.7 186.5 829.4C186.2 829 185.7 828.6 185.5 828.2C185.2 827.8 184.8 827.3 184.8 826.8Z" stroke-width="3.2" stroke-dasharray="11.9 5.897"/>
</g>
<g fill="none" stroke="#7a7a7a" stroke-opacity="0.5" stroke-width="3">
<path d="M20.5 481L185 826" stroke-dasharray="11 12.7" stroke-dashoffset="6.2"/>
<path d="M389.5 844L685 663" stroke-dasharray="11 12.96"/>
</g>
<g font-family='"Liberation Sans", sans-serif' font-size="20.7" stroke-width="2.9">
<circle cx="619.6" cy="759" r="16.65" fill="#1f78b4" stroke="#196496"/>
<text x="652.5" y="767.7" fill="#196496" stroke="none">kadiai:cidsmodel (3)</text>
<circle cx="619.6" cy="806.4" r="16.65" fill="#fb9a99" stroke="#d28080"/>
<text x="652.5" y="815.1" fill="#d28080" stroke="none">kadiai:dataset (1)</text>
<circle cx="619.6" cy="853.9" r="16.65" fill="#b2df8a" stroke="#94ba73"/>
<text x="652.5" y="862.6" fill="#94ba73" stroke="none">kadiai:evaluation (3)</text>
<circle cx="619.6" cy="901.3" r="16.65" fill="#fdbf6f" stroke="#d39f5c"/>
<text x="652.5" y="910" fill="#d39f5c" stroke="none">kadiai:model (86)</text>
<circle cx="619.6" cy="948.8" r="16.65" fill="#cab2d6" stroke="#a994b3"/>
<text x="652.5" y="957.5" fill="#a994b3" stroke="none">kadiai:preprocessor (1)</text>
<circle cx="944" cy="759" r="16.65" fill="#a6cee3" stroke="#8aacbd"/>
<text x="977.4" y="767.7" fill="#8aacbd" stroke="none">kadiai:project (1)</text>
<circle cx="944" cy="806.4" r="16.65" fill="#ff7f00" stroke="#d56a00"/>
<text x="977.4" y="815.1" fill="#d56a00" stroke="none">kadiai:results-search (3)</text>
<circle cx="944" cy="853.9" r="16.65" fill="#33a02c" stroke="#2a8524"/>
<text x="977.4" y="862.6" fill="#2a8524" stroke="none">kadiai:results-training (86)</text>
<circle cx="944" cy="901.3" r="16.65" fill="#6a3d9a" stroke="#583380"/>
<text x="977.4" y="910" fill="#583380" stroke="none">kadiai:src (1)</text>
<circle cx="944" cy="948.8" r="16.65" fill="#e31a1c" stroke="#bd1517"/>
<text x="977.4" y="957.5" fill="#bd1517" stroke="none">kadiai:trial (226)</text>
</g>
<rect x="1232.6" y="28.4" width="725.5" height="971.4" fill="none" stroke="#000" stroke-width="2.8" stroke-dasharray="12 11.96"/>
<text x="1255" y="983" font-family='"Liberation Sans", sans-serif' font-weight="bold" font-size="29.4" textLength="226" lengthAdjust="spacingAndGlyphs" stroke="#000" stroke-width="0.5">Reduced View</text>
<g fill="none" stroke="#c9c9c9" stroke-width="2">
<path d="M1375.8 427C1371.5 297.7 1395.1 228.1 1490.5 142"/>
<path d="M1517.4 802.6C1480.1 586 1472.9 363.8 1500.5 146"/>
<path d="M1577 489C1578.5 349.7 1564.9 207.9 1605.5 73.5"/>
<path d="M1613.4 60C1626.5 272.5 1637 483.8 1695.3 690.5"/>
<path d="M1792 428C1760.4 299.1 1698.9 181 1622.5 72.5"/>
<path d="M1761 131C1781.8 224.1 1798.8 315.6 1792.3 412"/>
<path d="M1761 131C1726.9 314.6 1695.7 501.5 1699.2 689.5"/>
<path d="M1792 428C1775.5 519.8 1765.4 614 1707.5 692"/>
<path d="M1792 428C1797.1 585.9 1789.1 743.1 1773.4 901"/>
<path d="M1577 489C1609.8 560.8 1649.2 624.8 1689.5 692.5"/>
<path d="M1762 914C1662 802.7 1567.5 662 1577.3 505"/>
<path d="M1762 914C1685.6 883.8 1573.9 897 1524.5 817.5"/>
<path d="M1375.8 427C1374.6 557.6 1406.2 699.2 1507 791"/>
<path d="M1699.4 706L1531 795.2" stroke-width="2.4"/>
</g>
<path d="M1490.5 142L1485.9 152.2L1479.9 145.5Z" fill="#c9c9c9"/><path d="M1605.5 73.5L1606.9 84.6L1598.2 82Z" fill="#c9c9c9"/><path d="M1695.3 690.5L1688.2 681.9L1696.9 679.5Z" fill="#c9c9c9"/><path d="M1622.5 72.5L1632.1 78.2L1624.7 83.4Z" fill="#c9c9c9"/><path d="M1792.3 412L1788.5 401.5L1797.5 402.1Z" fill="#c9c9c9"/><path d="M1699.2 689.5L1694.5 679.4L1703.5 679.2Z" fill="#c9c9c9"/><path d="M1707.5 692L1710 681.1L1717.2 686.5Z" fill="#c9c9c9"/><path d="M1689.5 692.5L1680.4 686L1688.1 681.4Z" fill="#c9c9c9"/><path d="M1577.3 505L1581.2 515.5L1572.2 514.9Z" fill="#c9c9c9"/><path d="M1524.5 817.5L1533.7 823.8L1526.1 828.5Z" fill="#c9c9c9"/><path d="M1507 791L1496.4 787.5L1502.5 780.8Z" fill="#c9c9c9"/><path d="M1530.6 795.4L1537.5 786.6L1541.7 794.6Z" fill="#c9c9c9"/>
<g font-family='"Liberation Sans", sans-serif' font-size="13.7" fill="#2a2a2a" text-anchor="middle">
<text transform="translate(1388 260) rotate(-67)" y="4.2">cids:converts</text>
<text transform="translate(1474.4 358) rotate(-89)" y="4.2">cids:converted-from</text>
<text transform="translate(1564 330.4) rotate(-85.5)" y="4.2">cids:defines</text>
<text transform="translate(1644 334) rotate(82)" y="4.2">cids:trains</text>
<text transform="translate(1693 205.5) rotate(62.2)" y="4.2">cids:generates</text>
<text transform="translate(1743.5 314.7) rotate(-81)" y="4.2">cids:defines_training_and_validation_data</text>
<text transform="translate(1800 299.5) rotate(81.5)" y="4.2">cids:creates</text>
<text transform="translate(1757.6 555) rotate(-73.8)" y="4.2">cids:executes</text>
<text transform="translate(1802.5 658.5) rotate(-87)" y="4.2">cids:executes</text>
<text transform="translate(1636.3 578) rotate(59.4)" y="4.2">cids:requests</text>
<text transform="translate(1604 638) rotate(70)" y="4.2">cids:selects</text>
<text transform="translate(1401.3 640) rotate(66.5)" y="4.2">cids:produces</text>
<text transform="translate(1591.6 775.3) rotate(-27.9)" y="4.2">cids:trained-on</text>
<text transform="translate(1645.7 875.4) rotate(17.4)" y="4.2">cids:searched-using</text>
</g>
<g stroke-width="1.8">
<circle cx="1613.4" cy="60" r="14" fill="#fdbf6f" stroke="#d7a25e"/>
<circle cx="1503.6" cy="131" r="14" fill="#6a3d9a" stroke="#5a3382"/>
<circle cx="1761" cy="131" r="14" fill="#a6cee3" stroke="#8dafc0"/>
<circle cx="1375.8" cy="427" r="14" fill="#cab2d6" stroke="#ab97b5"/>
<circle cx="1792" cy="428" r="14" fill="#1f78b4" stroke="#1a6699"/>
<circle cx="1577" cy="489" r="14" fill="#e31a1c" stroke="#c01617"/>
<circle cx="1699.4" cy="706" r="14.4" fill="#33a02c" stroke="#2a8524" stroke-width="2.8"/>
<circle cx="1517.4" cy="802.6" r="14" fill="#fb9a99" stroke="#d58282"/>
<circle cx="1773.4" cy="901.4" r="14" fill="#ff7f00" stroke="#d86b00"/>
</g>
<g font-family='"Liberation Sans", sans-serif' text-anchor="middle">
<text x="1613.4" y="89" font-size="13.33" font-weight="bold" fill="#111">@cids-breathing-detection-model01</text>
<text x="1613.4" y="100.6" font-size="11.7" fill="#333">kadiai:model</text>
<text x="1503.6" y="157.6" font-size="13.33" font-weight="bold" fill="#111">@cids-breathing-detection-src</text>
<text x="1503.6" y="169" font-size="11.7" fill="#333">kadiai:src</text>
<text x="1761" y="157" font-size="13.33" font-weight="bold" fill="#111">@cids-breathing-detection-project</text>
<text x="1761" y="168.3" font-size="11.7" fill="#333">kadiai:project</text>
<text x="1375.8" y="454" font-size="13.33" font-weight="bold" fill="#111">@cids-breathing-detection-preprocessor</text>
<text x="1375.8" y="466" font-size="11.7" fill="#333">kadiai:preprocessor</text>
<text x="1792" y="455" font-size="13.33" font-weight="bold" fill="#111">@cids-breathing-detection-cidsmodel01</text>
<text x="1792" y="467" font-size="11.7" fill="#333">kadiai:cidsmodel</text>
<text x="1577" y="516" font-size="13.33" font-weight="bold" fill="#111">@cids-breathing-detection-trial001</text>
<text x="1577" y="528" font-size="11.7" fill="#333">kadiai:trial</text>
<text x="1699.4" y="734" font-size="13.33" font-weight="bold" fill="#111">@cids-breathing-detection-training001</text>
<text x="1699.4" y="745.3" font-size="11.7" fill="#333">kadiai:results-training</text>
<text x="1517.4" y="829.6" font-size="13.33" font-weight="bold" fill="#111">@cids-breathing-detection-dataset</text>
<text x="1517.4" y="841" font-size="11.7" fill="#333">kadiai:dataset</text>
<text x="1773.4" y="929" font-size="13.33" font-weight="bold" fill="#111">@cids-breathing-detection-search01</text>
<text x="1773.4" y="940.3" font-size="11.7" fill="#333">kadiai:results-search</text>
</g>
</svg></body></html>
